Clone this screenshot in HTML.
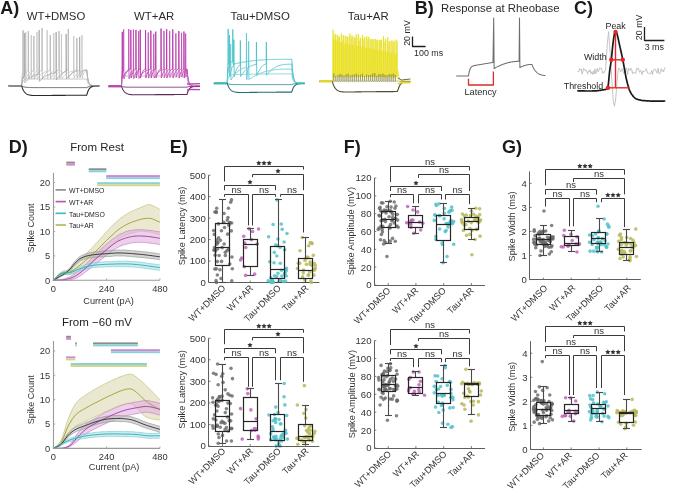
<!DOCTYPE html>
<html><head><meta charset="utf-8"><style>
html,body{margin:0;padding:0;background:#fff;overflow:hidden;}
svg{display:block;will-change:transform;}
text{font-family:"Liberation Sans", sans-serif;}
</style></head><body>
<svg width="685" height="489" viewBox="0 0 685 489">
<rect x="0" y="0" width="685" height="489" fill="#fff"/>
<line x1="208.50" y1="175.20" x2="208.50" y2="282.50" stroke="#5e5e5e" stroke-width="1"/>
<line x1="208.50" y1="282.50" x2="319.40" y2="282.50" stroke="#5e5e5e" stroke-width="1"/>
<line x1="208.60" y1="282.50" x2="210.60" y2="282.50" stroke="#5e5e5e" stroke-width="0.8"/>
<text x="205.80" y="285.90" font-size="9.6" text-anchor="end" font-weight="normal" fill="#333333">0</text>
<line x1="208.60" y1="261.04" x2="210.60" y2="261.04" stroke="#5e5e5e" stroke-width="0.8"/>
<text x="205.80" y="264.44" font-size="9.6" text-anchor="end" font-weight="normal" fill="#333333">100</text>
<line x1="208.60" y1="239.58" x2="210.60" y2="239.58" stroke="#5e5e5e" stroke-width="0.8"/>
<text x="205.80" y="242.98" font-size="9.6" text-anchor="end" font-weight="normal" fill="#333333">200</text>
<line x1="208.60" y1="218.12" x2="210.60" y2="218.12" stroke="#5e5e5e" stroke-width="0.8"/>
<text x="205.80" y="221.52" font-size="9.6" text-anchor="end" font-weight="normal" fill="#333333">300</text>
<line x1="208.60" y1="196.66" x2="210.60" y2="196.66" stroke="#5e5e5e" stroke-width="0.8"/>
<text x="205.80" y="200.06" font-size="9.6" text-anchor="end" font-weight="normal" fill="#333333">400</text>
<line x1="208.60" y1="175.20" x2="210.60" y2="175.20" stroke="#5e5e5e" stroke-width="0.8"/>
<text x="205.80" y="178.60" font-size="9.6" text-anchor="end" font-weight="normal" fill="#333333">500</text>
<line x1="222.50" y1="282.50" x2="222.50" y2="280.50" stroke="#5e5e5e" stroke-width="0.8"/>
<line x1="250.20" y1="282.50" x2="250.20" y2="280.50" stroke="#5e5e5e" stroke-width="0.8"/>
<line x1="278.00" y1="282.50" x2="278.00" y2="280.50" stroke="#5e5e5e" stroke-width="0.8"/>
<line x1="305.70" y1="282.50" x2="305.70" y2="280.50" stroke="#5e5e5e" stroke-width="0.8"/>
<text x="184.90" y="225.90" font-size="9.2" text-anchor="middle" font-weight="normal" fill="#333333" transform="rotate(-90 184.90 225.90)">Spike Latency (ms)</text>
<circle cx="231.78" cy="280.86" r="1.8" fill="#666666" fill-opacity="0.8"/>
<circle cx="227.66" cy="234.15" r="1.8" fill="#666666" fill-opacity="0.8"/>
<circle cx="214.86" cy="211.94" r="1.8" fill="#666666" fill-opacity="0.8"/>
<circle cx="217.43" cy="261.62" r="1.8" fill="#666666" fill-opacity="0.8"/>
<circle cx="214.52" cy="249.51" r="1.8" fill="#666666" fill-opacity="0.8"/>
<circle cx="213.70" cy="230.54" r="1.8" fill="#666666" fill-opacity="0.8"/>
<circle cx="228.44" cy="208.22" r="1.8" fill="#666666" fill-opacity="0.8"/>
<circle cx="216.05" cy="280.64" r="1.8" fill="#666666" fill-opacity="0.8"/>
<circle cx="223.69" cy="222.34" r="1.8" fill="#666666" fill-opacity="0.8"/>
<circle cx="221.45" cy="230.68" r="1.8" fill="#666666" fill-opacity="0.8"/>
<circle cx="216.31" cy="212.39" r="1.8" fill="#666666" fill-opacity="0.8"/>
<circle cx="227.14" cy="250.49" r="1.8" fill="#666666" fill-opacity="0.8"/>
<circle cx="215.12" cy="255.16" r="1.8" fill="#666666" fill-opacity="0.8"/>
<circle cx="225.37" cy="255.55" r="1.8" fill="#666666" fill-opacity="0.8"/>
<circle cx="214.83" cy="268.98" r="1.8" fill="#666666" fill-opacity="0.8"/>
<circle cx="220.92" cy="278.54" r="1.8" fill="#666666" fill-opacity="0.8"/>
<circle cx="216.76" cy="244.30" r="1.8" fill="#666666" fill-opacity="0.8"/>
<circle cx="217.90" cy="242.51" r="1.8" fill="#666666" fill-opacity="0.8"/>
<circle cx="231.92" cy="257.07" r="1.8" fill="#666666" fill-opacity="0.8"/>
<circle cx="228.57" cy="249.42" r="1.8" fill="#666666" fill-opacity="0.8"/>
<circle cx="218.58" cy="237.91" r="1.8" fill="#666666" fill-opacity="0.8"/>
<circle cx="230.20" cy="222.82" r="1.8" fill="#666666" fill-opacity="0.8"/>
<circle cx="216.71" cy="208.27" r="1.8" fill="#666666" fill-opacity="0.8"/>
<circle cx="220.39" cy="240.19" r="1.8" fill="#666666" fill-opacity="0.8"/>
<circle cx="229.59" cy="222.49" r="1.8" fill="#666666" fill-opacity="0.8"/>
<circle cx="225.34" cy="252.37" r="1.8" fill="#666666" fill-opacity="0.8"/>
<circle cx="214.51" cy="247.66" r="1.8" fill="#666666" fill-opacity="0.8"/>
<circle cx="232.29" cy="268.81" r="1.8" fill="#666666" fill-opacity="0.8"/>
<circle cx="216.76" cy="240.04" r="1.8" fill="#666666" fill-opacity="0.8"/>
<circle cx="217.67" cy="249.05" r="1.8" fill="#666666" fill-opacity="0.8"/>
<circle cx="227.95" cy="217.43" r="1.8" fill="#666666" fill-opacity="0.8"/>
<circle cx="219.08" cy="255.53" r="1.8" fill="#666666" fill-opacity="0.8"/>
<circle cx="218.43" cy="223.90" r="1.8" fill="#666666" fill-opacity="0.8"/>
<circle cx="213.97" cy="250.24" r="1.8" fill="#666666" fill-opacity="0.8"/>
<circle cx="214.30" cy="234.42" r="1.8" fill="#666666" fill-opacity="0.8"/>
<circle cx="224.15" cy="244.02" r="1.8" fill="#666666" fill-opacity="0.8"/>
<circle cx="217.36" cy="274.96" r="1.8" fill="#666666" fill-opacity="0.8"/>
<circle cx="224.53" cy="227.45" r="1.8" fill="#666666" fill-opacity="0.8"/>
<circle cx="219.93" cy="269.71" r="1.8" fill="#666666" fill-opacity="0.8"/>
<circle cx="221.56" cy="261.41" r="1.8" fill="#666666" fill-opacity="0.8"/>
<circle cx="231.68" cy="223.05" r="1.8" fill="#666666" fill-opacity="0.8"/>
<circle cx="222.17" cy="247.65" r="1.8" fill="#666666" fill-opacity="0.8"/>
<circle cx="223.99" cy="213.47" r="1.8" fill="#666666" fill-opacity="0.8"/>
<circle cx="229.83" cy="264.03" r="1.8" fill="#666666" fill-opacity="0.8"/>
<circle cx="216.16" cy="211.80" r="1.8" fill="#666666" fill-opacity="0.8"/>
<circle cx="215.58" cy="251.09" r="1.8" fill="#666666" fill-opacity="0.8"/>
<circle cx="230.67" cy="202.28" r="1.8" fill="#666666" fill-opacity="0.8"/>
<circle cx="228.86" cy="225.28" r="1.8" fill="#666666" fill-opacity="0.8"/>
<circle cx="217.49" cy="242.65" r="1.8" fill="#666666" fill-opacity="0.8"/>
<circle cx="216.30" cy="268.85" r="1.8" fill="#666666" fill-opacity="0.8"/>
<circle cx="227.29" cy="220.11" r="1.8" fill="#666666" fill-opacity="0.8"/>
<circle cx="231.31" cy="230.89" r="1.8" fill="#666666" fill-opacity="0.8"/>
<circle cx="216.43" cy="282.50" r="1.8" fill="#666666" fill-opacity="0.8"/>
<circle cx="231.50" cy="199.88" r="1.8" fill="#666666" fill-opacity="0.8"/>
<line x1="222.50" y1="199.50" x2="222.50" y2="223.49" stroke="#4a4a4a" stroke-width="1.1"/>
<line x1="222.50" y1="265.98" x2="222.50" y2="282.50" stroke="#4a4a4a" stroke-width="1.1"/>
<line x1="219.00" y1="199.50" x2="226.00" y2="199.50" stroke="#4a4a4a" stroke-width="1.1"/>
<line x1="219.00" y1="282.50" x2="226.00" y2="282.50" stroke="#4a4a4a" stroke-width="1.1"/>
<rect x="215.50" y="223.50" width="14" height="42" fill="none" stroke="#262626" stroke-width="1.2"/>
<line x1="215.50" y1="247.50" x2="229.50" y2="247.50" stroke="#262626" stroke-width="1.2"/>
<text x="226.00" y="288.70" font-size="9.2" text-anchor="end" font-weight="normal" fill="#333333" transform="rotate(-45 226.00 288.70)">WT+DMSO</text>
<circle cx="243.71" cy="236.31" r="1.8" fill="#c065b8" fill-opacity="0.85"/>
<circle cx="254.61" cy="274.16" r="1.8" fill="#c065b8" fill-opacity="0.85"/>
<circle cx="241.58" cy="258.08" r="1.8" fill="#c065b8" fill-opacity="0.85"/>
<circle cx="244.77" cy="243.04" r="1.8" fill="#c065b8" fill-opacity="0.85"/>
<circle cx="251.39" cy="239.64" r="1.8" fill="#c065b8" fill-opacity="0.85"/>
<circle cx="257.25" cy="243.97" r="1.8" fill="#c065b8" fill-opacity="0.85"/>
<circle cx="252.49" cy="231.56" r="1.8" fill="#c065b8" fill-opacity="0.85"/>
<circle cx="245.80" cy="247.55" r="1.8" fill="#c065b8" fill-opacity="0.85"/>
<circle cx="258.55" cy="228.94" r="1.8" fill="#c065b8" fill-opacity="0.85"/>
<circle cx="244.28" cy="266.76" r="1.8" fill="#c065b8" fill-opacity="0.85"/>
<circle cx="240.53" cy="260.06" r="1.8" fill="#c065b8" fill-opacity="0.85"/>
<circle cx="245.58" cy="275.42" r="1.8" fill="#c065b8" fill-opacity="0.85"/>
<circle cx="249.11" cy="228.85" r="1.8" fill="#c065b8" fill-opacity="0.85"/>
<line x1="250.50" y1="228.50" x2="250.50" y2="239.15" stroke="#4a4a4a" stroke-width="1.1"/>
<line x1="250.50" y1="266.40" x2="250.50" y2="275.50" stroke="#4a4a4a" stroke-width="1.1"/>
<line x1="247.00" y1="228.50" x2="254.00" y2="228.50" stroke="#4a4a4a" stroke-width="1.1"/>
<line x1="247.00" y1="275.50" x2="254.00" y2="275.50" stroke="#4a4a4a" stroke-width="1.1"/>
<rect x="243.50" y="239.50" width="14" height="27" fill="none" stroke="#262626" stroke-width="1.2"/>
<line x1="243.50" y1="244.50" x2="257.50" y2="244.50" stroke="#262626" stroke-width="1.2"/>
<text x="253.70" y="288.70" font-size="9.2" text-anchor="end" font-weight="normal" fill="#333333" transform="rotate(-45 253.70 288.70)">WT+AR</text>
<circle cx="284.77" cy="249.74" r="1.8" fill="#52c2ca" fill-opacity="0.85"/>
<circle cx="269.68" cy="261.68" r="1.8" fill="#52c2ca" fill-opacity="0.85"/>
<circle cx="283.00" cy="281.46" r="1.8" fill="#52c2ca" fill-opacity="0.85"/>
<circle cx="268.60" cy="236.73" r="1.8" fill="#52c2ca" fill-opacity="0.85"/>
<circle cx="280.03" cy="247.54" r="1.8" fill="#52c2ca" fill-opacity="0.85"/>
<circle cx="277.62" cy="245.63" r="1.8" fill="#52c2ca" fill-opacity="0.85"/>
<circle cx="272.60" cy="280.94" r="1.8" fill="#52c2ca" fill-opacity="0.85"/>
<circle cx="281.97" cy="275.97" r="1.8" fill="#52c2ca" fill-opacity="0.85"/>
<circle cx="277.95" cy="273.35" r="1.8" fill="#52c2ca" fill-opacity="0.85"/>
<circle cx="280.29" cy="263.25" r="1.8" fill="#52c2ca" fill-opacity="0.85"/>
<circle cx="286.41" cy="268.20" r="1.8" fill="#52c2ca" fill-opacity="0.85"/>
<circle cx="273.12" cy="224.47" r="1.8" fill="#52c2ca" fill-opacity="0.85"/>
<circle cx="268.23" cy="280.73" r="1.8" fill="#52c2ca" fill-opacity="0.85"/>
<circle cx="274.02" cy="262.69" r="1.8" fill="#52c2ca" fill-opacity="0.85"/>
<circle cx="281.56" cy="270.27" r="1.8" fill="#52c2ca" fill-opacity="0.85"/>
<circle cx="272.05" cy="279.68" r="1.8" fill="#52c2ca" fill-opacity="0.85"/>
<circle cx="271.39" cy="281.21" r="1.8" fill="#52c2ca" fill-opacity="0.85"/>
<circle cx="286.11" cy="271.06" r="1.8" fill="#52c2ca" fill-opacity="0.85"/>
<circle cx="281.20" cy="281.26" r="1.8" fill="#52c2ca" fill-opacity="0.85"/>
<circle cx="276.84" cy="256.02" r="1.8" fill="#52c2ca" fill-opacity="0.85"/>
<circle cx="285.83" cy="269.65" r="1.8" fill="#52c2ca" fill-opacity="0.85"/>
<circle cx="274.54" cy="275.87" r="1.8" fill="#52c2ca" fill-opacity="0.85"/>
<circle cx="281.32" cy="224.11" r="1.8" fill="#52c2ca" fill-opacity="0.85"/>
<circle cx="271.97" cy="282.45" r="1.8" fill="#52c2ca" fill-opacity="0.85"/>
<circle cx="276.62" cy="276.44" r="1.8" fill="#52c2ca" fill-opacity="0.85"/>
<circle cx="284.12" cy="242.06" r="1.8" fill="#52c2ca" fill-opacity="0.85"/>
<circle cx="286.28" cy="275.96" r="1.8" fill="#52c2ca" fill-opacity="0.85"/>
<circle cx="285.61" cy="281.02" r="1.8" fill="#52c2ca" fill-opacity="0.85"/>
<circle cx="275.69" cy="244.99" r="1.8" fill="#52c2ca" fill-opacity="0.85"/>
<circle cx="279.66" cy="279.69" r="1.8" fill="#52c2ca" fill-opacity="0.85"/>
<circle cx="274.33" cy="252.34" r="1.8" fill="#52c2ca" fill-opacity="0.85"/>
<circle cx="270.72" cy="277.90" r="1.8" fill="#52c2ca" fill-opacity="0.85"/>
<circle cx="277.93" cy="238.99" r="1.8" fill="#52c2ca" fill-opacity="0.85"/>
<circle cx="284.74" cy="273.86" r="1.8" fill="#52c2ca" fill-opacity="0.85"/>
<circle cx="284.97" cy="273.08" r="1.8" fill="#52c2ca" fill-opacity="0.85"/>
<circle cx="282.22" cy="229.21" r="1.8" fill="#52c2ca" fill-opacity="0.85"/>
<circle cx="287.00" cy="233.48" r="1.8" fill="#52c2ca" fill-opacity="0.85"/>
<circle cx="273.54" cy="282.21" r="1.8" fill="#52c2ca" fill-opacity="0.85"/>
<circle cx="271.38" cy="282.50" r="1.8" fill="#52c2ca" fill-opacity="0.85"/>
<circle cx="277.01" cy="199.88" r="1.8" fill="#52c2ca" fill-opacity="0.85"/>
<line x1="278.50" y1="199.50" x2="278.50" y2="246.45" stroke="#4a4a4a" stroke-width="1.1"/>
<line x1="278.50" y1="278.64" x2="278.50" y2="282.50" stroke="#4a4a4a" stroke-width="1.1"/>
<line x1="275.00" y1="199.50" x2="282.00" y2="199.50" stroke="#4a4a4a" stroke-width="1.1"/>
<line x1="275.00" y1="282.50" x2="282.00" y2="282.50" stroke="#4a4a4a" stroke-width="1.1"/>
<rect x="270.50" y="246.50" width="14" height="32" fill="none" stroke="#262626" stroke-width="1.2"/>
<line x1="270.50" y1="269.50" x2="284.50" y2="269.50" stroke="#262626" stroke-width="1.2"/>
<text x="281.50" y="288.70" font-size="9.2" text-anchor="end" font-weight="normal" fill="#333333" transform="rotate(-45 281.50 288.70)">Tau+DMSO</text>
<circle cx="302.61" cy="276.88" r="1.8" fill="#b9b95a" fill-opacity="0.85"/>
<circle cx="309.65" cy="271.98" r="1.8" fill="#b9b95a" fill-opacity="0.85"/>
<circle cx="306.11" cy="258.04" r="1.8" fill="#b9b95a" fill-opacity="0.85"/>
<circle cx="307.99" cy="257.38" r="1.8" fill="#b9b95a" fill-opacity="0.85"/>
<circle cx="310.82" cy="280.94" r="1.8" fill="#b9b95a" fill-opacity="0.85"/>
<circle cx="303.57" cy="270.08" r="1.8" fill="#b9b95a" fill-opacity="0.85"/>
<circle cx="311.54" cy="242.89" r="1.8" fill="#b9b95a" fill-opacity="0.85"/>
<circle cx="313.82" cy="275.13" r="1.8" fill="#b9b95a" fill-opacity="0.85"/>
<circle cx="297.44" cy="268.56" r="1.8" fill="#b9b95a" fill-opacity="0.85"/>
<circle cx="314.35" cy="263.33" r="1.8" fill="#b9b95a" fill-opacity="0.85"/>
<circle cx="310.15" cy="242.68" r="1.8" fill="#b9b95a" fill-opacity="0.85"/>
<circle cx="298.30" cy="263.22" r="1.8" fill="#b9b95a" fill-opacity="0.85"/>
<circle cx="304.77" cy="279.85" r="1.8" fill="#b9b95a" fill-opacity="0.85"/>
<circle cx="308.21" cy="275.04" r="1.8" fill="#b9b95a" fill-opacity="0.85"/>
<circle cx="313.90" cy="269.76" r="1.8" fill="#b9b95a" fill-opacity="0.85"/>
<circle cx="303.24" cy="272.93" r="1.8" fill="#b9b95a" fill-opacity="0.85"/>
<circle cx="307.08" cy="257.33" r="1.8" fill="#b9b95a" fill-opacity="0.85"/>
<circle cx="313.29" cy="255.36" r="1.8" fill="#b9b95a" fill-opacity="0.85"/>
<circle cx="311.64" cy="265.32" r="1.8" fill="#b9b95a" fill-opacity="0.85"/>
<circle cx="314.59" cy="269.89" r="1.8" fill="#b9b95a" fill-opacity="0.85"/>
<circle cx="304.97" cy="260.55" r="1.8" fill="#b9b95a" fill-opacity="0.85"/>
<circle cx="308.73" cy="245.81" r="1.8" fill="#b9b95a" fill-opacity="0.85"/>
<circle cx="299.80" cy="263.14" r="1.8" fill="#b9b95a" fill-opacity="0.85"/>
<circle cx="310.14" cy="262.10" r="1.8" fill="#b9b95a" fill-opacity="0.85"/>
<circle cx="312.07" cy="243.60" r="1.8" fill="#b9b95a" fill-opacity="0.85"/>
<circle cx="308.53" cy="275.31" r="1.8" fill="#b9b95a" fill-opacity="0.85"/>
<circle cx="310.05" cy="264.13" r="1.8" fill="#b9b95a" fill-opacity="0.85"/>
<circle cx="299.97" cy="250.78" r="1.8" fill="#b9b95a" fill-opacity="0.85"/>
<circle cx="313.70" cy="269.52" r="1.8" fill="#b9b95a" fill-opacity="0.85"/>
<circle cx="315.31" cy="268.25" r="1.8" fill="#b9b95a" fill-opacity="0.85"/>
<circle cx="315.25" cy="265.62" r="1.8" fill="#b9b95a" fill-opacity="0.85"/>
<circle cx="306.44" cy="264.35" r="1.8" fill="#b9b95a" fill-opacity="0.85"/>
<circle cx="311.52" cy="282.50" r="1.8" fill="#b9b95a" fill-opacity="0.85"/>
<circle cx="302.11" cy="237.43" r="1.8" fill="#b9b95a" fill-opacity="0.85"/>
<line x1="305.50" y1="237.50" x2="305.50" y2="258.25" stroke="#4a4a4a" stroke-width="1.1"/>
<line x1="305.50" y1="278.64" x2="305.50" y2="282.50" stroke="#4a4a4a" stroke-width="1.1"/>
<line x1="302.00" y1="237.50" x2="309.00" y2="237.50" stroke="#4a4a4a" stroke-width="1.1"/>
<line x1="302.00" y1="282.50" x2="309.00" y2="282.50" stroke="#4a4a4a" stroke-width="1.1"/>
<rect x="298.50" y="258.50" width="14" height="20" fill="none" stroke="#262626" stroke-width="1.2"/>
<line x1="298.50" y1="270.50" x2="312.50" y2="270.50" stroke="#262626" stroke-width="1.2"/>
<text x="309.20" y="288.70" font-size="9.2" text-anchor="end" font-weight="normal" fill="#333333" transform="rotate(-45 309.20 288.70)">Tau+AR</text>
<polyline points="224.50,181.50 224.50,166.50 303.50,166.50 303.50,169.60" stroke="#3a3a3a" stroke-width="1" fill="none" stroke-linejoin="round" stroke-linecap="butt"/>
<polygon points="258.80,160.45 259.61,162.09 261.42,162.35 260.11,163.62 260.42,165.42 258.80,164.57 257.18,165.42 257.49,163.62 256.18,162.35 257.99,162.09" fill="#333" stroke="none"/>
<polygon points="264.00,160.45 264.81,162.09 266.62,162.35 265.31,163.62 265.62,165.42 264.00,164.57 262.38,165.42 262.69,163.62 261.38,162.35 263.19,162.09" fill="#333" stroke="none"/>
<polygon points="269.20,160.45 270.01,162.09 271.82,162.35 270.51,163.62 270.82,165.42 269.20,164.57 267.58,165.42 267.89,163.62 266.58,162.35 268.39,162.09" fill="#333" stroke="none"/>
<polyline points="252.50,177.20 252.50,174.50 303.50,174.50 303.50,190.20" stroke="#3a3a3a" stroke-width="1" fill="none" stroke-linejoin="round" stroke-linecap="butt"/>
<polygon points="278.00,168.45 278.81,170.09 280.62,170.35 279.31,171.62 279.62,173.42 278.00,172.57 276.38,173.42 276.69,171.62 275.38,170.35 277.19,170.09" fill="#333" stroke="none"/>
<polyline points="224.50,190.20 224.50,185.50 275.50,185.50 275.50,190.20" stroke="#3a3a3a" stroke-width="1" fill="none" stroke-linejoin="round" stroke-linecap="butt"/>
<polygon points="250.00,179.45 250.81,181.09 252.62,181.35 251.31,182.62 251.62,184.42 250.00,183.57 248.38,184.42 248.69,182.62 247.38,181.35 249.19,181.09" fill="#333" stroke="none"/>
<polyline points="224.50,196.80 224.50,194.50 248.50,194.50 248.50,225.40" stroke="#3a3a3a" stroke-width="1" fill="none" stroke-linejoin="round" stroke-linecap="butt"/>
<text x="236.50" y="193.20" font-size="9.5" text-anchor="middle" font-weight="normal" fill="#333333">ns</text>
<polyline points="252.50,225.40 252.50,194.50 275.50,194.50 275.50,196.80" stroke="#3a3a3a" stroke-width="1" fill="none" stroke-linejoin="round" stroke-linecap="butt"/>
<text x="264.00" y="193.20" font-size="9.5" text-anchor="middle" font-weight="normal" fill="#333333">ns</text>
<polyline points="280.50,196.80 280.50,194.50 303.50,194.50 303.50,232.50" stroke="#3a3a3a" stroke-width="1" fill="none" stroke-linejoin="round" stroke-linecap="butt"/>
<text x="292.00" y="193.20" font-size="9.5" text-anchor="middle" font-weight="normal" fill="#333333">ns</text>
<line x1="208.50" y1="338.20" x2="208.50" y2="446.50" stroke="#5e5e5e" stroke-width="1"/>
<line x1="208.50" y1="446.50" x2="319.40" y2="446.50" stroke="#5e5e5e" stroke-width="1"/>
<line x1="208.60" y1="446.00" x2="210.60" y2="446.00" stroke="#5e5e5e" stroke-width="0.8"/>
<text x="205.80" y="449.40" font-size="9.6" text-anchor="end" font-weight="normal" fill="#333333">0</text>
<line x1="208.60" y1="424.44" x2="210.60" y2="424.44" stroke="#5e5e5e" stroke-width="0.8"/>
<text x="205.80" y="427.84" font-size="9.6" text-anchor="end" font-weight="normal" fill="#333333">100</text>
<line x1="208.60" y1="402.88" x2="210.60" y2="402.88" stroke="#5e5e5e" stroke-width="0.8"/>
<text x="205.80" y="406.28" font-size="9.6" text-anchor="end" font-weight="normal" fill="#333333">200</text>
<line x1="208.60" y1="381.32" x2="210.60" y2="381.32" stroke="#5e5e5e" stroke-width="0.8"/>
<text x="205.80" y="384.72" font-size="9.6" text-anchor="end" font-weight="normal" fill="#333333">300</text>
<line x1="208.60" y1="359.76" x2="210.60" y2="359.76" stroke="#5e5e5e" stroke-width="0.8"/>
<text x="205.80" y="363.16" font-size="9.6" text-anchor="end" font-weight="normal" fill="#333333">400</text>
<line x1="208.60" y1="338.20" x2="210.60" y2="338.20" stroke="#5e5e5e" stroke-width="0.8"/>
<text x="205.80" y="341.60" font-size="9.6" text-anchor="end" font-weight="normal" fill="#333333">500</text>
<line x1="222.50" y1="446.00" x2="222.50" y2="444.00" stroke="#5e5e5e" stroke-width="0.8"/>
<line x1="250.20" y1="446.00" x2="250.20" y2="444.00" stroke="#5e5e5e" stroke-width="0.8"/>
<line x1="278.00" y1="446.00" x2="278.00" y2="444.00" stroke="#5e5e5e" stroke-width="0.8"/>
<line x1="305.70" y1="446.00" x2="305.70" y2="444.00" stroke="#5e5e5e" stroke-width="0.8"/>
<text x="184.90" y="389.40" font-size="9.2" text-anchor="middle" font-weight="normal" fill="#333333" transform="rotate(-90 184.90 389.40)">Spike Latency (ms)</text>
<circle cx="216.94" cy="411.02" r="1.8" fill="#666666" fill-opacity="0.8"/>
<circle cx="221.04" cy="422.69" r="1.8" fill="#666666" fill-opacity="0.8"/>
<circle cx="220.26" cy="427.21" r="1.8" fill="#666666" fill-opacity="0.8"/>
<circle cx="227.94" cy="393.88" r="1.8" fill="#666666" fill-opacity="0.8"/>
<circle cx="214.55" cy="414.92" r="1.8" fill="#666666" fill-opacity="0.8"/>
<circle cx="223.50" cy="422.61" r="1.8" fill="#666666" fill-opacity="0.8"/>
<circle cx="216.06" cy="374.37" r="1.8" fill="#666666" fill-opacity="0.8"/>
<circle cx="226.42" cy="427.54" r="1.8" fill="#666666" fill-opacity="0.8"/>
<circle cx="213.24" cy="428.24" r="1.8" fill="#666666" fill-opacity="0.8"/>
<circle cx="218.03" cy="401.09" r="1.8" fill="#666666" fill-opacity="0.8"/>
<circle cx="219.38" cy="396.56" r="1.8" fill="#666666" fill-opacity="0.8"/>
<circle cx="225.24" cy="389.87" r="1.8" fill="#666666" fill-opacity="0.8"/>
<circle cx="213.54" cy="373.21" r="1.8" fill="#666666" fill-opacity="0.8"/>
<circle cx="221.69" cy="376.22" r="1.8" fill="#666666" fill-opacity="0.8"/>
<circle cx="216.68" cy="400.87" r="1.8" fill="#666666" fill-opacity="0.8"/>
<circle cx="218.14" cy="384.71" r="1.8" fill="#666666" fill-opacity="0.8"/>
<circle cx="222.03" cy="400.38" r="1.8" fill="#666666" fill-opacity="0.8"/>
<circle cx="231.67" cy="428.32" r="1.8" fill="#666666" fill-opacity="0.8"/>
<circle cx="222.12" cy="396.15" r="1.8" fill="#666666" fill-opacity="0.8"/>
<circle cx="231.62" cy="413.98" r="1.8" fill="#666666" fill-opacity="0.8"/>
<circle cx="215.85" cy="420.09" r="1.8" fill="#666666" fill-opacity="0.8"/>
<circle cx="230.98" cy="368.35" r="1.8" fill="#666666" fill-opacity="0.8"/>
<circle cx="219.78" cy="397.14" r="1.8" fill="#666666" fill-opacity="0.8"/>
<circle cx="216.28" cy="426.23" r="1.8" fill="#666666" fill-opacity="0.8"/>
<circle cx="227.47" cy="417.01" r="1.8" fill="#666666" fill-opacity="0.8"/>
<circle cx="230.74" cy="420.84" r="1.8" fill="#666666" fill-opacity="0.8"/>
<circle cx="212.63" cy="397.84" r="1.8" fill="#666666" fill-opacity="0.8"/>
<circle cx="217.87" cy="400.55" r="1.8" fill="#666666" fill-opacity="0.8"/>
<circle cx="227.91" cy="403.10" r="1.8" fill="#666666" fill-opacity="0.8"/>
<circle cx="219.34" cy="401.29" r="1.8" fill="#666666" fill-opacity="0.8"/>
<circle cx="217.33" cy="426.13" r="1.8" fill="#666666" fill-opacity="0.8"/>
<circle cx="212.67" cy="425.71" r="1.8" fill="#666666" fill-opacity="0.8"/>
<circle cx="213.30" cy="418.85" r="1.8" fill="#666666" fill-opacity="0.8"/>
<circle cx="224.88" cy="423.33" r="1.8" fill="#666666" fill-opacity="0.8"/>
<circle cx="232.18" cy="396.06" r="1.8" fill="#666666" fill-opacity="0.8"/>
<circle cx="232.47" cy="378.67" r="1.8" fill="#666666" fill-opacity="0.8"/>
<circle cx="222.57" cy="435.38" r="1.8" fill="#666666" fill-opacity="0.8"/>
<circle cx="212.98" cy="402.23" r="1.8" fill="#666666" fill-opacity="0.8"/>
<circle cx="218.95" cy="437.45" r="1.8" fill="#666666" fill-opacity="0.8"/>
<circle cx="228.25" cy="430.92" r="1.8" fill="#666666" fill-opacity="0.8"/>
<circle cx="229.14" cy="420.63" r="1.8" fill="#666666" fill-opacity="0.8"/>
<circle cx="225.29" cy="412.61" r="1.8" fill="#666666" fill-opacity="0.8"/>
<circle cx="217.09" cy="425.15" r="1.8" fill="#666666" fill-opacity="0.8"/>
<circle cx="223.04" cy="382.38" r="1.8" fill="#666666" fill-opacity="0.8"/>
<circle cx="222.05" cy="421.37" r="1.8" fill="#666666" fill-opacity="0.8"/>
<circle cx="225.04" cy="429.64" r="1.8" fill="#666666" fill-opacity="0.8"/>
<circle cx="217.75" cy="399.05" r="1.8" fill="#666666" fill-opacity="0.8"/>
<circle cx="231.43" cy="428.78" r="1.8" fill="#666666" fill-opacity="0.8"/>
<circle cx="230.39" cy="403.56" r="1.8" fill="#666666" fill-opacity="0.8"/>
<circle cx="215.74" cy="405.25" r="1.8" fill="#666666" fill-opacity="0.8"/>
<circle cx="218.33" cy="433.97" r="1.8" fill="#666666" fill-opacity="0.8"/>
<circle cx="229.96" cy="395.31" r="1.8" fill="#666666" fill-opacity="0.8"/>
<circle cx="218.07" cy="406.32" r="1.8" fill="#666666" fill-opacity="0.8"/>
<circle cx="231.38" cy="440.97" r="1.8" fill="#666666" fill-opacity="0.8"/>
<circle cx="222.80" cy="373.71" r="1.8" fill="#666666" fill-opacity="0.8"/>
<circle cx="226.42" cy="408.82" r="1.8" fill="#666666" fill-opacity="0.8"/>
<circle cx="226.59" cy="440.99" r="1.8" fill="#666666" fill-opacity="0.8"/>
<circle cx="216.78" cy="404.46" r="1.8" fill="#666666" fill-opacity="0.8"/>
<circle cx="218.20" cy="443.20" r="1.8" fill="#666666" fill-opacity="0.8"/>
<circle cx="217.60" cy="364.07" r="1.8" fill="#666666" fill-opacity="0.8"/>
<line x1="222.50" y1="364.50" x2="222.50" y2="400.72" stroke="#4a4a4a" stroke-width="1.1"/>
<line x1="222.50" y1="431.55" x2="222.50" y2="443.50" stroke="#4a4a4a" stroke-width="1.1"/>
<line x1="219.00" y1="364.50" x2="226.00" y2="364.50" stroke="#4a4a4a" stroke-width="1.1"/>
<line x1="219.00" y1="443.50" x2="226.00" y2="443.50" stroke="#4a4a4a" stroke-width="1.1"/>
<rect x="215.50" y="400.50" width="14" height="31" fill="none" stroke="#262626" stroke-width="1.2"/>
<line x1="215.50" y1="416.50" x2="229.50" y2="416.50" stroke="#262626" stroke-width="1.2"/>
<text x="226.00" y="451.70" font-size="9.2" text-anchor="end" font-weight="normal" fill="#333333" transform="rotate(-45 226.00 451.70)">WT+DMSO</text>
<circle cx="254.92" cy="430.22" r="1.8" fill="#c065b8" fill-opacity="0.85"/>
<circle cx="251.47" cy="430.59" r="1.8" fill="#c065b8" fill-opacity="0.85"/>
<circle cx="240.54" cy="408.66" r="1.8" fill="#c065b8" fill-opacity="0.85"/>
<circle cx="254.40" cy="428.62" r="1.8" fill="#c065b8" fill-opacity="0.85"/>
<circle cx="258.28" cy="438.95" r="1.8" fill="#c065b8" fill-opacity="0.85"/>
<circle cx="256.15" cy="418.81" r="1.8" fill="#c065b8" fill-opacity="0.85"/>
<circle cx="258.15" cy="436.14" r="1.8" fill="#c065b8" fill-opacity="0.85"/>
<circle cx="258.41" cy="437.53" r="1.8" fill="#c065b8" fill-opacity="0.85"/>
<circle cx="250.90" cy="409.89" r="1.8" fill="#c065b8" fill-opacity="0.85"/>
<circle cx="255.98" cy="429.14" r="1.8" fill="#c065b8" fill-opacity="0.85"/>
<circle cx="247.79" cy="393.60" r="1.8" fill="#c065b8" fill-opacity="0.85"/>
<circle cx="242.17" cy="439.10" r="1.8" fill="#c065b8" fill-opacity="0.85"/>
<circle cx="247.26" cy="388.87" r="1.8" fill="#c065b8" fill-opacity="0.85"/>
<line x1="250.50" y1="388.50" x2="250.50" y2="397.49" stroke="#4a4a4a" stroke-width="1.1"/>
<line x1="250.50" y1="430.91" x2="250.50" y2="439.50" stroke="#4a4a4a" stroke-width="1.1"/>
<line x1="247.00" y1="388.50" x2="254.00" y2="388.50" stroke="#4a4a4a" stroke-width="1.1"/>
<line x1="247.00" y1="439.50" x2="254.00" y2="439.50" stroke="#4a4a4a" stroke-width="1.1"/>
<rect x="243.50" y="397.50" width="14" height="33" fill="none" stroke="#262626" stroke-width="1.2"/>
<line x1="243.50" y1="421.50" x2="257.50" y2="421.50" stroke="#262626" stroke-width="1.2"/>
<text x="253.70" y="451.70" font-size="9.2" text-anchor="end" font-weight="normal" fill="#333333" transform="rotate(-45 253.70 451.70)">WT+AR</text>
<circle cx="278.76" cy="442.91" r="1.8" fill="#52c2ca" fill-opacity="0.85"/>
<circle cx="283.23" cy="437.52" r="1.8" fill="#52c2ca" fill-opacity="0.85"/>
<circle cx="275.91" cy="436.31" r="1.8" fill="#52c2ca" fill-opacity="0.85"/>
<circle cx="281.47" cy="436.14" r="1.8" fill="#52c2ca" fill-opacity="0.85"/>
<circle cx="281.27" cy="435.80" r="1.8" fill="#52c2ca" fill-opacity="0.85"/>
<circle cx="287.45" cy="439.12" r="1.8" fill="#52c2ca" fill-opacity="0.85"/>
<circle cx="279.08" cy="419.55" r="1.8" fill="#52c2ca" fill-opacity="0.85"/>
<circle cx="281.62" cy="440.99" r="1.8" fill="#52c2ca" fill-opacity="0.85"/>
<circle cx="275.00" cy="418.90" r="1.8" fill="#52c2ca" fill-opacity="0.85"/>
<circle cx="282.65" cy="434.35" r="1.8" fill="#52c2ca" fill-opacity="0.85"/>
<circle cx="274.45" cy="438.05" r="1.8" fill="#52c2ca" fill-opacity="0.85"/>
<circle cx="278.00" cy="412.66" r="1.8" fill="#52c2ca" fill-opacity="0.85"/>
<circle cx="275.22" cy="419.47" r="1.8" fill="#52c2ca" fill-opacity="0.85"/>
<circle cx="274.14" cy="438.77" r="1.8" fill="#52c2ca" fill-opacity="0.85"/>
<circle cx="270.72" cy="433.64" r="1.8" fill="#52c2ca" fill-opacity="0.85"/>
<circle cx="272.51" cy="426.79" r="1.8" fill="#52c2ca" fill-opacity="0.85"/>
<circle cx="278.89" cy="445.37" r="1.8" fill="#52c2ca" fill-opacity="0.85"/>
<circle cx="273.04" cy="429.41" r="1.8" fill="#52c2ca" fill-opacity="0.85"/>
<circle cx="268.92" cy="415.05" r="1.8" fill="#52c2ca" fill-opacity="0.85"/>
<circle cx="284.07" cy="396.83" r="1.8" fill="#52c2ca" fill-opacity="0.85"/>
<circle cx="273.71" cy="436.68" r="1.8" fill="#52c2ca" fill-opacity="0.85"/>
<circle cx="286.72" cy="415.49" r="1.8" fill="#52c2ca" fill-opacity="0.85"/>
<circle cx="279.98" cy="445.91" r="1.8" fill="#52c2ca" fill-opacity="0.85"/>
<circle cx="275.78" cy="407.09" r="1.8" fill="#52c2ca" fill-opacity="0.85"/>
<circle cx="285.46" cy="430.37" r="1.8" fill="#52c2ca" fill-opacity="0.85"/>
<circle cx="285.94" cy="433.15" r="1.8" fill="#52c2ca" fill-opacity="0.85"/>
<circle cx="274.42" cy="414.48" r="1.8" fill="#52c2ca" fill-opacity="0.85"/>
<circle cx="270.52" cy="439.78" r="1.8" fill="#52c2ca" fill-opacity="0.85"/>
<circle cx="280.82" cy="424.03" r="1.8" fill="#52c2ca" fill-opacity="0.85"/>
<circle cx="284.85" cy="404.89" r="1.8" fill="#52c2ca" fill-opacity="0.85"/>
<circle cx="280.17" cy="438.92" r="1.8" fill="#52c2ca" fill-opacity="0.85"/>
<circle cx="283.69" cy="433.99" r="1.8" fill="#52c2ca" fill-opacity="0.85"/>
<circle cx="276.25" cy="438.77" r="1.8" fill="#52c2ca" fill-opacity="0.85"/>
<circle cx="280.36" cy="423.75" r="1.8" fill="#52c2ca" fill-opacity="0.85"/>
<circle cx="273.26" cy="420.73" r="1.8" fill="#52c2ca" fill-opacity="0.85"/>
<circle cx="276.14" cy="439.65" r="1.8" fill="#52c2ca" fill-opacity="0.85"/>
<circle cx="275.59" cy="418.78" r="1.8" fill="#52c2ca" fill-opacity="0.85"/>
<circle cx="275.69" cy="422.42" r="1.8" fill="#52c2ca" fill-opacity="0.85"/>
<circle cx="275.99" cy="446.00" r="1.8" fill="#52c2ca" fill-opacity="0.85"/>
<circle cx="284.14" cy="383.48" r="1.8" fill="#52c2ca" fill-opacity="0.85"/>
<line x1="278.50" y1="383.50" x2="278.50" y2="414.09" stroke="#4a4a4a" stroke-width="1.1"/>
<line x1="278.50" y1="440.18" x2="278.50" y2="446.50" stroke="#4a4a4a" stroke-width="1.1"/>
<line x1="275.00" y1="383.50" x2="282.00" y2="383.50" stroke="#4a4a4a" stroke-width="1.1"/>
<line x1="275.00" y1="446.50" x2="282.00" y2="446.50" stroke="#4a4a4a" stroke-width="1.1"/>
<rect x="270.50" y="414.50" width="14" height="26" fill="none" stroke="#262626" stroke-width="1.2"/>
<line x1="270.50" y1="431.50" x2="284.50" y2="431.50" stroke="#262626" stroke-width="1.2"/>
<text x="281.50" y="451.70" font-size="9.2" text-anchor="end" font-weight="normal" fill="#333333" transform="rotate(-45 281.50 451.70)">Tau+DMSO</text>
<circle cx="309.40" cy="440.30" r="1.8" fill="#b9b95a" fill-opacity="0.85"/>
<circle cx="306.42" cy="430.54" r="1.8" fill="#b9b95a" fill-opacity="0.85"/>
<circle cx="304.67" cy="425.86" r="1.8" fill="#b9b95a" fill-opacity="0.85"/>
<circle cx="306.25" cy="436.80" r="1.8" fill="#b9b95a" fill-opacity="0.85"/>
<circle cx="308.73" cy="438.39" r="1.8" fill="#b9b95a" fill-opacity="0.85"/>
<circle cx="311.71" cy="436.60" r="1.8" fill="#b9b95a" fill-opacity="0.85"/>
<circle cx="305.81" cy="418.01" r="1.8" fill="#b9b95a" fill-opacity="0.85"/>
<circle cx="308.41" cy="429.13" r="1.8" fill="#b9b95a" fill-opacity="0.85"/>
<circle cx="305.05" cy="441.74" r="1.8" fill="#b9b95a" fill-opacity="0.85"/>
<circle cx="308.38" cy="436.82" r="1.8" fill="#b9b95a" fill-opacity="0.85"/>
<circle cx="303.47" cy="441.74" r="1.8" fill="#b9b95a" fill-opacity="0.85"/>
<circle cx="304.00" cy="413.38" r="1.8" fill="#b9b95a" fill-opacity="0.85"/>
<circle cx="306.03" cy="409.54" r="1.8" fill="#b9b95a" fill-opacity="0.85"/>
<circle cx="310.00" cy="430.26" r="1.8" fill="#b9b95a" fill-opacity="0.85"/>
<circle cx="301.27" cy="440.12" r="1.8" fill="#b9b95a" fill-opacity="0.85"/>
<circle cx="314.20" cy="433.44" r="1.8" fill="#b9b95a" fill-opacity="0.85"/>
<circle cx="305.53" cy="437.28" r="1.8" fill="#b9b95a" fill-opacity="0.85"/>
<circle cx="312.81" cy="436.67" r="1.8" fill="#b9b95a" fill-opacity="0.85"/>
<circle cx="309.51" cy="433.65" r="1.8" fill="#b9b95a" fill-opacity="0.85"/>
<circle cx="314.83" cy="431.30" r="1.8" fill="#b9b95a" fill-opacity="0.85"/>
<circle cx="309.35" cy="427.06" r="1.8" fill="#b9b95a" fill-opacity="0.85"/>
<circle cx="304.24" cy="437.44" r="1.8" fill="#b9b95a" fill-opacity="0.85"/>
<circle cx="303.82" cy="441.54" r="1.8" fill="#b9b95a" fill-opacity="0.85"/>
<circle cx="307.85" cy="432.17" r="1.8" fill="#b9b95a" fill-opacity="0.85"/>
<circle cx="310.78" cy="425.86" r="1.8" fill="#b9b95a" fill-opacity="0.85"/>
<circle cx="312.48" cy="441.13" r="1.8" fill="#b9b95a" fill-opacity="0.85"/>
<circle cx="298.29" cy="438.63" r="1.8" fill="#b9b95a" fill-opacity="0.85"/>
<circle cx="296.95" cy="438.15" r="1.8" fill="#b9b95a" fill-opacity="0.85"/>
<circle cx="297.86" cy="444.28" r="1.8" fill="#b9b95a" fill-opacity="0.85"/>
<circle cx="297.38" cy="405.04" r="1.8" fill="#b9b95a" fill-opacity="0.85"/>
<circle cx="304.37" cy="385.63" r="1.8" fill="#b9b95a" fill-opacity="0.85"/>
<line x1="305.50" y1="405.50" x2="305.50" y2="424.44" stroke="#4a4a4a" stroke-width="1.1"/>
<line x1="305.50" y1="440.61" x2="305.50" y2="444.50" stroke="#4a4a4a" stroke-width="1.1"/>
<line x1="302.00" y1="405.50" x2="309.00" y2="405.50" stroke="#4a4a4a" stroke-width="1.1"/>
<line x1="302.00" y1="444.50" x2="309.00" y2="444.50" stroke="#4a4a4a" stroke-width="1.1"/>
<rect x="298.50" y="424.50" width="14" height="16" fill="none" stroke="#262626" stroke-width="1.2"/>
<line x1="298.50" y1="436.50" x2="312.50" y2="436.50" stroke="#262626" stroke-width="1.2"/>
<text x="309.20" y="451.70" font-size="9.2" text-anchor="end" font-weight="normal" fill="#333333" transform="rotate(-45 309.20 451.70)">Tau+AR</text>
<polyline points="224.50,344.20 224.50,329.50 303.50,329.50 303.50,332.70" stroke="#3a3a3a" stroke-width="1" fill="none" stroke-linejoin="round" stroke-linecap="butt"/>
<polygon points="258.80,323.45 259.61,325.09 261.42,325.35 260.11,326.62 260.42,328.42 258.80,327.57 257.18,328.42 257.49,326.62 256.18,325.35 257.99,325.09" fill="#333" stroke="none"/>
<polygon points="264.00,323.45 264.81,325.09 266.62,325.35 265.31,326.62 265.62,328.42 264.00,327.57 262.38,328.42 262.69,326.62 261.38,325.35 263.19,325.09" fill="#333" stroke="none"/>
<polygon points="269.20,323.45 270.01,325.09 271.82,325.35 270.51,326.62 270.82,328.42 269.20,327.57 267.58,328.42 267.89,326.62 266.58,325.35 268.39,325.09" fill="#333" stroke="none"/>
<polyline points="252.50,340.40 252.50,337.50 303.50,337.50 303.50,353.20" stroke="#3a3a3a" stroke-width="1" fill="none" stroke-linejoin="round" stroke-linecap="butt"/>
<polygon points="278.00,331.45 278.81,333.09 280.62,333.35 279.31,334.62 279.62,336.42 278.00,335.57 276.38,336.42 276.69,334.62 275.38,333.35 277.19,333.09" fill="#333" stroke="none"/>
<polyline points="224.50,353.20 224.50,348.50 275.50,348.50 275.50,353.20" stroke="#3a3a3a" stroke-width="1" fill="none" stroke-linejoin="round" stroke-linecap="butt"/>
<polygon points="250.00,342.45 250.81,344.09 252.62,344.35 251.31,345.62 251.62,347.42 250.00,346.57 248.38,347.42 248.69,345.62 247.38,344.35 249.19,344.09" fill="#333" stroke="none"/>
<polyline points="224.50,360.20 224.50,357.50 248.50,357.50 248.50,386.70" stroke="#3a3a3a" stroke-width="1" fill="none" stroke-linejoin="round" stroke-linecap="butt"/>
<text x="236.50" y="356.20" font-size="9.5" text-anchor="middle" font-weight="normal" fill="#333333">ns</text>
<polyline points="252.50,386.70 252.50,357.50 275.50,357.50 275.50,380.20" stroke="#3a3a3a" stroke-width="1" fill="none" stroke-linejoin="round" stroke-linecap="butt"/>
<text x="264.00" y="356.20" font-size="9.5" text-anchor="middle" font-weight="normal" fill="#333333">ns</text>
<polyline points="280.50,380.20 280.50,357.50 303.50,357.50 303.50,381.80" stroke="#3a3a3a" stroke-width="1" fill="none" stroke-linejoin="round" stroke-linecap="butt"/>
<text x="292.00" y="356.20" font-size="9.5" text-anchor="middle" font-weight="normal" fill="#333333">ns</text>
<line x1="374.50" y1="178.00" x2="374.50" y2="285.50" stroke="#5e5e5e" stroke-width="1"/>
<line x1="374.50" y1="285.50" x2="485.10" y2="285.50" stroke="#5e5e5e" stroke-width="1"/>
<line x1="374.30" y1="285.00" x2="376.30" y2="285.00" stroke="#5e5e5e" stroke-width="0.8"/>
<text x="371.50" y="288.40" font-size="9.6" text-anchor="end" font-weight="normal" fill="#333333">0</text>
<line x1="374.30" y1="267.17" x2="376.30" y2="267.17" stroke="#5e5e5e" stroke-width="0.8"/>
<text x="371.50" y="270.57" font-size="9.6" text-anchor="end" font-weight="normal" fill="#333333">20</text>
<line x1="374.30" y1="249.33" x2="376.30" y2="249.33" stroke="#5e5e5e" stroke-width="0.8"/>
<text x="371.50" y="252.73" font-size="9.6" text-anchor="end" font-weight="normal" fill="#333333">40</text>
<line x1="374.30" y1="231.50" x2="376.30" y2="231.50" stroke="#5e5e5e" stroke-width="0.8"/>
<text x="371.50" y="234.90" font-size="9.6" text-anchor="end" font-weight="normal" fill="#333333">60</text>
<line x1="374.30" y1="213.66" x2="376.30" y2="213.66" stroke="#5e5e5e" stroke-width="0.8"/>
<text x="371.50" y="217.06" font-size="9.6" text-anchor="end" font-weight="normal" fill="#333333">80</text>
<line x1="374.30" y1="195.83" x2="376.30" y2="195.83" stroke="#5e5e5e" stroke-width="0.8"/>
<text x="371.50" y="199.23" font-size="9.6" text-anchor="end" font-weight="normal" fill="#333333">100</text>
<line x1="374.30" y1="178.00" x2="376.30" y2="178.00" stroke="#5e5e5e" stroke-width="0.8"/>
<text x="371.50" y="181.40" font-size="9.6" text-anchor="end" font-weight="normal" fill="#333333">120</text>
<line x1="388.20" y1="285.00" x2="388.20" y2="283.00" stroke="#5e5e5e" stroke-width="0.8"/>
<line x1="415.90" y1="285.00" x2="415.90" y2="283.00" stroke="#5e5e5e" stroke-width="0.8"/>
<line x1="443.70" y1="285.00" x2="443.70" y2="283.00" stroke="#5e5e5e" stroke-width="0.8"/>
<line x1="471.40" y1="285.00" x2="471.40" y2="283.00" stroke="#5e5e5e" stroke-width="0.8"/>
<text x="354.50" y="231.20" font-size="9.2" text-anchor="middle" font-weight="normal" fill="#333333" transform="rotate(-90 354.50 231.20)">Spike Amplitude (mV)</text>
<circle cx="382.91" cy="220.15" r="1.8" fill="#666666" fill-opacity="0.8"/>
<circle cx="382.91" cy="202.95" r="1.8" fill="#666666" fill-opacity="0.8"/>
<circle cx="382.09" cy="229.37" r="1.8" fill="#666666" fill-opacity="0.8"/>
<circle cx="385.53" cy="242.58" r="1.8" fill="#666666" fill-opacity="0.8"/>
<circle cx="379.67" cy="216.00" r="1.8" fill="#666666" fill-opacity="0.8"/>
<circle cx="391.22" cy="211.97" r="1.8" fill="#666666" fill-opacity="0.8"/>
<circle cx="397.27" cy="214.46" r="1.8" fill="#666666" fill-opacity="0.8"/>
<circle cx="385.99" cy="212.98" r="1.8" fill="#666666" fill-opacity="0.8"/>
<circle cx="392.58" cy="219.71" r="1.8" fill="#666666" fill-opacity="0.8"/>
<circle cx="396.86" cy="225.97" r="1.8" fill="#666666" fill-opacity="0.8"/>
<circle cx="379.06" cy="228.02" r="1.8" fill="#666666" fill-opacity="0.8"/>
<circle cx="381.03" cy="220.81" r="1.8" fill="#666666" fill-opacity="0.8"/>
<circle cx="394.32" cy="222.91" r="1.8" fill="#666666" fill-opacity="0.8"/>
<circle cx="394.96" cy="208.20" r="1.8" fill="#666666" fill-opacity="0.8"/>
<circle cx="390.98" cy="211.43" r="1.8" fill="#666666" fill-opacity="0.8"/>
<circle cx="381.40" cy="234.45" r="1.8" fill="#666666" fill-opacity="0.8"/>
<circle cx="386.47" cy="210.55" r="1.8" fill="#666666" fill-opacity="0.8"/>
<circle cx="395.56" cy="218.24" r="1.8" fill="#666666" fill-opacity="0.8"/>
<circle cx="395.92" cy="206.06" r="1.8" fill="#666666" fill-opacity="0.8"/>
<circle cx="394.26" cy="201.94" r="1.8" fill="#666666" fill-opacity="0.8"/>
<circle cx="382.26" cy="211.99" r="1.8" fill="#666666" fill-opacity="0.8"/>
<circle cx="395.27" cy="241.31" r="1.8" fill="#666666" fill-opacity="0.8"/>
<circle cx="385.70" cy="210.94" r="1.8" fill="#666666" fill-opacity="0.8"/>
<circle cx="392.53" cy="238.41" r="1.8" fill="#666666" fill-opacity="0.8"/>
<circle cx="380.94" cy="226.37" r="1.8" fill="#666666" fill-opacity="0.8"/>
<circle cx="397.63" cy="220.10" r="1.8" fill="#666666" fill-opacity="0.8"/>
<circle cx="390.27" cy="241.13" r="1.8" fill="#666666" fill-opacity="0.8"/>
<circle cx="392.65" cy="217.54" r="1.8" fill="#666666" fill-opacity="0.8"/>
<circle cx="382.43" cy="231.91" r="1.8" fill="#666666" fill-opacity="0.8"/>
<circle cx="390.54" cy="224.51" r="1.8" fill="#666666" fill-opacity="0.8"/>
<circle cx="389.82" cy="228.24" r="1.8" fill="#666666" fill-opacity="0.8"/>
<circle cx="390.02" cy="210.56" r="1.8" fill="#666666" fill-opacity="0.8"/>
<circle cx="385.39" cy="221.59" r="1.8" fill="#666666" fill-opacity="0.8"/>
<circle cx="392.75" cy="214.14" r="1.8" fill="#666666" fill-opacity="0.8"/>
<circle cx="385.03" cy="210.99" r="1.8" fill="#666666" fill-opacity="0.8"/>
<circle cx="384.11" cy="240.46" r="1.8" fill="#666666" fill-opacity="0.8"/>
<circle cx="381.49" cy="202.86" r="1.8" fill="#666666" fill-opacity="0.8"/>
<circle cx="391.88" cy="220.84" r="1.8" fill="#666666" fill-opacity="0.8"/>
<circle cx="380.45" cy="239.73" r="1.8" fill="#666666" fill-opacity="0.8"/>
<circle cx="382.71" cy="226.36" r="1.8" fill="#666666" fill-opacity="0.8"/>
<circle cx="379.58" cy="208.48" r="1.8" fill="#666666" fill-opacity="0.8"/>
<circle cx="391.07" cy="207.09" r="1.8" fill="#666666" fill-opacity="0.8"/>
<circle cx="389.32" cy="226.75" r="1.8" fill="#666666" fill-opacity="0.8"/>
<circle cx="389.07" cy="216.72" r="1.8" fill="#666666" fill-opacity="0.8"/>
<circle cx="378.98" cy="215.24" r="1.8" fill="#666666" fill-opacity="0.8"/>
<circle cx="386.99" cy="206.71" r="1.8" fill="#666666" fill-opacity="0.8"/>
<circle cx="385.06" cy="219.32" r="1.8" fill="#666666" fill-opacity="0.8"/>
<circle cx="380.05" cy="207.28" r="1.8" fill="#666666" fill-opacity="0.8"/>
<circle cx="378.26" cy="229.48" r="1.8" fill="#666666" fill-opacity="0.8"/>
<circle cx="398.16" cy="227.19" r="1.8" fill="#666666" fill-opacity="0.8"/>
<circle cx="380.63" cy="210.64" r="1.8" fill="#666666" fill-opacity="0.8"/>
<circle cx="384.23" cy="210.01" r="1.8" fill="#666666" fill-opacity="0.8"/>
<circle cx="383.58" cy="243.98" r="1.8" fill="#666666" fill-opacity="0.8"/>
<circle cx="390.15" cy="201.18" r="1.8" fill="#666666" fill-opacity="0.8"/>
<circle cx="386.93" cy="256.47" r="1.8" fill="#666666" fill-opacity="0.8"/>
<line x1="388.50" y1="201.50" x2="388.50" y2="211.88" stroke="#4a4a4a" stroke-width="1.1"/>
<line x1="388.50" y1="227.93" x2="388.50" y2="243.50" stroke="#4a4a4a" stroke-width="1.1"/>
<line x1="385.00" y1="201.50" x2="392.00" y2="201.50" stroke="#4a4a4a" stroke-width="1.1"/>
<line x1="385.00" y1="243.50" x2="392.00" y2="243.50" stroke="#4a4a4a" stroke-width="1.1"/>
<rect x="381.50" y="211.50" width="14" height="16" fill="none" stroke="#262626" stroke-width="1.2"/>
<line x1="381.50" y1="219.50" x2="395.50" y2="219.50" stroke="#262626" stroke-width="1.2"/>
<text x="391.20" y="291.20" font-size="9.2" text-anchor="end" font-weight="normal" fill="#333333" transform="rotate(-45 391.20 291.20)">WT+DMSO</text>
<circle cx="420.67" cy="230.03" r="1.8" fill="#c065b8" fill-opacity="0.85"/>
<circle cx="411.07" cy="220.68" r="1.8" fill="#c065b8" fill-opacity="0.85"/>
<circle cx="419.58" cy="222.01" r="1.8" fill="#c065b8" fill-opacity="0.85"/>
<circle cx="422.88" cy="223.31" r="1.8" fill="#c065b8" fill-opacity="0.85"/>
<circle cx="411.07" cy="227.30" r="1.8" fill="#c065b8" fill-opacity="0.85"/>
<circle cx="417.66" cy="211.90" r="1.8" fill="#c065b8" fill-opacity="0.85"/>
<circle cx="413.01" cy="210.05" r="1.8" fill="#c065b8" fill-opacity="0.85"/>
<circle cx="410.79" cy="224.39" r="1.8" fill="#c065b8" fill-opacity="0.85"/>
<circle cx="411.65" cy="220.04" r="1.8" fill="#c065b8" fill-opacity="0.85"/>
<circle cx="409.98" cy="223.16" r="1.8" fill="#c065b8" fill-opacity="0.85"/>
<circle cx="412.92" cy="220.01" r="1.8" fill="#c065b8" fill-opacity="0.85"/>
<circle cx="406.66" cy="222.73" r="1.8" fill="#c065b8" fill-opacity="0.85"/>
<circle cx="413.85" cy="233.28" r="1.8" fill="#c065b8" fill-opacity="0.85"/>
<circle cx="407.64" cy="206.53" r="1.8" fill="#c065b8" fill-opacity="0.85"/>
<line x1="415.50" y1="206.50" x2="415.50" y2="215.45" stroke="#4a4a4a" stroke-width="1.1"/>
<line x1="415.50" y1="227.93" x2="415.50" y2="233.50" stroke="#4a4a4a" stroke-width="1.1"/>
<line x1="412.00" y1="206.50" x2="419.00" y2="206.50" stroke="#4a4a4a" stroke-width="1.1"/>
<line x1="412.00" y1="233.50" x2="419.00" y2="233.50" stroke="#4a4a4a" stroke-width="1.1"/>
<rect x="408.50" y="215.50" width="14" height="12" fill="none" stroke="#262626" stroke-width="1.2"/>
<line x1="408.50" y1="222.50" x2="422.50" y2="222.50" stroke="#262626" stroke-width="1.2"/>
<text x="418.90" y="291.20" font-size="9.2" text-anchor="end" font-weight="normal" fill="#333333" transform="rotate(-45 418.90 291.20)">WT+AR</text>
<circle cx="448.07" cy="223.45" r="1.8" fill="#52c2ca" fill-opacity="0.85"/>
<circle cx="447.03" cy="256.55" r="1.8" fill="#52c2ca" fill-opacity="0.85"/>
<circle cx="452.41" cy="223.78" r="1.8" fill="#52c2ca" fill-opacity="0.85"/>
<circle cx="444.10" cy="218.83" r="1.8" fill="#52c2ca" fill-opacity="0.85"/>
<circle cx="452.11" cy="210.27" r="1.8" fill="#52c2ca" fill-opacity="0.85"/>
<circle cx="442.51" cy="244.54" r="1.8" fill="#52c2ca" fill-opacity="0.85"/>
<circle cx="445.17" cy="231.58" r="1.8" fill="#52c2ca" fill-opacity="0.85"/>
<circle cx="446.11" cy="230.61" r="1.8" fill="#52c2ca" fill-opacity="0.85"/>
<circle cx="450.49" cy="210.66" r="1.8" fill="#52c2ca" fill-opacity="0.85"/>
<circle cx="451.65" cy="207.15" r="1.8" fill="#52c2ca" fill-opacity="0.85"/>
<circle cx="436.01" cy="204.34" r="1.8" fill="#52c2ca" fill-opacity="0.85"/>
<circle cx="436.44" cy="205.57" r="1.8" fill="#52c2ca" fill-opacity="0.85"/>
<circle cx="444.38" cy="208.43" r="1.8" fill="#52c2ca" fill-opacity="0.85"/>
<circle cx="449.95" cy="222.14" r="1.8" fill="#52c2ca" fill-opacity="0.85"/>
<circle cx="444.37" cy="213.34" r="1.8" fill="#52c2ca" fill-opacity="0.85"/>
<circle cx="439.69" cy="229.10" r="1.8" fill="#52c2ca" fill-opacity="0.85"/>
<circle cx="452.94" cy="222.14" r="1.8" fill="#52c2ca" fill-opacity="0.85"/>
<circle cx="439.66" cy="215.69" r="1.8" fill="#52c2ca" fill-opacity="0.85"/>
<circle cx="435.44" cy="215.33" r="1.8" fill="#52c2ca" fill-opacity="0.85"/>
<circle cx="434.74" cy="214.70" r="1.8" fill="#52c2ca" fill-opacity="0.85"/>
<circle cx="434.31" cy="220.42" r="1.8" fill="#52c2ca" fill-opacity="0.85"/>
<circle cx="448.24" cy="224.82" r="1.8" fill="#52c2ca" fill-opacity="0.85"/>
<circle cx="435.84" cy="236.60" r="1.8" fill="#52c2ca" fill-opacity="0.85"/>
<circle cx="448.02" cy="227.10" r="1.8" fill="#52c2ca" fill-opacity="0.85"/>
<circle cx="451.03" cy="220.50" r="1.8" fill="#52c2ca" fill-opacity="0.85"/>
<circle cx="453.69" cy="244.20" r="1.8" fill="#52c2ca" fill-opacity="0.85"/>
<circle cx="449.88" cy="211.37" r="1.8" fill="#52c2ca" fill-opacity="0.85"/>
<circle cx="442.19" cy="243.00" r="1.8" fill="#52c2ca" fill-opacity="0.85"/>
<circle cx="446.14" cy="223.44" r="1.8" fill="#52c2ca" fill-opacity="0.85"/>
<circle cx="450.36" cy="223.43" r="1.8" fill="#52c2ca" fill-opacity="0.85"/>
<circle cx="448.02" cy="224.05" r="1.8" fill="#52c2ca" fill-opacity="0.85"/>
<circle cx="439.51" cy="215.47" r="1.8" fill="#52c2ca" fill-opacity="0.85"/>
<circle cx="448.94" cy="212.16" r="1.8" fill="#52c2ca" fill-opacity="0.85"/>
<circle cx="435.89" cy="239.52" r="1.8" fill="#52c2ca" fill-opacity="0.85"/>
<circle cx="439.87" cy="215.58" r="1.8" fill="#52c2ca" fill-opacity="0.85"/>
<circle cx="453.62" cy="221.43" r="1.8" fill="#52c2ca" fill-opacity="0.85"/>
<circle cx="443.12" cy="262.71" r="1.8" fill="#52c2ca" fill-opacity="0.85"/>
<circle cx="439.06" cy="203.86" r="1.8" fill="#52c2ca" fill-opacity="0.85"/>
<line x1="443.50" y1="203.50" x2="443.50" y2="215.45" stroke="#4a4a4a" stroke-width="1.1"/>
<line x1="443.50" y1="240.41" x2="443.50" y2="262.50" stroke="#4a4a4a" stroke-width="1.1"/>
<line x1="440.00" y1="203.50" x2="447.00" y2="203.50" stroke="#4a4a4a" stroke-width="1.1"/>
<line x1="440.00" y1="262.50" x2="447.00" y2="262.50" stroke="#4a4a4a" stroke-width="1.1"/>
<rect x="436.50" y="215.50" width="14" height="25" fill="none" stroke="#262626" stroke-width="1.2"/>
<line x1="436.50" y1="224.50" x2="450.50" y2="224.50" stroke="#262626" stroke-width="1.2"/>
<text x="446.70" y="291.20" font-size="9.2" text-anchor="end" font-weight="normal" fill="#333333" transform="rotate(-45 446.70 291.20)">Tau+DMSO</text>
<circle cx="476.31" cy="229.51" r="1.8" fill="#b9b95a" fill-opacity="0.85"/>
<circle cx="474.38" cy="220.12" r="1.8" fill="#b9b95a" fill-opacity="0.85"/>
<circle cx="469.97" cy="234.40" r="1.8" fill="#b9b95a" fill-opacity="0.85"/>
<circle cx="480.59" cy="220.08" r="1.8" fill="#b9b95a" fill-opacity="0.85"/>
<circle cx="461.84" cy="221.65" r="1.8" fill="#b9b95a" fill-opacity="0.85"/>
<circle cx="478.65" cy="222.30" r="1.8" fill="#b9b95a" fill-opacity="0.85"/>
<circle cx="464.27" cy="215.76" r="1.8" fill="#b9b95a" fill-opacity="0.85"/>
<circle cx="478.19" cy="217.09" r="1.8" fill="#b9b95a" fill-opacity="0.85"/>
<circle cx="464.47" cy="225.14" r="1.8" fill="#b9b95a" fill-opacity="0.85"/>
<circle cx="462.47" cy="214.06" r="1.8" fill="#b9b95a" fill-opacity="0.85"/>
<circle cx="471.41" cy="211.17" r="1.8" fill="#b9b95a" fill-opacity="0.85"/>
<circle cx="479.92" cy="221.12" r="1.8" fill="#b9b95a" fill-opacity="0.85"/>
<circle cx="466.55" cy="235.35" r="1.8" fill="#b9b95a" fill-opacity="0.85"/>
<circle cx="471.13" cy="222.64" r="1.8" fill="#b9b95a" fill-opacity="0.85"/>
<circle cx="473.56" cy="214.35" r="1.8" fill="#b9b95a" fill-opacity="0.85"/>
<circle cx="466.27" cy="214.99" r="1.8" fill="#b9b95a" fill-opacity="0.85"/>
<circle cx="472.01" cy="230.22" r="1.8" fill="#b9b95a" fill-opacity="0.85"/>
<circle cx="461.59" cy="219.47" r="1.8" fill="#b9b95a" fill-opacity="0.85"/>
<circle cx="470.39" cy="215.66" r="1.8" fill="#b9b95a" fill-opacity="0.85"/>
<circle cx="476.60" cy="229.35" r="1.8" fill="#b9b95a" fill-opacity="0.85"/>
<circle cx="468.20" cy="221.05" r="1.8" fill="#b9b95a" fill-opacity="0.85"/>
<circle cx="465.81" cy="224.51" r="1.8" fill="#b9b95a" fill-opacity="0.85"/>
<circle cx="462.42" cy="223.08" r="1.8" fill="#b9b95a" fill-opacity="0.85"/>
<circle cx="475.41" cy="219.89" r="1.8" fill="#b9b95a" fill-opacity="0.85"/>
<circle cx="469.94" cy="228.43" r="1.8" fill="#b9b95a" fill-opacity="0.85"/>
<circle cx="479.68" cy="214.65" r="1.8" fill="#b9b95a" fill-opacity="0.85"/>
<circle cx="476.21" cy="216.38" r="1.8" fill="#b9b95a" fill-opacity="0.85"/>
<circle cx="463.41" cy="230.41" r="1.8" fill="#b9b95a" fill-opacity="0.85"/>
<circle cx="479.68" cy="208.81" r="1.8" fill="#b9b95a" fill-opacity="0.85"/>
<circle cx="480.04" cy="236.14" r="1.8" fill="#b9b95a" fill-opacity="0.85"/>
<circle cx="477.74" cy="221.53" r="1.8" fill="#b9b95a" fill-opacity="0.85"/>
<circle cx="478.03" cy="219.36" r="1.8" fill="#b9b95a" fill-opacity="0.85"/>
<circle cx="475.03" cy="239.52" r="1.8" fill="#b9b95a" fill-opacity="0.85"/>
<circle cx="475.82" cy="208.31" r="1.8" fill="#b9b95a" fill-opacity="0.85"/>
<circle cx="471.90" cy="254.68" r="1.8" fill="#b9b95a" fill-opacity="0.85"/>
<line x1="471.50" y1="208.50" x2="471.50" y2="217.23" stroke="#4a4a4a" stroke-width="1.1"/>
<line x1="471.50" y1="229.71" x2="471.50" y2="239.50" stroke="#4a4a4a" stroke-width="1.1"/>
<line x1="468.00" y1="208.50" x2="475.00" y2="208.50" stroke="#4a4a4a" stroke-width="1.1"/>
<line x1="468.00" y1="239.50" x2="475.00" y2="239.50" stroke="#4a4a4a" stroke-width="1.1"/>
<rect x="464.50" y="217.50" width="14" height="12" fill="none" stroke="#262626" stroke-width="1.2"/>
<line x1="464.50" y1="221.50" x2="478.50" y2="221.50" stroke="#262626" stroke-width="1.2"/>
<text x="474.40" y="291.20" font-size="9.2" text-anchor="end" font-weight="normal" fill="#333333" transform="rotate(-45 474.40 291.20)">Tau+AR</text>
<polyline points="390.50,182.00 390.50,166.50 469.50,166.50 469.50,170.50" stroke="#3a3a3a" stroke-width="1" fill="none" stroke-linejoin="round" stroke-linecap="butt"/>
<text x="430.00" y="165.20" font-size="9.5" text-anchor="middle" font-weight="normal" fill="#333333">ns</text>
<polyline points="418.50,177.90 418.50,174.50 469.50,174.50 469.50,191.00" stroke="#3a3a3a" stroke-width="1" fill="none" stroke-linejoin="round" stroke-linecap="butt"/>
<text x="444.00" y="173.20" font-size="9.5" text-anchor="middle" font-weight="normal" fill="#333333">ns</text>
<polyline points="390.50,191.00 390.50,186.50 441.50,186.50 441.50,191.00" stroke="#3a3a3a" stroke-width="1" fill="none" stroke-linejoin="round" stroke-linecap="butt"/>
<polygon points="416.00,180.45 416.81,182.09 418.62,182.35 417.31,183.62 417.62,185.42 416.00,184.57 414.38,185.42 414.69,183.62 413.38,182.35 415.19,182.09" fill="#333" stroke="none"/>
<polyline points="390.50,197.20 390.50,194.50 413.50,194.50 413.50,203.30" stroke="#3a3a3a" stroke-width="1" fill="none" stroke-linejoin="round" stroke-linecap="butt"/>
<text x="402.00" y="193.20" font-size="9.5" text-anchor="middle" font-weight="normal" fill="#333333">ns</text>
<polyline points="418.50,203.30 418.50,194.50 441.50,194.50 441.50,199.50" stroke="#3a3a3a" stroke-width="1" fill="none" stroke-linejoin="round" stroke-linecap="butt"/>
<text x="430.00" y="193.20" font-size="9.5" text-anchor="middle" font-weight="normal" fill="#333333">ns</text>
<polyline points="445.50,199.50 445.50,194.50 469.50,194.50 469.50,204.10" stroke="#3a3a3a" stroke-width="1" fill="none" stroke-linejoin="round" stroke-linecap="butt"/>
<text x="457.50" y="193.20" font-size="9.5" text-anchor="middle" font-weight="normal" fill="#333333">ns</text>
<line x1="374.50" y1="340.60" x2="374.50" y2="448.50" stroke="#5e5e5e" stroke-width="1"/>
<line x1="374.50" y1="448.50" x2="485.10" y2="448.50" stroke="#5e5e5e" stroke-width="1"/>
<line x1="374.30" y1="448.00" x2="376.30" y2="448.00" stroke="#5e5e5e" stroke-width="0.8"/>
<text x="371.50" y="451.40" font-size="9.6" text-anchor="end" font-weight="normal" fill="#333333">0</text>
<line x1="374.30" y1="430.10" x2="376.30" y2="430.10" stroke="#5e5e5e" stroke-width="0.8"/>
<text x="371.50" y="433.50" font-size="9.6" text-anchor="end" font-weight="normal" fill="#333333">20</text>
<line x1="374.30" y1="412.20" x2="376.30" y2="412.20" stroke="#5e5e5e" stroke-width="0.8"/>
<text x="371.50" y="415.60" font-size="9.6" text-anchor="end" font-weight="normal" fill="#333333">40</text>
<line x1="374.30" y1="394.30" x2="376.30" y2="394.30" stroke="#5e5e5e" stroke-width="0.8"/>
<text x="371.50" y="397.70" font-size="9.6" text-anchor="end" font-weight="normal" fill="#333333">60</text>
<line x1="374.30" y1="376.40" x2="376.30" y2="376.40" stroke="#5e5e5e" stroke-width="0.8"/>
<text x="371.50" y="379.80" font-size="9.6" text-anchor="end" font-weight="normal" fill="#333333">80</text>
<line x1="374.30" y1="358.50" x2="376.30" y2="358.50" stroke="#5e5e5e" stroke-width="0.8"/>
<text x="371.50" y="361.90" font-size="9.6" text-anchor="end" font-weight="normal" fill="#333333">100</text>
<line x1="374.30" y1="340.60" x2="376.30" y2="340.60" stroke="#5e5e5e" stroke-width="0.8"/>
<text x="371.50" y="344.00" font-size="9.6" text-anchor="end" font-weight="normal" fill="#333333">120</text>
<line x1="388.20" y1="448.00" x2="388.20" y2="446.00" stroke="#5e5e5e" stroke-width="0.8"/>
<line x1="415.90" y1="448.00" x2="415.90" y2="446.00" stroke="#5e5e5e" stroke-width="0.8"/>
<line x1="443.70" y1="448.00" x2="443.70" y2="446.00" stroke="#5e5e5e" stroke-width="0.8"/>
<line x1="471.40" y1="448.00" x2="471.40" y2="446.00" stroke="#5e5e5e" stroke-width="0.8"/>
<text x="354.50" y="394.00" font-size="9.2" text-anchor="middle" font-weight="normal" fill="#333333" transform="rotate(-90 354.50 394.00)">Spike Amplitude (mV)</text>
<circle cx="387.90" cy="368.26" r="1.8" fill="#666666" fill-opacity="0.8"/>
<circle cx="386.94" cy="371.59" r="1.8" fill="#666666" fill-opacity="0.8"/>
<circle cx="390.11" cy="399.02" r="1.8" fill="#666666" fill-opacity="0.8"/>
<circle cx="380.10" cy="405.05" r="1.8" fill="#666666" fill-opacity="0.8"/>
<circle cx="387.69" cy="385.54" r="1.8" fill="#666666" fill-opacity="0.8"/>
<circle cx="382.93" cy="374.34" r="1.8" fill="#666666" fill-opacity="0.8"/>
<circle cx="395.51" cy="386.01" r="1.8" fill="#666666" fill-opacity="0.8"/>
<circle cx="396.98" cy="399.95" r="1.8" fill="#666666" fill-opacity="0.8"/>
<circle cx="379.53" cy="389.73" r="1.8" fill="#666666" fill-opacity="0.8"/>
<circle cx="381.07" cy="365.40" r="1.8" fill="#666666" fill-opacity="0.8"/>
<circle cx="392.27" cy="399.13" r="1.8" fill="#666666" fill-opacity="0.8"/>
<circle cx="389.63" cy="370.54" r="1.8" fill="#666666" fill-opacity="0.8"/>
<circle cx="378.58" cy="377.51" r="1.8" fill="#666666" fill-opacity="0.8"/>
<circle cx="392.30" cy="378.06" r="1.8" fill="#666666" fill-opacity="0.8"/>
<circle cx="397.08" cy="374.27" r="1.8" fill="#666666" fill-opacity="0.8"/>
<circle cx="386.66" cy="390.26" r="1.8" fill="#666666" fill-opacity="0.8"/>
<circle cx="385.15" cy="385.71" r="1.8" fill="#666666" fill-opacity="0.8"/>
<circle cx="389.59" cy="388.55" r="1.8" fill="#666666" fill-opacity="0.8"/>
<circle cx="396.98" cy="388.91" r="1.8" fill="#666666" fill-opacity="0.8"/>
<circle cx="383.47" cy="399.34" r="1.8" fill="#666666" fill-opacity="0.8"/>
<circle cx="384.25" cy="389.43" r="1.8" fill="#666666" fill-opacity="0.8"/>
<circle cx="381.97" cy="374.63" r="1.8" fill="#666666" fill-opacity="0.8"/>
<circle cx="390.77" cy="367.86" r="1.8" fill="#666666" fill-opacity="0.8"/>
<circle cx="387.59" cy="375.84" r="1.8" fill="#666666" fill-opacity="0.8"/>
<circle cx="383.32" cy="376.05" r="1.8" fill="#666666" fill-opacity="0.8"/>
<circle cx="385.96" cy="376.67" r="1.8" fill="#666666" fill-opacity="0.8"/>
<circle cx="378.90" cy="379.97" r="1.8" fill="#666666" fill-opacity="0.8"/>
<circle cx="384.45" cy="371.08" r="1.8" fill="#666666" fill-opacity="0.8"/>
<circle cx="397.86" cy="385.94" r="1.8" fill="#666666" fill-opacity="0.8"/>
<circle cx="389.92" cy="370.21" r="1.8" fill="#666666" fill-opacity="0.8"/>
<circle cx="383.85" cy="385.14" r="1.8" fill="#666666" fill-opacity="0.8"/>
<circle cx="396.92" cy="401.28" r="1.8" fill="#666666" fill-opacity="0.8"/>
<circle cx="385.37" cy="397.94" r="1.8" fill="#666666" fill-opacity="0.8"/>
<circle cx="383.23" cy="386.45" r="1.8" fill="#666666" fill-opacity="0.8"/>
<circle cx="378.90" cy="389.22" r="1.8" fill="#666666" fill-opacity="0.8"/>
<circle cx="381.12" cy="397.21" r="1.8" fill="#666666" fill-opacity="0.8"/>
<circle cx="382.18" cy="392.45" r="1.8" fill="#666666" fill-opacity="0.8"/>
<circle cx="382.80" cy="381.97" r="1.8" fill="#666666" fill-opacity="0.8"/>
<circle cx="395.66" cy="379.08" r="1.8" fill="#666666" fill-opacity="0.8"/>
<circle cx="383.49" cy="373.19" r="1.8" fill="#666666" fill-opacity="0.8"/>
<circle cx="383.17" cy="393.49" r="1.8" fill="#666666" fill-opacity="0.8"/>
<circle cx="390.28" cy="379.42" r="1.8" fill="#666666" fill-opacity="0.8"/>
<circle cx="396.54" cy="370.78" r="1.8" fill="#666666" fill-opacity="0.8"/>
<circle cx="384.03" cy="379.74" r="1.8" fill="#666666" fill-opacity="0.8"/>
<circle cx="393.43" cy="389.39" r="1.8" fill="#666666" fill-opacity="0.8"/>
<circle cx="385.57" cy="384.47" r="1.8" fill="#666666" fill-opacity="0.8"/>
<circle cx="389.42" cy="382.07" r="1.8" fill="#666666" fill-opacity="0.8"/>
<circle cx="390.12" cy="388.64" r="1.8" fill="#666666" fill-opacity="0.8"/>
<circle cx="397.05" cy="384.94" r="1.8" fill="#666666" fill-opacity="0.8"/>
<circle cx="393.35" cy="381.35" r="1.8" fill="#666666" fill-opacity="0.8"/>
<circle cx="388.36" cy="384.77" r="1.8" fill="#666666" fill-opacity="0.8"/>
<circle cx="395.03" cy="389.67" r="1.8" fill="#666666" fill-opacity="0.8"/>
<circle cx="385.53" cy="389.09" r="1.8" fill="#666666" fill-opacity="0.8"/>
<circle cx="385.88" cy="385.21" r="1.8" fill="#666666" fill-opacity="0.8"/>
<circle cx="397.40" cy="400.49" r="1.8" fill="#666666" fill-opacity="0.8"/>
<circle cx="389.12" cy="381.98" r="1.8" fill="#666666" fill-opacity="0.8"/>
<circle cx="393.67" cy="395.88" r="1.8" fill="#666666" fill-opacity="0.8"/>
<circle cx="384.49" cy="387.00" r="1.8" fill="#666666" fill-opacity="0.8"/>
<circle cx="396.51" cy="415.78" r="1.8" fill="#666666" fill-opacity="0.8"/>
<circle cx="390.45" cy="363.87" r="1.8" fill="#666666" fill-opacity="0.8"/>
<circle cx="387.44" cy="420.25" r="1.8" fill="#666666" fill-opacity="0.8"/>
<line x1="388.50" y1="363.50" x2="388.50" y2="375.50" stroke="#4a4a4a" stroke-width="1.1"/>
<line x1="388.50" y1="391.62" x2="388.50" y2="415.50" stroke="#4a4a4a" stroke-width="1.1"/>
<line x1="385.00" y1="363.50" x2="392.00" y2="363.50" stroke="#4a4a4a" stroke-width="1.1"/>
<line x1="385.00" y1="415.50" x2="392.00" y2="415.50" stroke="#4a4a4a" stroke-width="1.1"/>
<rect x="381.50" y="375.50" width="14" height="16" fill="none" stroke="#262626" stroke-width="1.2"/>
<line x1="381.50" y1="384.50" x2="395.50" y2="384.50" stroke="#262626" stroke-width="1.2"/>
<text x="391.90" y="454.70" font-size="9.2" text-anchor="end" font-weight="normal" fill="#333333" transform="rotate(-45 391.90 454.70)">WT+DMSO</text>
<circle cx="413.27" cy="372.11" r="1.8" fill="#c065b8" fill-opacity="0.85"/>
<circle cx="414.40" cy="391.38" r="1.8" fill="#c065b8" fill-opacity="0.85"/>
<circle cx="408.48" cy="391.01" r="1.8" fill="#c065b8" fill-opacity="0.85"/>
<circle cx="410.35" cy="377.49" r="1.8" fill="#c065b8" fill-opacity="0.85"/>
<circle cx="408.83" cy="379.35" r="1.8" fill="#c065b8" fill-opacity="0.85"/>
<circle cx="420.41" cy="381.23" r="1.8" fill="#c065b8" fill-opacity="0.85"/>
<circle cx="408.83" cy="388.96" r="1.8" fill="#c065b8" fill-opacity="0.85"/>
<circle cx="419.26" cy="391.92" r="1.8" fill="#c065b8" fill-opacity="0.85"/>
<circle cx="410.34" cy="387.69" r="1.8" fill="#c065b8" fill-opacity="0.85"/>
<circle cx="418.84" cy="389.66" r="1.8" fill="#c065b8" fill-opacity="0.85"/>
<circle cx="419.03" cy="384.68" r="1.8" fill="#c065b8" fill-opacity="0.85"/>
<circle cx="412.97" cy="394.13" r="1.8" fill="#c065b8" fill-opacity="0.85"/>
<circle cx="424.56" cy="395.19" r="1.8" fill="#c065b8" fill-opacity="0.85"/>
<circle cx="419.04" cy="371.93" r="1.8" fill="#c065b8" fill-opacity="0.85"/>
<line x1="415.50" y1="371.50" x2="415.50" y2="377.30" stroke="#4a4a4a" stroke-width="1.1"/>
<line x1="415.50" y1="393.40" x2="415.50" y2="395.50" stroke="#4a4a4a" stroke-width="1.1"/>
<line x1="412.00" y1="371.50" x2="419.00" y2="371.50" stroke="#4a4a4a" stroke-width="1.1"/>
<line x1="412.00" y1="395.50" x2="419.00" y2="395.50" stroke="#4a4a4a" stroke-width="1.1"/>
<rect x="408.50" y="377.50" width="14" height="16" fill="none" stroke="#262626" stroke-width="1.2"/>
<line x1="408.50" y1="387.50" x2="422.50" y2="387.50" stroke="#262626" stroke-width="1.2"/>
<text x="419.60" y="454.70" font-size="9.2" text-anchor="end" font-weight="normal" fill="#333333" transform="rotate(-45 419.60 454.70)">WT+AR</text>
<circle cx="450.81" cy="397.61" r="1.8" fill="#52c2ca" fill-opacity="0.85"/>
<circle cx="441.66" cy="394.99" r="1.8" fill="#52c2ca" fill-opacity="0.85"/>
<circle cx="442.61" cy="402.97" r="1.8" fill="#52c2ca" fill-opacity="0.85"/>
<circle cx="440.61" cy="386.46" r="1.8" fill="#52c2ca" fill-opacity="0.85"/>
<circle cx="452.42" cy="426.79" r="1.8" fill="#52c2ca" fill-opacity="0.85"/>
<circle cx="434.29" cy="386.42" r="1.8" fill="#52c2ca" fill-opacity="0.85"/>
<circle cx="436.44" cy="389.67" r="1.8" fill="#52c2ca" fill-opacity="0.85"/>
<circle cx="452.83" cy="397.34" r="1.8" fill="#52c2ca" fill-opacity="0.85"/>
<circle cx="449.83" cy="407.89" r="1.8" fill="#52c2ca" fill-opacity="0.85"/>
<circle cx="447.82" cy="424.25" r="1.8" fill="#52c2ca" fill-opacity="0.85"/>
<circle cx="453.06" cy="399.76" r="1.8" fill="#52c2ca" fill-opacity="0.85"/>
<circle cx="444.17" cy="395.14" r="1.8" fill="#52c2ca" fill-opacity="0.85"/>
<circle cx="450.41" cy="382.16" r="1.8" fill="#52c2ca" fill-opacity="0.85"/>
<circle cx="442.56" cy="404.84" r="1.8" fill="#52c2ca" fill-opacity="0.85"/>
<circle cx="451.71" cy="397.03" r="1.8" fill="#52c2ca" fill-opacity="0.85"/>
<circle cx="435.09" cy="375.87" r="1.8" fill="#52c2ca" fill-opacity="0.85"/>
<circle cx="442.47" cy="423.14" r="1.8" fill="#52c2ca" fill-opacity="0.85"/>
<circle cx="445.24" cy="367.64" r="1.8" fill="#52c2ca" fill-opacity="0.85"/>
<circle cx="449.59" cy="381.65" r="1.8" fill="#52c2ca" fill-opacity="0.85"/>
<circle cx="442.15" cy="396.08" r="1.8" fill="#52c2ca" fill-opacity="0.85"/>
<circle cx="447.31" cy="385.33" r="1.8" fill="#52c2ca" fill-opacity="0.85"/>
<circle cx="453.06" cy="407.53" r="1.8" fill="#52c2ca" fill-opacity="0.85"/>
<circle cx="442.08" cy="378.78" r="1.8" fill="#52c2ca" fill-opacity="0.85"/>
<circle cx="437.69" cy="376.00" r="1.8" fill="#52c2ca" fill-opacity="0.85"/>
<circle cx="434.31" cy="392.87" r="1.8" fill="#52c2ca" fill-opacity="0.85"/>
<circle cx="450.94" cy="389.42" r="1.8" fill="#52c2ca" fill-opacity="0.85"/>
<circle cx="443.22" cy="410.09" r="1.8" fill="#52c2ca" fill-opacity="0.85"/>
<circle cx="441.46" cy="405.46" r="1.8" fill="#52c2ca" fill-opacity="0.85"/>
<circle cx="444.09" cy="395.56" r="1.8" fill="#52c2ca" fill-opacity="0.85"/>
<circle cx="436.11" cy="381.56" r="1.8" fill="#52c2ca" fill-opacity="0.85"/>
<circle cx="438.14" cy="395.37" r="1.8" fill="#52c2ca" fill-opacity="0.85"/>
<circle cx="438.42" cy="402.23" r="1.8" fill="#52c2ca" fill-opacity="0.85"/>
<circle cx="438.80" cy="412.51" r="1.8" fill="#52c2ca" fill-opacity="0.85"/>
<circle cx="450.89" cy="393.21" r="1.8" fill="#52c2ca" fill-opacity="0.85"/>
<circle cx="438.63" cy="389.05" r="1.8" fill="#52c2ca" fill-opacity="0.85"/>
<circle cx="435.51" cy="407.08" r="1.8" fill="#52c2ca" fill-opacity="0.85"/>
<circle cx="451.03" cy="427.42" r="1.8" fill="#52c2ca" fill-opacity="0.85"/>
<circle cx="444.87" cy="365.66" r="1.8" fill="#52c2ca" fill-opacity="0.85"/>
<line x1="443.50" y1="365.50" x2="443.50" y2="382.66" stroke="#4a4a4a" stroke-width="1.1"/>
<line x1="443.50" y1="403.25" x2="443.50" y2="427.50" stroke="#4a4a4a" stroke-width="1.1"/>
<line x1="440.00" y1="365.50" x2="447.00" y2="365.50" stroke="#4a4a4a" stroke-width="1.1"/>
<line x1="440.00" y1="427.50" x2="447.00" y2="427.50" stroke="#4a4a4a" stroke-width="1.1"/>
<rect x="436.50" y="382.50" width="14" height="21" fill="none" stroke="#262626" stroke-width="1.2"/>
<line x1="436.50" y1="393.50" x2="450.50" y2="393.50" stroke="#262626" stroke-width="1.2"/>
<text x="447.40" y="454.70" font-size="9.2" text-anchor="end" font-weight="normal" fill="#333333" transform="rotate(-45 447.40 454.70)">Tau+DMSO</text>
<circle cx="474.10" cy="382.49" r="1.8" fill="#b9b95a" fill-opacity="0.85"/>
<circle cx="468.78" cy="384.11" r="1.8" fill="#b9b95a" fill-opacity="0.85"/>
<circle cx="480.58" cy="394.96" r="1.8" fill="#b9b95a" fill-opacity="0.85"/>
<circle cx="464.89" cy="409.25" r="1.8" fill="#b9b95a" fill-opacity="0.85"/>
<circle cx="477.35" cy="384.24" r="1.8" fill="#b9b95a" fill-opacity="0.85"/>
<circle cx="461.87" cy="403.75" r="1.8" fill="#b9b95a" fill-opacity="0.85"/>
<circle cx="471.54" cy="384.11" r="1.8" fill="#b9b95a" fill-opacity="0.85"/>
<circle cx="462.73" cy="382.29" r="1.8" fill="#b9b95a" fill-opacity="0.85"/>
<circle cx="464.04" cy="404.95" r="1.8" fill="#b9b95a" fill-opacity="0.85"/>
<circle cx="473.17" cy="404.97" r="1.8" fill="#b9b95a" fill-opacity="0.85"/>
<circle cx="479.49" cy="383.94" r="1.8" fill="#b9b95a" fill-opacity="0.85"/>
<circle cx="467.59" cy="383.28" r="1.8" fill="#b9b95a" fill-opacity="0.85"/>
<circle cx="469.46" cy="391.08" r="1.8" fill="#b9b95a" fill-opacity="0.85"/>
<circle cx="470.92" cy="401.53" r="1.8" fill="#b9b95a" fill-opacity="0.85"/>
<circle cx="473.50" cy="401.28" r="1.8" fill="#b9b95a" fill-opacity="0.85"/>
<circle cx="468.41" cy="397.08" r="1.8" fill="#b9b95a" fill-opacity="0.85"/>
<circle cx="468.43" cy="384.42" r="1.8" fill="#b9b95a" fill-opacity="0.85"/>
<circle cx="478.47" cy="401.65" r="1.8" fill="#b9b95a" fill-opacity="0.85"/>
<circle cx="472.51" cy="384.42" r="1.8" fill="#b9b95a" fill-opacity="0.85"/>
<circle cx="468.45" cy="388.75" r="1.8" fill="#b9b95a" fill-opacity="0.85"/>
<circle cx="477.76" cy="383.69" r="1.8" fill="#b9b95a" fill-opacity="0.85"/>
<circle cx="481.38" cy="390.95" r="1.8" fill="#b9b95a" fill-opacity="0.85"/>
<circle cx="470.04" cy="391.97" r="1.8" fill="#b9b95a" fill-opacity="0.85"/>
<circle cx="461.70" cy="383.79" r="1.8" fill="#b9b95a" fill-opacity="0.85"/>
<circle cx="467.51" cy="396.12" r="1.8" fill="#b9b95a" fill-opacity="0.85"/>
<circle cx="479.36" cy="383.10" r="1.8" fill="#b9b95a" fill-opacity="0.85"/>
<circle cx="464.84" cy="397.47" r="1.8" fill="#b9b95a" fill-opacity="0.85"/>
<circle cx="465.37" cy="383.54" r="1.8" fill="#b9b95a" fill-opacity="0.85"/>
<circle cx="477.25" cy="383.13" r="1.8" fill="#b9b95a" fill-opacity="0.85"/>
<circle cx="463.69" cy="393.28" r="1.8" fill="#b9b95a" fill-opacity="0.85"/>
<circle cx="478.39" cy="414.88" r="1.8" fill="#b9b95a" fill-opacity="0.85"/>
<circle cx="465.93" cy="369.24" r="1.8" fill="#b9b95a" fill-opacity="0.85"/>
<circle cx="471.06" cy="421.15" r="1.8" fill="#b9b95a" fill-opacity="0.85"/>
<line x1="471.50" y1="369.50" x2="471.50" y2="383.56" stroke="#4a4a4a" stroke-width="1.1"/>
<line x1="471.50" y1="396.99" x2="471.50" y2="414.50" stroke="#4a4a4a" stroke-width="1.1"/>
<line x1="468.00" y1="369.50" x2="475.00" y2="369.50" stroke="#4a4a4a" stroke-width="1.1"/>
<line x1="468.00" y1="414.50" x2="475.00" y2="414.50" stroke="#4a4a4a" stroke-width="1.1"/>
<rect x="464.50" y="383.50" width="14" height="13" fill="none" stroke="#262626" stroke-width="1.2"/>
<line x1="464.50" y1="384.50" x2="478.50" y2="384.50" stroke="#262626" stroke-width="1.2"/>
<text x="475.10" y="454.70" font-size="9.2" text-anchor="end" font-weight="normal" fill="#333333" transform="rotate(-45 475.10 454.70)">Tau+AR</text>
<polyline points="390.50,345.00 390.50,329.50 469.50,329.50 469.50,333.50" stroke="#3a3a3a" stroke-width="1" fill="none" stroke-linejoin="round" stroke-linecap="butt"/>
<text x="430.00" y="328.20" font-size="9.5" text-anchor="middle" font-weight="normal" fill="#333333">ns</text>
<polyline points="418.50,340.90 418.50,338.50 469.50,338.50 469.50,354.30" stroke="#3a3a3a" stroke-width="1" fill="none" stroke-linejoin="round" stroke-linecap="butt"/>
<text x="444.00" y="337.20" font-size="9.5" text-anchor="middle" font-weight="normal" fill="#333333">ns</text>
<polyline points="390.50,354.30 390.50,349.50 441.50,349.50 441.50,354.30" stroke="#3a3a3a" stroke-width="1" fill="none" stroke-linejoin="round" stroke-linecap="butt"/>
<polygon points="416.00,343.45 416.81,345.09 418.62,345.35 417.31,346.62 417.62,348.42 416.00,347.57 414.38,348.42 414.69,346.62 413.38,345.35 415.19,345.09" fill="#333" stroke="none"/>
<polyline points="390.50,360.90 390.50,358.50 413.50,358.50 413.50,367.10" stroke="#3a3a3a" stroke-width="1" fill="none" stroke-linejoin="round" stroke-linecap="butt"/>
<text x="402.00" y="357.20" font-size="9.5" text-anchor="middle" font-weight="normal" fill="#333333">ns</text>
<polyline points="418.50,367.10 418.50,358.50 441.50,358.50 441.50,362.20" stroke="#3a3a3a" stroke-width="1" fill="none" stroke-linejoin="round" stroke-linecap="butt"/>
<text x="430.00" y="357.20" font-size="9.5" text-anchor="middle" font-weight="normal" fill="#333333">ns</text>
<polyline points="445.50,362.20 445.50,358.50 469.50,358.50 469.50,366.30" stroke="#3a3a3a" stroke-width="1" fill="none" stroke-linejoin="round" stroke-linecap="butt"/>
<text x="457.50" y="357.20" font-size="9.5" text-anchor="middle" font-weight="normal" fill="#333333">ns</text>
<line x1="529.50" y1="171.38" x2="529.50" y2="279.50" stroke="#5e5e5e" stroke-width="1"/>
<line x1="529.50" y1="279.50" x2="640.80" y2="279.50" stroke="#5e5e5e" stroke-width="1"/>
<line x1="529.60" y1="279.60" x2="531.60" y2="279.60" stroke="#5e5e5e" stroke-width="0.8"/>
<text x="526.80" y="283.00" font-size="9.6" text-anchor="end" font-weight="normal" fill="#333333">0</text>
<line x1="529.60" y1="255.55" x2="531.60" y2="255.55" stroke="#5e5e5e" stroke-width="0.8"/>
<text x="526.80" y="258.95" font-size="9.6" text-anchor="end" font-weight="normal" fill="#333333">1</text>
<line x1="529.60" y1="231.50" x2="531.60" y2="231.50" stroke="#5e5e5e" stroke-width="0.8"/>
<text x="526.80" y="234.90" font-size="9.6" text-anchor="end" font-weight="normal" fill="#333333">2</text>
<line x1="529.60" y1="207.45" x2="531.60" y2="207.45" stroke="#5e5e5e" stroke-width="0.8"/>
<text x="526.80" y="210.85" font-size="9.6" text-anchor="end" font-weight="normal" fill="#333333">3</text>
<line x1="529.60" y1="183.40" x2="531.60" y2="183.40" stroke="#5e5e5e" stroke-width="0.8"/>
<text x="526.80" y="186.80" font-size="9.6" text-anchor="end" font-weight="normal" fill="#333333">4</text>
<line x1="543.40" y1="279.60" x2="543.40" y2="277.60" stroke="#5e5e5e" stroke-width="0.8"/>
<line x1="571.20" y1="279.60" x2="571.20" y2="277.60" stroke="#5e5e5e" stroke-width="0.8"/>
<line x1="599.00" y1="279.60" x2="599.00" y2="277.60" stroke="#5e5e5e" stroke-width="0.8"/>
<line x1="626.80" y1="279.60" x2="626.80" y2="277.60" stroke="#5e5e5e" stroke-width="0.8"/>
<text x="514.90" y="226.40" font-size="9.2" text-anchor="middle" font-weight="normal" fill="#333333" transform="rotate(-90 514.90 226.40)">Spike Width (ms)</text>
<circle cx="551.50" cy="238.74" r="1.8" fill="#666666" fill-opacity="0.8"/>
<circle cx="540.12" cy="240.17" r="1.8" fill="#666666" fill-opacity="0.8"/>
<circle cx="542.23" cy="240.30" r="1.8" fill="#666666" fill-opacity="0.8"/>
<circle cx="534.88" cy="244.30" r="1.8" fill="#666666" fill-opacity="0.8"/>
<circle cx="551.55" cy="238.47" r="1.8" fill="#666666" fill-opacity="0.8"/>
<circle cx="549.32" cy="240.04" r="1.8" fill="#666666" fill-opacity="0.8"/>
<circle cx="542.89" cy="231.29" r="1.8" fill="#666666" fill-opacity="0.8"/>
<circle cx="535.71" cy="247.70" r="1.8" fill="#666666" fill-opacity="0.8"/>
<circle cx="543.25" cy="239.46" r="1.8" fill="#666666" fill-opacity="0.8"/>
<circle cx="540.92" cy="232.80" r="1.8" fill="#666666" fill-opacity="0.8"/>
<circle cx="550.20" cy="241.50" r="1.8" fill="#666666" fill-opacity="0.8"/>
<circle cx="551.96" cy="245.79" r="1.8" fill="#666666" fill-opacity="0.8"/>
<circle cx="548.22" cy="240.37" r="1.8" fill="#666666" fill-opacity="0.8"/>
<circle cx="539.14" cy="234.28" r="1.8" fill="#666666" fill-opacity="0.8"/>
<circle cx="534.23" cy="229.89" r="1.8" fill="#666666" fill-opacity="0.8"/>
<circle cx="551.28" cy="251.81" r="1.8" fill="#666666" fill-opacity="0.8"/>
<circle cx="552.29" cy="238.27" r="1.8" fill="#666666" fill-opacity="0.8"/>
<circle cx="536.57" cy="245.01" r="1.8" fill="#666666" fill-opacity="0.8"/>
<circle cx="543.40" cy="231.55" r="1.8" fill="#666666" fill-opacity="0.8"/>
<circle cx="543.02" cy="244.00" r="1.8" fill="#666666" fill-opacity="0.8"/>
<circle cx="552.93" cy="238.91" r="1.8" fill="#666666" fill-opacity="0.8"/>
<circle cx="534.26" cy="231.32" r="1.8" fill="#666666" fill-opacity="0.8"/>
<circle cx="534.63" cy="242.58" r="1.8" fill="#666666" fill-opacity="0.8"/>
<circle cx="550.27" cy="238.38" r="1.8" fill="#666666" fill-opacity="0.8"/>
<circle cx="544.79" cy="246.42" r="1.8" fill="#666666" fill-opacity="0.8"/>
<circle cx="542.65" cy="242.72" r="1.8" fill="#666666" fill-opacity="0.8"/>
<circle cx="548.95" cy="247.24" r="1.8" fill="#666666" fill-opacity="0.8"/>
<circle cx="545.27" cy="244.58" r="1.8" fill="#666666" fill-opacity="0.8"/>
<circle cx="547.25" cy="245.97" r="1.8" fill="#666666" fill-opacity="0.8"/>
<circle cx="538.51" cy="238.76" r="1.8" fill="#666666" fill-opacity="0.8"/>
<circle cx="535.10" cy="235.63" r="1.8" fill="#666666" fill-opacity="0.8"/>
<circle cx="533.58" cy="239.41" r="1.8" fill="#666666" fill-opacity="0.8"/>
<circle cx="540.06" cy="231.22" r="1.8" fill="#666666" fill-opacity="0.8"/>
<circle cx="546.37" cy="244.28" r="1.8" fill="#666666" fill-opacity="0.8"/>
<circle cx="541.00" cy="251.03" r="1.8" fill="#666666" fill-opacity="0.8"/>
<circle cx="540.35" cy="241.91" r="1.8" fill="#666666" fill-opacity="0.8"/>
<circle cx="545.77" cy="230.98" r="1.8" fill="#666666" fill-opacity="0.8"/>
<circle cx="547.50" cy="237.19" r="1.8" fill="#666666" fill-opacity="0.8"/>
<circle cx="545.31" cy="242.16" r="1.8" fill="#666666" fill-opacity="0.8"/>
<circle cx="539.63" cy="238.09" r="1.8" fill="#666666" fill-opacity="0.8"/>
<circle cx="549.83" cy="238.29" r="1.8" fill="#666666" fill-opacity="0.8"/>
<circle cx="549.41" cy="254.00" r="1.8" fill="#666666" fill-opacity="0.8"/>
<circle cx="551.27" cy="236.97" r="1.8" fill="#666666" fill-opacity="0.8"/>
<circle cx="551.25" cy="247.06" r="1.8" fill="#666666" fill-opacity="0.8"/>
<circle cx="533.70" cy="242.49" r="1.8" fill="#666666" fill-opacity="0.8"/>
<circle cx="546.78" cy="244.63" r="1.8" fill="#666666" fill-opacity="0.8"/>
<circle cx="540.36" cy="239.98" r="1.8" fill="#666666" fill-opacity="0.8"/>
<circle cx="541.17" cy="232.97" r="1.8" fill="#666666" fill-opacity="0.8"/>
<circle cx="543.76" cy="242.16" r="1.8" fill="#666666" fill-opacity="0.8"/>
<circle cx="536.28" cy="239.29" r="1.8" fill="#666666" fill-opacity="0.8"/>
<circle cx="538.39" cy="233.17" r="1.8" fill="#666666" fill-opacity="0.8"/>
<circle cx="553.13" cy="236.80" r="1.8" fill="#666666" fill-opacity="0.8"/>
<circle cx="540.02" cy="255.55" r="1.8" fill="#666666" fill-opacity="0.8"/>
<circle cx="551.66" cy="225.49" r="1.8" fill="#666666" fill-opacity="0.8"/>
<circle cx="543.95" cy="211.06" r="1.8" fill="#666666" fill-opacity="0.8"/>
<line x1="543.50" y1="225.50" x2="543.50" y2="234.63" stroke="#4a4a4a" stroke-width="1.1"/>
<line x1="543.50" y1="244.97" x2="543.50" y2="255.50" stroke="#4a4a4a" stroke-width="1.1"/>
<line x1="540.00" y1="225.50" x2="547.00" y2="225.50" stroke="#4a4a4a" stroke-width="1.1"/>
<line x1="540.00" y1="255.50" x2="547.00" y2="255.50" stroke="#4a4a4a" stroke-width="1.1"/>
<rect x="536.50" y="234.50" width="14" height="10" fill="none" stroke="#262626" stroke-width="1.2"/>
<line x1="536.50" y1="239.50" x2="550.50" y2="239.50" stroke="#262626" stroke-width="1.2"/>
<text x="548.10" y="288.60" font-size="9.2" text-anchor="end" font-weight="normal" fill="#333333" transform="rotate(-45 548.10 288.60)">WT+DMSO</text>
<circle cx="567.90" cy="245.75" r="1.8" fill="#c065b8" fill-opacity="0.85"/>
<circle cx="579.08" cy="244.52" r="1.8" fill="#c065b8" fill-opacity="0.85"/>
<circle cx="563.78" cy="235.49" r="1.8" fill="#c065b8" fill-opacity="0.85"/>
<circle cx="563.16" cy="247.04" r="1.8" fill="#c065b8" fill-opacity="0.85"/>
<circle cx="568.07" cy="246.24" r="1.8" fill="#c065b8" fill-opacity="0.85"/>
<circle cx="575.95" cy="244.06" r="1.8" fill="#c065b8" fill-opacity="0.85"/>
<circle cx="572.16" cy="240.58" r="1.8" fill="#c065b8" fill-opacity="0.85"/>
<circle cx="570.88" cy="234.21" r="1.8" fill="#c065b8" fill-opacity="0.85"/>
<circle cx="579.33" cy="243.71" r="1.8" fill="#c065b8" fill-opacity="0.85"/>
<circle cx="569.08" cy="244.88" r="1.8" fill="#c065b8" fill-opacity="0.85"/>
<circle cx="576.96" cy="236.86" r="1.8" fill="#c065b8" fill-opacity="0.85"/>
<circle cx="561.29" cy="246.74" r="1.8" fill="#c065b8" fill-opacity="0.85"/>
<circle cx="576.86" cy="251.94" r="1.8" fill="#c065b8" fill-opacity="0.85"/>
<circle cx="564.31" cy="230.30" r="1.8" fill="#c065b8" fill-opacity="0.85"/>
<line x1="571.50" y1="230.50" x2="571.50" y2="236.79" stroke="#4a4a4a" stroke-width="1.1"/>
<line x1="571.50" y1="245.45" x2="571.50" y2="251.50" stroke="#4a4a4a" stroke-width="1.1"/>
<line x1="568.00" y1="230.50" x2="575.00" y2="230.50" stroke="#4a4a4a" stroke-width="1.1"/>
<line x1="568.00" y1="251.50" x2="575.00" y2="251.50" stroke="#4a4a4a" stroke-width="1.1"/>
<rect x="564.50" y="236.50" width="14" height="9" fill="none" stroke="#262626" stroke-width="1.2"/>
<line x1="564.50" y1="243.50" x2="578.50" y2="243.50" stroke="#262626" stroke-width="1.2"/>
<text x="575.90" y="288.60" font-size="9.2" text-anchor="end" font-weight="normal" fill="#333333" transform="rotate(-45 575.90 288.60)">WT+AR</text>
<circle cx="606.69" cy="247.09" r="1.8" fill="#52c2ca" fill-opacity="0.85"/>
<circle cx="593.59" cy="251.15" r="1.8" fill="#52c2ca" fill-opacity="0.85"/>
<circle cx="592.14" cy="244.48" r="1.8" fill="#52c2ca" fill-opacity="0.85"/>
<circle cx="606.31" cy="247.28" r="1.8" fill="#52c2ca" fill-opacity="0.85"/>
<circle cx="590.11" cy="251.17" r="1.8" fill="#52c2ca" fill-opacity="0.85"/>
<circle cx="597.36" cy="242.76" r="1.8" fill="#52c2ca" fill-opacity="0.85"/>
<circle cx="597.40" cy="242.60" r="1.8" fill="#52c2ca" fill-opacity="0.85"/>
<circle cx="606.54" cy="234.13" r="1.8" fill="#52c2ca" fill-opacity="0.85"/>
<circle cx="596.45" cy="247.63" r="1.8" fill="#52c2ca" fill-opacity="0.85"/>
<circle cx="600.39" cy="242.06" r="1.8" fill="#52c2ca" fill-opacity="0.85"/>
<circle cx="599.03" cy="230.87" r="1.8" fill="#52c2ca" fill-opacity="0.85"/>
<circle cx="598.58" cy="231.69" r="1.8" fill="#52c2ca" fill-opacity="0.85"/>
<circle cx="598.47" cy="243.20" r="1.8" fill="#52c2ca" fill-opacity="0.85"/>
<circle cx="598.37" cy="237.68" r="1.8" fill="#52c2ca" fill-opacity="0.85"/>
<circle cx="600.93" cy="242.31" r="1.8" fill="#52c2ca" fill-opacity="0.85"/>
<circle cx="597.65" cy="251.86" r="1.8" fill="#52c2ca" fill-opacity="0.85"/>
<circle cx="597.46" cy="247.04" r="1.8" fill="#52c2ca" fill-opacity="0.85"/>
<circle cx="607.50" cy="224.16" r="1.8" fill="#52c2ca" fill-opacity="0.85"/>
<circle cx="608.53" cy="226.14" r="1.8" fill="#52c2ca" fill-opacity="0.85"/>
<circle cx="593.94" cy="239.64" r="1.8" fill="#52c2ca" fill-opacity="0.85"/>
<circle cx="607.95" cy="243.95" r="1.8" fill="#52c2ca" fill-opacity="0.85"/>
<circle cx="589.48" cy="234.98" r="1.8" fill="#52c2ca" fill-opacity="0.85"/>
<circle cx="595.65" cy="234.03" r="1.8" fill="#52c2ca" fill-opacity="0.85"/>
<circle cx="606.98" cy="233.73" r="1.8" fill="#52c2ca" fill-opacity="0.85"/>
<circle cx="592.38" cy="235.69" r="1.8" fill="#52c2ca" fill-opacity="0.85"/>
<circle cx="602.38" cy="238.74" r="1.8" fill="#52c2ca" fill-opacity="0.85"/>
<circle cx="608.88" cy="227.27" r="1.8" fill="#52c2ca" fill-opacity="0.85"/>
<circle cx="601.24" cy="244.81" r="1.8" fill="#52c2ca" fill-opacity="0.85"/>
<circle cx="598.19" cy="237.89" r="1.8" fill="#52c2ca" fill-opacity="0.85"/>
<circle cx="589.61" cy="242.22" r="1.8" fill="#52c2ca" fill-opacity="0.85"/>
<circle cx="598.02" cy="241.95" r="1.8" fill="#52c2ca" fill-opacity="0.85"/>
<circle cx="598.28" cy="242.94" r="1.8" fill="#52c2ca" fill-opacity="0.85"/>
<circle cx="604.78" cy="244.90" r="1.8" fill="#52c2ca" fill-opacity="0.85"/>
<circle cx="596.81" cy="251.23" r="1.8" fill="#52c2ca" fill-opacity="0.85"/>
<circle cx="605.11" cy="240.45" r="1.8" fill="#52c2ca" fill-opacity="0.85"/>
<circle cx="597.10" cy="248.28" r="1.8" fill="#52c2ca" fill-opacity="0.85"/>
<circle cx="601.71" cy="251.94" r="1.8" fill="#52c2ca" fill-opacity="0.85"/>
<circle cx="604.17" cy="218.99" r="1.8" fill="#52c2ca" fill-opacity="0.85"/>
<circle cx="598.00" cy="206.25" r="1.8" fill="#52c2ca" fill-opacity="0.85"/>
<line x1="599.50" y1="218.50" x2="599.50" y2="232.94" stroke="#4a4a4a" stroke-width="1.1"/>
<line x1="599.50" y1="244.01" x2="599.50" y2="251.50" stroke="#4a4a4a" stroke-width="1.1"/>
<line x1="596.00" y1="218.50" x2="603.00" y2="218.50" stroke="#4a4a4a" stroke-width="1.1"/>
<line x1="596.00" y1="251.50" x2="603.00" y2="251.50" stroke="#4a4a4a" stroke-width="1.1"/>
<rect x="591.50" y="232.50" width="14" height="11" fill="none" stroke="#262626" stroke-width="1.2"/>
<line x1="591.50" y1="238.50" x2="605.50" y2="238.50" stroke="#262626" stroke-width="1.2"/>
<text x="603.70" y="288.60" font-size="9.2" text-anchor="end" font-weight="normal" fill="#333333" transform="rotate(-45 603.70 288.60)">Tau+DMSO</text>
<circle cx="633.08" cy="240.27" r="1.8" fill="#b9b95a" fill-opacity="0.85"/>
<circle cx="630.82" cy="250.97" r="1.8" fill="#b9b95a" fill-opacity="0.85"/>
<circle cx="626.19" cy="245.04" r="1.8" fill="#b9b95a" fill-opacity="0.85"/>
<circle cx="629.35" cy="259.85" r="1.8" fill="#b9b95a" fill-opacity="0.85"/>
<circle cx="624.85" cy="253.35" r="1.8" fill="#b9b95a" fill-opacity="0.85"/>
<circle cx="633.00" cy="246.29" r="1.8" fill="#b9b95a" fill-opacity="0.85"/>
<circle cx="634.18" cy="242.72" r="1.8" fill="#b9b95a" fill-opacity="0.85"/>
<circle cx="632.27" cy="246.84" r="1.8" fill="#b9b95a" fill-opacity="0.85"/>
<circle cx="623.23" cy="256.93" r="1.8" fill="#b9b95a" fill-opacity="0.85"/>
<circle cx="624.42" cy="251.54" r="1.8" fill="#b9b95a" fill-opacity="0.85"/>
<circle cx="636.40" cy="256.57" r="1.8" fill="#b9b95a" fill-opacity="0.85"/>
<circle cx="624.36" cy="242.54" r="1.8" fill="#b9b95a" fill-opacity="0.85"/>
<circle cx="630.09" cy="256.84" r="1.8" fill="#b9b95a" fill-opacity="0.85"/>
<circle cx="618.73" cy="241.26" r="1.8" fill="#b9b95a" fill-opacity="0.85"/>
<circle cx="619.43" cy="235.20" r="1.8" fill="#b9b95a" fill-opacity="0.85"/>
<circle cx="621.31" cy="244.58" r="1.8" fill="#b9b95a" fill-opacity="0.85"/>
<circle cx="630.26" cy="250.73" r="1.8" fill="#b9b95a" fill-opacity="0.85"/>
<circle cx="621.36" cy="239.60" r="1.8" fill="#b9b95a" fill-opacity="0.85"/>
<circle cx="629.94" cy="258.89" r="1.8" fill="#b9b95a" fill-opacity="0.85"/>
<circle cx="618.26" cy="249.24" r="1.8" fill="#b9b95a" fill-opacity="0.85"/>
<circle cx="630.63" cy="238.57" r="1.8" fill="#b9b95a" fill-opacity="0.85"/>
<circle cx="630.84" cy="243.94" r="1.8" fill="#b9b95a" fill-opacity="0.85"/>
<circle cx="621.93" cy="250.46" r="1.8" fill="#b9b95a" fill-opacity="0.85"/>
<circle cx="621.58" cy="251.91" r="1.8" fill="#b9b95a" fill-opacity="0.85"/>
<circle cx="621.82" cy="254.52" r="1.8" fill="#b9b95a" fill-opacity="0.85"/>
<circle cx="626.68" cy="237.55" r="1.8" fill="#b9b95a" fill-opacity="0.85"/>
<circle cx="620.50" cy="233.97" r="1.8" fill="#b9b95a" fill-opacity="0.85"/>
<circle cx="621.49" cy="237.48" r="1.8" fill="#b9b95a" fill-opacity="0.85"/>
<circle cx="632.89" cy="247.87" r="1.8" fill="#b9b95a" fill-opacity="0.85"/>
<circle cx="635.53" cy="245.59" r="1.8" fill="#b9b95a" fill-opacity="0.85"/>
<circle cx="620.02" cy="258.42" r="1.8" fill="#b9b95a" fill-opacity="0.85"/>
<circle cx="627.19" cy="243.30" r="1.8" fill="#b9b95a" fill-opacity="0.85"/>
<circle cx="629.98" cy="260.84" r="1.8" fill="#b9b95a" fill-opacity="0.85"/>
<circle cx="635.79" cy="229.10" r="1.8" fill="#b9b95a" fill-opacity="0.85"/>
<line x1="626.50" y1="229.50" x2="626.50" y2="242.80" stroke="#4a4a4a" stroke-width="1.1"/>
<line x1="626.50" y1="255.07" x2="626.50" y2="260.50" stroke="#4a4a4a" stroke-width="1.1"/>
<line x1="623.00" y1="229.50" x2="630.00" y2="229.50" stroke="#4a4a4a" stroke-width="1.1"/>
<line x1="623.00" y1="260.50" x2="630.00" y2="260.50" stroke="#4a4a4a" stroke-width="1.1"/>
<rect x="619.50" y="242.50" width="14" height="12" fill="none" stroke="#262626" stroke-width="1.2"/>
<line x1="619.50" y1="247.50" x2="633.50" y2="247.50" stroke="#262626" stroke-width="1.2"/>
<text x="631.50" y="288.60" font-size="9.2" text-anchor="end" font-weight="normal" fill="#333333" transform="rotate(-45 631.50 288.60)">Tau+AR</text>
<polyline points="545.50,185.40 545.50,169.50 624.50,169.50 624.50,174.70" stroke="#3a3a3a" stroke-width="1" fill="none" stroke-linejoin="round" stroke-linecap="butt"/>
<polygon points="579.80,163.45 580.61,165.09 582.42,165.35 581.11,166.62 581.42,168.42 579.80,167.57 578.18,168.42 578.49,166.62 577.18,165.35 578.99,165.09" fill="#333" stroke="none"/>
<polygon points="585.00,163.45 585.81,165.09 587.62,165.35 586.31,166.62 586.62,168.42 585.00,167.57 583.38,168.42 583.69,166.62 582.38,165.35 584.19,165.09" fill="#333" stroke="none"/>
<polygon points="590.20,163.45 591.01,165.09 592.82,165.35 591.51,166.62 591.82,168.42 590.20,167.57 588.58,168.42 588.89,166.62 587.58,165.35 589.39,165.09" fill="#333" stroke="none"/>
<polyline points="573.50,182.10 573.50,178.50 624.50,178.50 624.50,194.40" stroke="#3a3a3a" stroke-width="1" fill="none" stroke-linejoin="round" stroke-linecap="butt"/>
<text x="599.00" y="177.20" font-size="9.5" text-anchor="middle" font-weight="normal" fill="#333333">ns</text>
<polyline points="545.50,194.60 545.50,189.50 596.50,189.50 596.50,194.60" stroke="#3a3a3a" stroke-width="1" fill="none" stroke-linejoin="round" stroke-linecap="butt"/>
<text x="571.00" y="188.20" font-size="9.5" text-anchor="middle" font-weight="normal" fill="#333333">ns</text>
<polyline points="545.50,206.60 545.50,198.50 569.50,198.50 569.50,226.30" stroke="#3a3a3a" stroke-width="1" fill="none" stroke-linejoin="round" stroke-linecap="butt"/>
<text x="557.50" y="197.20" font-size="9.5" text-anchor="middle" font-weight="normal" fill="#333333">ns</text>
<polyline points="573.50,226.30 573.50,198.50 596.50,198.50 596.50,202.20" stroke="#3a3a3a" stroke-width="1" fill="none" stroke-linejoin="round" stroke-linecap="butt"/>
<text x="585.00" y="197.20" font-size="9.5" text-anchor="middle" font-weight="normal" fill="#333333">ns</text>
<polyline points="601.50,202.20 601.50,198.50 624.50,198.50 624.50,227.10" stroke="#3a3a3a" stroke-width="1" fill="none" stroke-linejoin="round" stroke-linecap="butt"/>
<polygon points="607.80,192.45 608.61,194.09 610.42,194.35 609.11,195.62 609.42,197.42 607.80,196.57 606.18,197.42 606.49,195.62 605.18,194.35 606.99,194.09" fill="#333" stroke="none"/>
<polygon points="613.00,192.45 613.81,194.09 615.62,194.35 614.31,195.62 614.62,197.42 613.00,196.57 611.38,197.42 611.69,195.62 610.38,194.35 612.19,194.09" fill="#333" stroke="none"/>
<polygon points="618.20,192.45 619.01,194.09 620.82,194.35 619.51,195.62 619.82,197.42 618.20,196.57 616.58,197.42 616.89,195.62 615.58,194.35 617.39,194.09" fill="#333" stroke="none"/>
<line x1="530.50" y1="341.17" x2="530.50" y2="449.50" stroke="#5e5e5e" stroke-width="1"/>
<line x1="530.50" y1="449.50" x2="641.60" y2="449.50" stroke="#5e5e5e" stroke-width="1"/>
<line x1="530.40" y1="449.40" x2="532.40" y2="449.40" stroke="#5e5e5e" stroke-width="0.8"/>
<text x="527.60" y="452.80" font-size="9.6" text-anchor="end" font-weight="normal" fill="#333333">0</text>
<line x1="530.40" y1="425.35" x2="532.40" y2="425.35" stroke="#5e5e5e" stroke-width="0.8"/>
<text x="527.60" y="428.75" font-size="9.6" text-anchor="end" font-weight="normal" fill="#333333">1</text>
<line x1="530.40" y1="401.30" x2="532.40" y2="401.30" stroke="#5e5e5e" stroke-width="0.8"/>
<text x="527.60" y="404.70" font-size="9.6" text-anchor="end" font-weight="normal" fill="#333333">2</text>
<line x1="530.40" y1="377.25" x2="532.40" y2="377.25" stroke="#5e5e5e" stroke-width="0.8"/>
<text x="527.60" y="380.65" font-size="9.6" text-anchor="end" font-weight="normal" fill="#333333">3</text>
<line x1="530.40" y1="353.20" x2="532.40" y2="353.20" stroke="#5e5e5e" stroke-width="0.8"/>
<text x="527.60" y="356.60" font-size="9.6" text-anchor="end" font-weight="normal" fill="#333333">4</text>
<line x1="543.40" y1="449.40" x2="543.40" y2="447.40" stroke="#5e5e5e" stroke-width="0.8"/>
<line x1="571.20" y1="449.40" x2="571.20" y2="447.40" stroke="#5e5e5e" stroke-width="0.8"/>
<line x1="599.00" y1="449.40" x2="599.00" y2="447.40" stroke="#5e5e5e" stroke-width="0.8"/>
<line x1="626.80" y1="449.40" x2="626.80" y2="447.40" stroke="#5e5e5e" stroke-width="0.8"/>
<text x="515.30" y="396.80" font-size="9.2" text-anchor="middle" font-weight="normal" fill="#333333" transform="rotate(-90 515.30 396.80)">Spike Width (ms)</text>
<circle cx="546.59" cy="415.77" r="1.8" fill="#666666" fill-opacity="0.8"/>
<circle cx="541.40" cy="400.67" r="1.8" fill="#666666" fill-opacity="0.8"/>
<circle cx="539.79" cy="417.46" r="1.8" fill="#666666" fill-opacity="0.8"/>
<circle cx="543.62" cy="404.11" r="1.8" fill="#666666" fill-opacity="0.8"/>
<circle cx="552.46" cy="419.84" r="1.8" fill="#666666" fill-opacity="0.8"/>
<circle cx="549.06" cy="401.56" r="1.8" fill="#666666" fill-opacity="0.8"/>
<circle cx="546.51" cy="410.37" r="1.8" fill="#666666" fill-opacity="0.8"/>
<circle cx="549.74" cy="395.05" r="1.8" fill="#666666" fill-opacity="0.8"/>
<circle cx="537.96" cy="400.96" r="1.8" fill="#666666" fill-opacity="0.8"/>
<circle cx="535.42" cy="409.16" r="1.8" fill="#666666" fill-opacity="0.8"/>
<circle cx="535.26" cy="412.03" r="1.8" fill="#666666" fill-opacity="0.8"/>
<circle cx="535.83" cy="404.79" r="1.8" fill="#666666" fill-opacity="0.8"/>
<circle cx="533.58" cy="410.01" r="1.8" fill="#666666" fill-opacity="0.8"/>
<circle cx="545.91" cy="416.78" r="1.8" fill="#666666" fill-opacity="0.8"/>
<circle cx="551.78" cy="403.40" r="1.8" fill="#666666" fill-opacity="0.8"/>
<circle cx="535.67" cy="410.10" r="1.8" fill="#666666" fill-opacity="0.8"/>
<circle cx="547.14" cy="387.82" r="1.8" fill="#666666" fill-opacity="0.8"/>
<circle cx="552.21" cy="404.28" r="1.8" fill="#666666" fill-opacity="0.8"/>
<circle cx="548.71" cy="421.11" r="1.8" fill="#666666" fill-opacity="0.8"/>
<circle cx="536.46" cy="398.45" r="1.8" fill="#666666" fill-opacity="0.8"/>
<circle cx="546.17" cy="407.76" r="1.8" fill="#666666" fill-opacity="0.8"/>
<circle cx="538.51" cy="414.53" r="1.8" fill="#666666" fill-opacity="0.8"/>
<circle cx="536.96" cy="414.63" r="1.8" fill="#666666" fill-opacity="0.8"/>
<circle cx="533.62" cy="408.29" r="1.8" fill="#666666" fill-opacity="0.8"/>
<circle cx="543.91" cy="400.92" r="1.8" fill="#666666" fill-opacity="0.8"/>
<circle cx="551.78" cy="410.46" r="1.8" fill="#666666" fill-opacity="0.8"/>
<circle cx="535.48" cy="391.52" r="1.8" fill="#666666" fill-opacity="0.8"/>
<circle cx="536.34" cy="414.68" r="1.8" fill="#666666" fill-opacity="0.8"/>
<circle cx="541.17" cy="400.85" r="1.8" fill="#666666" fill-opacity="0.8"/>
<circle cx="534.17" cy="422.16" r="1.8" fill="#666666" fill-opacity="0.8"/>
<circle cx="542.69" cy="410.37" r="1.8" fill="#666666" fill-opacity="0.8"/>
<circle cx="548.01" cy="406.73" r="1.8" fill="#666666" fill-opacity="0.8"/>
<circle cx="542.62" cy="390.42" r="1.8" fill="#666666" fill-opacity="0.8"/>
<circle cx="534.18" cy="412.25" r="1.8" fill="#666666" fill-opacity="0.8"/>
<circle cx="534.01" cy="406.56" r="1.8" fill="#666666" fill-opacity="0.8"/>
<circle cx="537.36" cy="419.39" r="1.8" fill="#666666" fill-opacity="0.8"/>
<circle cx="546.74" cy="409.15" r="1.8" fill="#666666" fill-opacity="0.8"/>
<circle cx="551.90" cy="403.75" r="1.8" fill="#666666" fill-opacity="0.8"/>
<circle cx="543.46" cy="412.77" r="1.8" fill="#666666" fill-opacity="0.8"/>
<circle cx="535.47" cy="398.88" r="1.8" fill="#666666" fill-opacity="0.8"/>
<circle cx="537.72" cy="395.02" r="1.8" fill="#666666" fill-opacity="0.8"/>
<circle cx="541.72" cy="403.28" r="1.8" fill="#666666" fill-opacity="0.8"/>
<circle cx="535.56" cy="409.90" r="1.8" fill="#666666" fill-opacity="0.8"/>
<circle cx="535.72" cy="411.04" r="1.8" fill="#666666" fill-opacity="0.8"/>
<circle cx="542.08" cy="403.11" r="1.8" fill="#666666" fill-opacity="0.8"/>
<circle cx="550.21" cy="417.70" r="1.8" fill="#666666" fill-opacity="0.8"/>
<circle cx="538.15" cy="399.47" r="1.8" fill="#666666" fill-opacity="0.8"/>
<circle cx="551.06" cy="414.27" r="1.8" fill="#666666" fill-opacity="0.8"/>
<circle cx="550.92" cy="406.49" r="1.8" fill="#666666" fill-opacity="0.8"/>
<circle cx="542.06" cy="418.38" r="1.8" fill="#666666" fill-opacity="0.8"/>
<circle cx="537.90" cy="417.04" r="1.8" fill="#666666" fill-opacity="0.8"/>
<circle cx="537.09" cy="416.01" r="1.8" fill="#666666" fill-opacity="0.8"/>
<circle cx="546.75" cy="404.01" r="1.8" fill="#666666" fill-opacity="0.8"/>
<circle cx="549.91" cy="408.90" r="1.8" fill="#666666" fill-opacity="0.8"/>
<circle cx="550.61" cy="408.54" r="1.8" fill="#666666" fill-opacity="0.8"/>
<circle cx="537.57" cy="399.22" r="1.8" fill="#666666" fill-opacity="0.8"/>
<circle cx="541.93" cy="416.68" r="1.8" fill="#666666" fill-opacity="0.8"/>
<circle cx="533.84" cy="400.29" r="1.8" fill="#666666" fill-opacity="0.8"/>
<circle cx="539.49" cy="423.67" r="1.8" fill="#666666" fill-opacity="0.8"/>
<circle cx="539.30" cy="386.87" r="1.8" fill="#666666" fill-opacity="0.8"/>
<circle cx="542.27" cy="361.62" r="1.8" fill="#666666" fill-opacity="0.8"/>
<line x1="543.50" y1="386.50" x2="543.50" y2="402.74" stroke="#4a4a4a" stroke-width="1.1"/>
<line x1="543.50" y1="415.25" x2="543.50" y2="423.50" stroke="#4a4a4a" stroke-width="1.1"/>
<line x1="540.00" y1="386.50" x2="547.00" y2="386.50" stroke="#4a4a4a" stroke-width="1.1"/>
<line x1="540.00" y1="423.50" x2="547.00" y2="423.50" stroke="#4a4a4a" stroke-width="1.1"/>
<rect x="536.50" y="402.50" width="14" height="13" fill="none" stroke="#262626" stroke-width="1.2"/>
<line x1="536.50" y1="409.50" x2="550.50" y2="409.50" stroke="#262626" stroke-width="1.2"/>
<text x="544.70" y="456.10" font-size="9.2" text-anchor="end" font-weight="normal" fill="#333333" transform="rotate(-45 544.70 456.10)">WT+DMSO</text>
<circle cx="570.45" cy="397.97" r="1.8" fill="#c065b8" fill-opacity="0.85"/>
<circle cx="577.33" cy="412.57" r="1.8" fill="#c065b8" fill-opacity="0.85"/>
<circle cx="575.76" cy="400.97" r="1.8" fill="#c065b8" fill-opacity="0.85"/>
<circle cx="562.25" cy="416.35" r="1.8" fill="#c065b8" fill-opacity="0.85"/>
<circle cx="567.90" cy="411.74" r="1.8" fill="#c065b8" fill-opacity="0.85"/>
<circle cx="564.63" cy="415.79" r="1.8" fill="#c065b8" fill-opacity="0.85"/>
<circle cx="575.42" cy="413.81" r="1.8" fill="#c065b8" fill-opacity="0.85"/>
<circle cx="569.25" cy="412.61" r="1.8" fill="#c065b8" fill-opacity="0.85"/>
<circle cx="569.02" cy="410.23" r="1.8" fill="#c065b8" fill-opacity="0.85"/>
<circle cx="565.66" cy="415.79" r="1.8" fill="#c065b8" fill-opacity="0.85"/>
<circle cx="570.28" cy="416.32" r="1.8" fill="#c065b8" fill-opacity="0.85"/>
<circle cx="575.57" cy="411.19" r="1.8" fill="#c065b8" fill-opacity="0.85"/>
<circle cx="573.82" cy="421.02" r="1.8" fill="#c065b8" fill-opacity="0.85"/>
<circle cx="565.63" cy="397.69" r="1.8" fill="#c065b8" fill-opacity="0.85"/>
<line x1="571.50" y1="397.50" x2="571.50" y2="404.67" stroke="#4a4a4a" stroke-width="1.1"/>
<line x1="571.50" y1="414.05" x2="571.50" y2="421.50" stroke="#4a4a4a" stroke-width="1.1"/>
<line x1="568.00" y1="397.50" x2="575.00" y2="397.50" stroke="#4a4a4a" stroke-width="1.1"/>
<line x1="568.00" y1="421.50" x2="575.00" y2="421.50" stroke="#4a4a4a" stroke-width="1.1"/>
<rect x="564.50" y="404.50" width="14" height="9" fill="none" stroke="#262626" stroke-width="1.2"/>
<line x1="564.50" y1="410.50" x2="578.50" y2="410.50" stroke="#262626" stroke-width="1.2"/>
<text x="572.50" y="456.10" font-size="9.2" text-anchor="end" font-weight="normal" fill="#333333" transform="rotate(-45 572.50 456.10)">WT+AR</text>
<circle cx="591.35" cy="414.62" r="1.8" fill="#52c2ca" fill-opacity="0.85"/>
<circle cx="607.96" cy="416.40" r="1.8" fill="#52c2ca" fill-opacity="0.85"/>
<circle cx="593.60" cy="403.02" r="1.8" fill="#52c2ca" fill-opacity="0.85"/>
<circle cx="593.07" cy="395.49" r="1.8" fill="#52c2ca" fill-opacity="0.85"/>
<circle cx="597.73" cy="403.78" r="1.8" fill="#52c2ca" fill-opacity="0.85"/>
<circle cx="592.64" cy="399.61" r="1.8" fill="#52c2ca" fill-opacity="0.85"/>
<circle cx="590.80" cy="407.22" r="1.8" fill="#52c2ca" fill-opacity="0.85"/>
<circle cx="590.58" cy="398.85" r="1.8" fill="#52c2ca" fill-opacity="0.85"/>
<circle cx="589.65" cy="395.67" r="1.8" fill="#52c2ca" fill-opacity="0.85"/>
<circle cx="592.01" cy="410.33" r="1.8" fill="#52c2ca" fill-opacity="0.85"/>
<circle cx="602.59" cy="413.24" r="1.8" fill="#52c2ca" fill-opacity="0.85"/>
<circle cx="604.60" cy="408.83" r="1.8" fill="#52c2ca" fill-opacity="0.85"/>
<circle cx="604.45" cy="402.75" r="1.8" fill="#52c2ca" fill-opacity="0.85"/>
<circle cx="597.35" cy="416.87" r="1.8" fill="#52c2ca" fill-opacity="0.85"/>
<circle cx="604.06" cy="416.09" r="1.8" fill="#52c2ca" fill-opacity="0.85"/>
<circle cx="591.30" cy="417.50" r="1.8" fill="#52c2ca" fill-opacity="0.85"/>
<circle cx="606.30" cy="401.86" r="1.8" fill="#52c2ca" fill-opacity="0.85"/>
<circle cx="597.20" cy="412.85" r="1.8" fill="#52c2ca" fill-opacity="0.85"/>
<circle cx="591.46" cy="418.08" r="1.8" fill="#52c2ca" fill-opacity="0.85"/>
<circle cx="596.66" cy="416.97" r="1.8" fill="#52c2ca" fill-opacity="0.85"/>
<circle cx="592.87" cy="413.52" r="1.8" fill="#52c2ca" fill-opacity="0.85"/>
<circle cx="603.86" cy="408.85" r="1.8" fill="#52c2ca" fill-opacity="0.85"/>
<circle cx="596.48" cy="414.30" r="1.8" fill="#52c2ca" fill-opacity="0.85"/>
<circle cx="589.34" cy="411.72" r="1.8" fill="#52c2ca" fill-opacity="0.85"/>
<circle cx="592.85" cy="411.16" r="1.8" fill="#52c2ca" fill-opacity="0.85"/>
<circle cx="590.60" cy="420.07" r="1.8" fill="#52c2ca" fill-opacity="0.85"/>
<circle cx="608.03" cy="405.95" r="1.8" fill="#52c2ca" fill-opacity="0.85"/>
<circle cx="597.22" cy="410.41" r="1.8" fill="#52c2ca" fill-opacity="0.85"/>
<circle cx="604.67" cy="393.80" r="1.8" fill="#52c2ca" fill-opacity="0.85"/>
<circle cx="600.87" cy="406.42" r="1.8" fill="#52c2ca" fill-opacity="0.85"/>
<circle cx="597.25" cy="411.54" r="1.8" fill="#52c2ca" fill-opacity="0.85"/>
<circle cx="603.64" cy="402.31" r="1.8" fill="#52c2ca" fill-opacity="0.85"/>
<circle cx="600.06" cy="406.21" r="1.8" fill="#52c2ca" fill-opacity="0.85"/>
<circle cx="589.87" cy="405.10" r="1.8" fill="#52c2ca" fill-opacity="0.85"/>
<circle cx="608.88" cy="417.64" r="1.8" fill="#52c2ca" fill-opacity="0.85"/>
<circle cx="595.98" cy="416.35" r="1.8" fill="#52c2ca" fill-opacity="0.85"/>
<circle cx="602.03" cy="421.74" r="1.8" fill="#52c2ca" fill-opacity="0.85"/>
<circle cx="597.34" cy="392.16" r="1.8" fill="#52c2ca" fill-opacity="0.85"/>
<line x1="599.50" y1="392.50" x2="599.50" y2="404.19" stroke="#4a4a4a" stroke-width="1.1"/>
<line x1="599.50" y1="413.32" x2="599.50" y2="421.50" stroke="#4a4a4a" stroke-width="1.1"/>
<line x1="596.00" y1="392.50" x2="603.00" y2="392.50" stroke="#4a4a4a" stroke-width="1.1"/>
<line x1="596.00" y1="421.50" x2="603.00" y2="421.50" stroke="#4a4a4a" stroke-width="1.1"/>
<rect x="591.50" y="404.50" width="14" height="9" fill="none" stroke="#262626" stroke-width="1.2"/>
<line x1="591.50" y1="408.50" x2="605.50" y2="408.50" stroke="#262626" stroke-width="1.2"/>
<text x="600.30" y="456.10" font-size="9.2" text-anchor="end" font-weight="normal" fill="#333333" transform="rotate(-45 600.30 456.10)">Tau+DMSO</text>
<circle cx="622.75" cy="412.49" r="1.8" fill="#b9b95a" fill-opacity="0.85"/>
<circle cx="622.86" cy="415.25" r="1.8" fill="#b9b95a" fill-opacity="0.85"/>
<circle cx="635.95" cy="412.93" r="1.8" fill="#b9b95a" fill-opacity="0.85"/>
<circle cx="625.68" cy="413.18" r="1.8" fill="#b9b95a" fill-opacity="0.85"/>
<circle cx="631.30" cy="411.70" r="1.8" fill="#b9b95a" fill-opacity="0.85"/>
<circle cx="618.29" cy="412.25" r="1.8" fill="#b9b95a" fill-opacity="0.85"/>
<circle cx="633.08" cy="411.01" r="1.8" fill="#b9b95a" fill-opacity="0.85"/>
<circle cx="634.67" cy="410.42" r="1.8" fill="#b9b95a" fill-opacity="0.85"/>
<circle cx="622.01" cy="411.86" r="1.8" fill="#b9b95a" fill-opacity="0.85"/>
<circle cx="622.94" cy="410.75" r="1.8" fill="#b9b95a" fill-opacity="0.85"/>
<circle cx="629.80" cy="412.69" r="1.8" fill="#b9b95a" fill-opacity="0.85"/>
<circle cx="635.86" cy="411.55" r="1.8" fill="#b9b95a" fill-opacity="0.85"/>
<circle cx="632.52" cy="411.88" r="1.8" fill="#b9b95a" fill-opacity="0.85"/>
<circle cx="617.24" cy="410.43" r="1.8" fill="#b9b95a" fill-opacity="0.85"/>
<circle cx="619.10" cy="412.35" r="1.8" fill="#b9b95a" fill-opacity="0.85"/>
<circle cx="634.57" cy="415.28" r="1.8" fill="#b9b95a" fill-opacity="0.85"/>
<circle cx="624.84" cy="412.11" r="1.8" fill="#b9b95a" fill-opacity="0.85"/>
<circle cx="635.86" cy="415.60" r="1.8" fill="#b9b95a" fill-opacity="0.85"/>
<circle cx="625.79" cy="426.90" r="1.8" fill="#b9b95a" fill-opacity="0.85"/>
<circle cx="633.50" cy="425.18" r="1.8" fill="#b9b95a" fill-opacity="0.85"/>
<circle cx="621.17" cy="415.80" r="1.8" fill="#b9b95a" fill-opacity="0.85"/>
<circle cx="636.09" cy="412.56" r="1.8" fill="#b9b95a" fill-opacity="0.85"/>
<circle cx="626.29" cy="423.31" r="1.8" fill="#b9b95a" fill-opacity="0.85"/>
<circle cx="616.88" cy="412.82" r="1.8" fill="#b9b95a" fill-opacity="0.85"/>
<circle cx="620.76" cy="424.03" r="1.8" fill="#b9b95a" fill-opacity="0.85"/>
<circle cx="618.45" cy="422.18" r="1.8" fill="#b9b95a" fill-opacity="0.85"/>
<circle cx="625.18" cy="411.43" r="1.8" fill="#b9b95a" fill-opacity="0.85"/>
<circle cx="635.95" cy="412.25" r="1.8" fill="#b9b95a" fill-opacity="0.85"/>
<circle cx="636.22" cy="411.57" r="1.8" fill="#b9b95a" fill-opacity="0.85"/>
<circle cx="635.36" cy="421.98" r="1.8" fill="#b9b95a" fill-opacity="0.85"/>
<circle cx="624.98" cy="428.72" r="1.8" fill="#b9b95a" fill-opacity="0.85"/>
<circle cx="632.19" cy="399.38" r="1.8" fill="#b9b95a" fill-opacity="0.85"/>
<line x1="626.50" y1="399.50" x2="626.50" y2="412.36" stroke="#4a4a4a" stroke-width="1.1"/>
<line x1="626.50" y1="422.46" x2="626.50" y2="428.50" stroke="#4a4a4a" stroke-width="1.1"/>
<line x1="623.00" y1="399.50" x2="630.00" y2="399.50" stroke="#4a4a4a" stroke-width="1.1"/>
<line x1="623.00" y1="428.50" x2="630.00" y2="428.50" stroke="#4a4a4a" stroke-width="1.1"/>
<rect x="619.50" y="412.50" width="14" height="10" fill="none" stroke="#262626" stroke-width="1.2"/>
<line x1="619.50" y1="413.50" x2="633.50" y2="413.50" stroke="#262626" stroke-width="1.2"/>
<text x="628.10" y="456.10" font-size="9.2" text-anchor="end" font-weight="normal" fill="#333333" transform="rotate(-45 628.10 456.10)">Tau+AR</text>
<polyline points="545.50,342.20 545.50,326.50 624.50,326.50 624.50,331.50" stroke="#3a3a3a" stroke-width="1" fill="none" stroke-linejoin="round" stroke-linecap="butt"/>
<polygon points="579.80,320.45 580.61,322.09 582.42,322.35 581.11,323.62 581.42,325.42 579.80,324.57 578.18,325.42 578.49,323.62 577.18,322.35 578.99,322.09" fill="#333" stroke="none"/>
<polygon points="585.00,320.45 585.81,322.09 587.62,322.35 586.31,323.62 586.62,325.42 585.00,324.57 583.38,325.42 583.69,323.62 582.38,322.35 584.19,322.09" fill="#333" stroke="none"/>
<polygon points="590.20,320.45 591.01,322.09 592.82,322.35 591.51,323.62 591.82,325.42 590.20,324.57 588.58,325.42 588.89,323.62 587.58,322.35 589.39,322.09" fill="#333" stroke="none"/>
<polyline points="573.50,338.10 573.50,335.50 624.50,335.50 624.50,351.20" stroke="#3a3a3a" stroke-width="1" fill="none" stroke-linejoin="round" stroke-linecap="butt"/>
<text x="599.00" y="334.20" font-size="9.5" text-anchor="middle" font-weight="normal" fill="#333333">ns</text>
<polyline points="545.50,351.20 545.50,346.50 596.50,346.50 596.50,351.20" stroke="#3a3a3a" stroke-width="1" fill="none" stroke-linejoin="round" stroke-linecap="butt"/>
<text x="571.00" y="345.20" font-size="9.5" text-anchor="middle" font-weight="normal" fill="#333333">ns</text>
<polyline points="545.50,358.20 545.50,355.50 569.50,355.50 569.50,395.00" stroke="#3a3a3a" stroke-width="1" fill="none" stroke-linejoin="round" stroke-linecap="butt"/>
<text x="557.50" y="354.20" font-size="9.5" text-anchor="middle" font-weight="normal" fill="#333333">ns</text>
<polyline points="573.50,395.00 573.50,355.50 596.50,355.50 596.50,388.00" stroke="#3a3a3a" stroke-width="1" fill="none" stroke-linejoin="round" stroke-linecap="butt"/>
<text x="585.00" y="354.20" font-size="9.5" text-anchor="middle" font-weight="normal" fill="#333333">ns</text>
<polyline points="601.50,388.00 601.50,355.50 624.50,355.50 624.50,395.00" stroke="#3a3a3a" stroke-width="1" fill="none" stroke-linejoin="round" stroke-linecap="butt"/>
<polygon points="607.80,349.45 608.61,351.09 610.42,351.35 609.11,352.62 609.42,354.42 607.80,353.57 606.18,354.42 606.49,352.62 605.18,351.35 606.99,351.09" fill="#333" stroke="none"/>
<polygon points="613.00,349.45 613.81,351.09 615.62,351.35 614.31,352.62 614.62,354.42 613.00,353.57 611.38,354.42 611.69,352.62 610.38,351.35 612.19,351.09" fill="#333" stroke="none"/>
<polygon points="618.20,349.45 619.01,351.09 620.82,351.35 619.51,352.62 619.82,354.42 618.20,353.57 616.58,354.42 616.89,352.62 615.58,351.35 617.39,351.09" fill="#333" stroke="none"/>
<text x="0.30" y="13.90" font-size="18" text-anchor="start" font-weight="bold" fill="#1a1a1a">A)</text>
<text x="414.80" y="13.70" font-size="18" text-anchor="start" font-weight="bold" fill="#1a1a1a">B)</text>
<text x="574.00" y="14.20" font-size="18" text-anchor="start" font-weight="bold" fill="#1a1a1a">C)</text>
<text x="8.80" y="152.90" font-size="18" text-anchor="start" font-weight="bold" fill="#1a1a1a">D)</text>
<text x="169.80" y="152.90" font-size="18" text-anchor="start" font-weight="bold" fill="#1a1a1a">E)</text>
<text x="343.80" y="152.90" font-size="18" text-anchor="start" font-weight="bold" fill="#1a1a1a">F)</text>
<text x="502.00" y="152.90" font-size="18" text-anchor="start" font-weight="bold" fill="#1a1a1a">G)</text>
<polygon points="53.30,280.30 55.08,278.27 56.85,276.21 58.63,274.28 60.41,272.71 62.18,271.44 63.96,270.91 65.74,270.78 67.51,270.59 69.29,270.20 71.07,269.25 72.84,267.73 74.62,266.01 76.40,264.35 78.17,262.24 79.95,260.54 81.73,258.74 83.50,256.95 85.28,254.80 87.06,252.98 88.83,251.05 90.61,249.24 92.39,247.52 94.16,245.53 95.94,243.55 97.72,241.72 99.49,239.53 101.27,237.76 103.05,235.81 104.82,233.56 106.60,231.77 108.38,229.69 110.15,227.98 111.93,226.13 113.71,224.40 115.48,222.63 117.26,221.08 119.04,219.60 120.81,217.96 122.59,216.85 124.37,215.48 126.14,214.54 127.92,213.28 129.70,212.34 131.47,211.49 133.25,210.65 135.03,209.90 136.80,209.07 138.58,208.49 140.36,207.65 142.13,206.75 143.91,206.11 145.69,205.17 147.46,204.66 149.24,204.61 151.02,204.88 152.79,205.52 154.57,206.47 156.35,207.35 158.12,208.59 159.90,209.61 159.90,234.78 158.12,234.24 156.35,233.84 154.57,233.30 152.79,232.56 151.02,232.20 149.24,231.82 147.46,231.86 145.69,231.55 143.91,231.24 142.13,231.03 140.36,231.11 138.58,231.52 136.80,231.94 135.03,232.30 133.25,232.66 131.47,233.18 129.70,233.76 127.92,234.46 126.14,234.96 124.37,235.88 122.59,236.69 120.81,237.67 119.04,238.98 117.26,240.20 115.48,241.37 113.71,243.04 111.93,244.54 110.15,246.07 108.38,247.50 106.60,249.09 104.82,250.60 103.05,252.27 101.27,254.08 99.49,255.46 97.72,257.00 95.94,258.56 94.16,260.03 92.39,261.54 90.61,262.80 88.83,264.11 87.06,265.59 85.28,266.79 83.50,267.87 81.73,268.88 79.95,269.98 78.17,270.82 76.40,271.96 74.62,272.91 72.84,273.69 71.07,274.20 69.29,274.64 67.51,274.68 65.74,274.68 63.96,274.45 62.18,274.67 60.41,275.29 58.63,276.33 56.85,277.48 55.08,278.94 53.30,280.30" fill="#d9d6ab" stroke="none" fill-opacity="0.55"/>
<polyline points="53.30,280.30 55.08,278.27 56.85,276.21 58.63,274.28 60.41,272.71 62.18,271.44 63.96,270.91 65.74,270.78 67.51,270.59 69.29,270.20 71.07,269.25 72.84,267.73 74.62,266.01 76.40,264.35 78.17,262.24 79.95,260.54 81.73,258.74 83.50,256.95 85.28,254.80 87.06,252.98 88.83,251.05 90.61,249.24 92.39,247.52 94.16,245.53 95.94,243.55 97.72,241.72 99.49,239.53 101.27,237.76 103.05,235.81 104.82,233.56 106.60,231.77 108.38,229.69 110.15,227.98 111.93,226.13 113.71,224.40 115.48,222.63 117.26,221.08 119.04,219.60 120.81,217.96 122.59,216.85 124.37,215.48 126.14,214.54 127.92,213.28 129.70,212.34 131.47,211.49 133.25,210.65 135.03,209.90 136.80,209.07 138.58,208.49 140.36,207.65 142.13,206.75 143.91,206.11 145.69,205.17 147.46,204.66 149.24,204.61 151.02,204.88 152.79,205.52 154.57,206.47 156.35,207.35 158.12,208.59 159.90,209.61" stroke="#c3c177" stroke-width="0.7" fill="none" stroke-linejoin="round"/>
<polyline points="53.30,280.30 55.08,278.94 56.85,277.48 58.63,276.33 60.41,275.29 62.18,274.67 63.96,274.45 65.74,274.68 67.51,274.68 69.29,274.64 71.07,274.20 72.84,273.69 74.62,272.91 76.40,271.96 78.17,270.82 79.95,269.98 81.73,268.88 83.50,267.87 85.28,266.79 87.06,265.59 88.83,264.11 90.61,262.80 92.39,261.54 94.16,260.03 95.94,258.56 97.72,257.00 99.49,255.46 101.27,254.08 103.05,252.27 104.82,250.60 106.60,249.09 108.38,247.50 110.15,246.07 111.93,244.54 113.71,243.04 115.48,241.37 117.26,240.20 119.04,238.98 120.81,237.67 122.59,236.69 124.37,235.88 126.14,234.96 127.92,234.46 129.70,233.76 131.47,233.18 133.25,232.66 135.03,232.30 136.80,231.94 138.58,231.52 140.36,231.11 142.13,231.03 143.91,231.24 145.69,231.55 147.46,231.86 149.24,231.82 151.02,232.20 152.79,232.56 154.57,233.30 156.35,233.84 158.12,234.24 159.90,234.78" stroke="#c3c177" stroke-width="0.7" fill="none" stroke-linejoin="round"/>
<polygon points="53.30,280.19 55.08,280.05 56.85,279.94 58.63,279.73 60.41,279.47 62.18,279.37 63.96,278.94 65.74,278.52 67.51,277.73 69.29,277.19 71.07,276.11 72.84,275.04 74.62,274.20 76.40,272.80 78.17,271.37 79.95,269.75 81.73,268.17 83.50,266.55 85.28,264.78 87.06,262.88 88.83,261.08 90.61,259.45 92.39,257.61 94.16,255.79 95.94,254.06 97.72,252.25 99.49,250.66 101.27,248.80 103.05,247.23 104.82,245.79 106.60,244.10 108.38,242.64 110.15,241.10 111.93,239.73 113.71,238.34 115.48,236.99 117.26,235.71 119.04,234.57 120.81,233.75 122.59,233.14 124.37,232.25 126.14,231.59 127.92,231.08 129.70,230.60 131.47,230.44 133.25,229.99 135.03,229.88 136.80,229.55 138.58,229.67 140.36,229.53 142.13,229.74 143.91,229.71 145.69,229.95 147.46,230.18 149.24,230.28 151.02,230.55 152.79,230.66 154.57,231.13 156.35,231.37 158.12,231.65 159.90,231.81 159.90,244.78 158.12,244.23 156.35,243.95 154.57,243.69 152.79,243.47 151.02,243.27 149.24,242.88 147.46,242.89 145.69,242.62 143.91,242.50 142.13,242.34 140.36,242.33 138.58,242.28 136.80,242.35 135.03,242.41 133.25,242.58 131.47,242.90 129.70,243.31 127.92,243.71 126.14,244.29 124.37,244.57 122.59,245.26 120.81,245.96 119.04,246.73 117.26,247.70 115.48,248.72 113.71,249.84 111.93,251.09 110.15,252.44 108.38,253.92 106.60,255.24 104.82,256.75 103.05,258.11 101.27,259.49 99.49,260.91 97.72,262.29 95.94,263.71 94.16,265.07 92.39,266.71 90.61,268.01 88.83,269.50 87.06,270.80 85.28,272.08 83.50,273.57 81.73,274.82 79.95,276.01 78.17,276.84 76.40,277.99 74.62,278.75 72.84,279.16 71.07,279.66 69.29,280.21 67.51,280.30 65.74,280.30 63.96,280.30 62.18,280.30 60.41,280.30 58.63,280.30 56.85,280.30 55.08,280.30 53.30,280.30" fill="#dcaadc" stroke="none" fill-opacity="0.55"/>
<polyline points="53.30,280.19 55.08,280.05 56.85,279.94 58.63,279.73 60.41,279.47 62.18,279.37 63.96,278.94 65.74,278.52 67.51,277.73 69.29,277.19 71.07,276.11 72.84,275.04 74.62,274.20 76.40,272.80 78.17,271.37 79.95,269.75 81.73,268.17 83.50,266.55 85.28,264.78 87.06,262.88 88.83,261.08 90.61,259.45 92.39,257.61 94.16,255.79 95.94,254.06 97.72,252.25 99.49,250.66 101.27,248.80 103.05,247.23 104.82,245.79 106.60,244.10 108.38,242.64 110.15,241.10 111.93,239.73 113.71,238.34 115.48,236.99 117.26,235.71 119.04,234.57 120.81,233.75 122.59,233.14 124.37,232.25 126.14,231.59 127.92,231.08 129.70,230.60 131.47,230.44 133.25,229.99 135.03,229.88 136.80,229.55 138.58,229.67 140.36,229.53 142.13,229.74 143.91,229.71 145.69,229.95 147.46,230.18 149.24,230.28 151.02,230.55 152.79,230.66 154.57,231.13 156.35,231.37 158.12,231.65 159.90,231.81" stroke="#c585c5" stroke-width="0.7" fill="none" stroke-linejoin="round"/>
<polyline points="53.30,280.30 55.08,280.30 56.85,280.30 58.63,280.30 60.41,280.30 62.18,280.30 63.96,280.30 65.74,280.30 67.51,280.30 69.29,280.21 71.07,279.66 72.84,279.16 74.62,278.75 76.40,277.99 78.17,276.84 79.95,276.01 81.73,274.82 83.50,273.57 85.28,272.08 87.06,270.80 88.83,269.50 90.61,268.01 92.39,266.71 94.16,265.07 95.94,263.71 97.72,262.29 99.49,260.91 101.27,259.49 103.05,258.11 104.82,256.75 106.60,255.24 108.38,253.92 110.15,252.44 111.93,251.09 113.71,249.84 115.48,248.72 117.26,247.70 119.04,246.73 120.81,245.96 122.59,245.26 124.37,244.57 126.14,244.29 127.92,243.71 129.70,243.31 131.47,242.90 133.25,242.58 135.03,242.41 136.80,242.35 138.58,242.28 140.36,242.33 142.13,242.34 143.91,242.50 145.69,242.62 147.46,242.89 149.24,242.88 151.02,243.27 152.79,243.47 154.57,243.69 156.35,243.95 158.12,244.23 159.90,244.78" stroke="#c585c5" stroke-width="0.7" fill="none" stroke-linejoin="round"/>
<polygon points="53.30,280.30 55.08,279.15 56.85,277.93 58.63,276.77 60.41,275.37 62.18,274.26 63.96,272.95 65.74,271.45 67.51,270.05 69.29,268.41 71.07,266.41 72.84,263.87 74.62,261.73 76.40,259.90 78.17,258.04 79.95,256.48 81.73,255.48 83.50,254.80 85.28,253.92 87.06,253.54 88.83,253.09 90.61,252.54 92.39,252.42 94.16,251.99 95.94,251.89 97.72,251.57 99.49,251.48 101.27,251.29 103.05,250.99 104.82,250.99 106.60,250.86 108.38,250.67 110.15,250.63 111.93,250.51 113.71,250.30 115.48,250.22 117.26,250.15 119.04,249.88 120.81,250.16 122.59,249.97 124.37,250.01 126.14,250.17 127.92,250.49 129.70,250.47 131.47,250.74 133.25,250.71 135.03,250.82 136.80,251.11 138.58,251.34 140.36,251.35 142.13,251.66 143.91,251.80 145.69,251.96 147.46,252.05 149.24,252.44 151.02,252.75 152.79,252.82 154.57,253.06 156.35,253.41 158.12,253.80 159.90,254.01 159.90,259.87 158.12,259.48 156.35,259.16 154.57,258.94 152.79,258.67 151.02,258.63 149.24,258.29 147.46,258.00 145.69,257.95 143.91,257.62 142.13,257.46 140.36,257.33 138.58,257.26 136.80,257.05 135.03,256.73 133.25,256.80 131.47,256.54 129.70,256.34 127.92,256.22 126.14,256.18 124.37,256.03 122.59,255.83 120.81,256.01 119.04,255.97 117.26,255.84 115.48,255.90 113.71,256.04 111.93,256.29 110.15,256.40 108.38,256.45 106.60,256.57 104.82,256.52 103.05,256.66 101.27,256.88 99.49,256.98 97.72,256.86 95.94,257.08 94.16,257.34 92.39,257.53 90.61,257.79 88.83,258.06 87.06,258.30 85.28,258.85 83.50,259.36 81.73,260.02 79.95,260.78 78.17,262.29 76.40,263.89 74.62,265.48 72.84,267.48 71.07,269.48 69.29,271.58 67.51,272.90 65.74,274.23 63.96,274.96 62.18,275.84 60.41,276.75 58.63,277.67 56.85,278.70 55.08,279.43 53.30,280.30" fill="#b4b4b4" stroke="none" fill-opacity="0.55"/>
<polyline points="53.30,280.30 55.08,279.15 56.85,277.93 58.63,276.77 60.41,275.37 62.18,274.26 63.96,272.95 65.74,271.45 67.51,270.05 69.29,268.41 71.07,266.41 72.84,263.87 74.62,261.73 76.40,259.90 78.17,258.04 79.95,256.48 81.73,255.48 83.50,254.80 85.28,253.92 87.06,253.54 88.83,253.09 90.61,252.54 92.39,252.42 94.16,251.99 95.94,251.89 97.72,251.57 99.49,251.48 101.27,251.29 103.05,250.99 104.82,250.99 106.60,250.86 108.38,250.67 110.15,250.63 111.93,250.51 113.71,250.30 115.48,250.22 117.26,250.15 119.04,249.88 120.81,250.16 122.59,249.97 124.37,250.01 126.14,250.17 127.92,250.49 129.70,250.47 131.47,250.74 133.25,250.71 135.03,250.82 136.80,251.11 138.58,251.34 140.36,251.35 142.13,251.66 143.91,251.80 145.69,251.96 147.46,252.05 149.24,252.44 151.02,252.75 152.79,252.82 154.57,253.06 156.35,253.41 158.12,253.80 159.90,254.01" stroke="#9a9a9a" stroke-width="0.7" fill="none" stroke-linejoin="round"/>
<polyline points="53.30,280.30 55.08,279.43 56.85,278.70 58.63,277.67 60.41,276.75 62.18,275.84 63.96,274.96 65.74,274.23 67.51,272.90 69.29,271.58 71.07,269.48 72.84,267.48 74.62,265.48 76.40,263.89 78.17,262.29 79.95,260.78 81.73,260.02 83.50,259.36 85.28,258.85 87.06,258.30 88.83,258.06 90.61,257.79 92.39,257.53 94.16,257.34 95.94,257.08 97.72,256.86 99.49,256.98 101.27,256.88 103.05,256.66 104.82,256.52 106.60,256.57 108.38,256.45 110.15,256.40 111.93,256.29 113.71,256.04 115.48,255.90 117.26,255.84 119.04,255.97 120.81,256.01 122.59,255.83 124.37,256.03 126.14,256.18 127.92,256.22 129.70,256.34 131.47,256.54 133.25,256.80 135.03,256.73 136.80,257.05 138.58,257.26 140.36,257.33 142.13,257.46 143.91,257.62 145.69,257.95 147.46,258.00 149.24,258.29 151.02,258.63 152.79,258.67 154.57,258.94 156.35,259.16 158.12,259.48 159.90,259.87" stroke="#9a9a9a" stroke-width="0.7" fill="none" stroke-linejoin="round"/>
<polygon points="53.30,280.22 55.08,278.21 56.85,276.23 58.63,274.27 60.41,272.97 62.18,272.40 63.96,271.81 65.74,271.56 67.51,271.40 69.29,271.34 71.07,270.71 72.84,269.94 74.62,269.16 76.40,268.29 78.17,267.50 79.95,266.90 81.73,266.01 83.50,265.47 85.28,264.74 87.06,264.36 88.83,263.64 90.61,263.38 92.39,263.02 94.16,262.78 95.94,262.51 97.72,262.46 99.49,262.37 101.27,262.13 103.05,262.06 104.82,261.84 106.60,261.66 108.38,261.70 110.15,261.68 111.93,261.63 113.71,261.44 115.48,261.32 117.26,261.42 119.04,261.19 120.81,261.28 122.59,261.29 124.37,261.05 126.14,261.19 127.92,261.12 129.70,261.30 131.47,261.51 133.25,261.59 135.03,261.69 136.80,261.79 138.58,261.94 140.36,262.15 142.13,262.41 143.91,262.76 145.69,262.95 147.46,263.21 149.24,263.44 151.02,263.76 152.79,263.94 154.57,264.21 156.35,264.58 158.12,264.59 159.90,264.89 159.90,270.43 158.12,270.01 156.35,269.71 154.57,269.69 152.79,269.36 151.02,269.03 149.24,268.96 147.46,268.69 145.69,268.43 143.91,268.15 142.13,267.84 140.36,267.72 138.58,267.41 136.80,267.36 135.03,267.05 133.25,266.97 131.47,266.93 129.70,266.83 127.92,266.74 126.14,266.58 124.37,266.67 122.59,266.49 120.81,266.69 119.04,266.56 117.26,266.68 115.48,266.77 113.71,266.57 111.93,266.63 110.15,266.86 108.38,266.69 106.60,266.78 104.82,266.84 103.05,267.06 101.27,267.10 99.49,267.08 97.72,267.16 95.94,267.34 94.16,267.53 92.39,267.71 90.61,268.00 88.83,268.28 87.06,268.68 85.28,269.08 83.50,269.75 81.73,270.40 79.95,270.82 78.17,271.35 76.40,272.06 74.62,272.88 72.84,273.51 71.07,273.78 69.29,274.21 67.51,274.27 65.74,274.17 63.96,274.29 62.18,274.26 60.41,274.63 58.63,275.36 56.85,276.91 55.08,278.61 53.30,280.21" fill="#a8dfe3" stroke="none" fill-opacity="0.55"/>
<polyline points="53.30,280.22 55.08,278.21 56.85,276.23 58.63,274.27 60.41,272.97 62.18,272.40 63.96,271.81 65.74,271.56 67.51,271.40 69.29,271.34 71.07,270.71 72.84,269.94 74.62,269.16 76.40,268.29 78.17,267.50 79.95,266.90 81.73,266.01 83.50,265.47 85.28,264.74 87.06,264.36 88.83,263.64 90.61,263.38 92.39,263.02 94.16,262.78 95.94,262.51 97.72,262.46 99.49,262.37 101.27,262.13 103.05,262.06 104.82,261.84 106.60,261.66 108.38,261.70 110.15,261.68 111.93,261.63 113.71,261.44 115.48,261.32 117.26,261.42 119.04,261.19 120.81,261.28 122.59,261.29 124.37,261.05 126.14,261.19 127.92,261.12 129.70,261.30 131.47,261.51 133.25,261.59 135.03,261.69 136.80,261.79 138.58,261.94 140.36,262.15 142.13,262.41 143.91,262.76 145.69,262.95 147.46,263.21 149.24,263.44 151.02,263.76 152.79,263.94 154.57,264.21 156.35,264.58 158.12,264.59 159.90,264.89" stroke="#7fcdd3" stroke-width="0.7" fill="none" stroke-linejoin="round"/>
<polyline points="53.30,280.21 55.08,278.61 56.85,276.91 58.63,275.36 60.41,274.63 62.18,274.26 63.96,274.29 65.74,274.17 67.51,274.27 69.29,274.21 71.07,273.78 72.84,273.51 74.62,272.88 76.40,272.06 78.17,271.35 79.95,270.82 81.73,270.40 83.50,269.75 85.28,269.08 87.06,268.68 88.83,268.28 90.61,268.00 92.39,267.71 94.16,267.53 95.94,267.34 97.72,267.16 99.49,267.08 101.27,267.10 103.05,267.06 104.82,266.84 106.60,266.78 108.38,266.69 110.15,266.86 111.93,266.63 113.71,266.57 115.48,266.77 117.26,266.68 119.04,266.56 120.81,266.69 122.59,266.49 124.37,266.67 126.14,266.58 127.92,266.74 129.70,266.83 131.47,266.93 133.25,266.97 135.03,267.05 136.80,267.36 138.58,267.41 140.36,267.72 142.13,267.84 143.91,268.15 145.69,268.43 147.46,268.69 149.24,268.96 151.02,269.03 152.79,269.36 154.57,269.69 156.35,269.71 158.12,270.01 159.90,270.43" stroke="#7fcdd3" stroke-width="0.7" fill="none" stroke-linejoin="round"/>
<polyline points="53.30,280.30 55.08,278.67 56.85,276.94 58.63,275.30 60.41,273.96 62.18,273.11 63.96,272.76 65.74,272.69 67.51,272.65 69.29,272.39 71.07,271.67 72.84,270.65 74.62,269.42 76.40,268.07 78.17,266.64 79.95,265.20 81.73,263.78 83.50,262.32 85.28,260.81 87.06,259.26 88.83,257.68 90.61,256.08 92.39,254.45 94.16,252.78 95.94,251.08 97.72,249.36 99.49,247.63 101.27,245.89 103.05,244.06 104.82,242.19 106.60,240.39 108.38,238.71 110.15,237.02 111.93,235.32 113.71,233.66 115.48,232.06 117.26,230.55 119.04,229.16 120.81,227.91 122.59,226.77 124.37,225.72 126.14,224.76 127.92,223.87 129.70,223.07 131.47,222.34 133.25,221.68 135.03,221.06 136.80,220.47 138.58,219.93 140.36,219.43 142.13,219.01 143.91,218.67 145.69,218.42 147.46,218.28 149.24,218.27 151.02,218.52 152.79,219.07 154.57,219.80 156.35,220.63 158.12,221.45 159.90,222.17" stroke="#a6a33a" stroke-width="1.0" fill="none" stroke-linejoin="round"/>
<polyline points="53.30,280.30 55.08,280.22 56.85,280.18 58.63,280.15 60.41,280.10 62.18,279.99 63.96,279.79 65.74,279.48 67.51,279.07 69.29,278.57 71.07,277.96 72.84,277.24 74.62,276.38 76.40,275.38 78.17,274.20 79.95,272.87 81.73,271.45 83.50,269.96 85.28,268.46 87.06,266.94 88.83,265.34 90.61,263.69 92.39,262.03 94.16,260.39 95.94,258.81 97.72,257.26 99.49,255.72 101.27,254.18 103.05,252.66 104.82,251.15 106.60,249.67 108.38,248.21 110.15,246.80 111.93,245.42 113.71,244.07 115.48,242.80 117.26,241.65 119.04,240.66 120.81,239.86 122.59,239.15 124.37,238.51 126.14,237.93 127.92,237.43 129.70,237.00 131.47,236.63 133.25,236.34 135.03,236.12 136.80,236.00 138.58,235.96 140.36,235.99 142.13,236.06 143.91,236.16 145.69,236.29 147.46,236.43 149.24,236.62 151.02,236.87 152.79,237.14 154.57,237.43 156.35,237.73 158.12,238.02 159.90,238.29" stroke="#a845a8" stroke-width="1.0" fill="none" stroke-linejoin="round"/>
<polyline points="53.30,280.30 55.08,279.27 56.85,278.25 58.63,277.21 60.41,276.11 62.18,275.05 63.96,273.98 65.74,272.84 67.51,271.52 69.29,269.93 71.07,267.94 72.84,265.78 74.62,263.67 76.40,261.81 78.17,260.08 79.95,258.69 81.73,257.80 83.50,257.06 85.28,256.45 87.06,255.94 88.83,255.52 90.61,255.18 92.39,254.90 94.16,254.66 95.94,254.46 97.72,254.29 99.49,254.14 101.27,254.01 103.05,253.89 104.82,253.77 106.60,253.66 108.38,253.54 110.15,253.42 111.93,253.28 113.71,253.16 115.48,253.05 117.26,252.98 119.04,252.94 120.81,252.96 122.59,253.01 124.37,253.09 126.14,253.19 127.92,253.31 129.70,253.44 131.47,253.57 133.25,253.71 135.03,253.85 136.80,254.00 138.58,254.16 140.36,254.33 142.13,254.51 143.91,254.70 145.69,254.90 147.46,255.11 149.24,255.35 151.02,255.59 152.79,255.84 154.57,256.09 156.35,256.35 158.12,256.60 159.90,256.85" stroke="#3a3a3a" stroke-width="1.0" fill="none" stroke-linejoin="round"/>
<polyline points="53.30,280.30 55.08,278.50 56.85,276.61 58.63,274.95 60.41,273.85 62.18,273.29 63.96,273.04 65.74,272.95 67.51,272.89 69.29,272.72 71.07,272.30 72.84,271.70 74.62,270.99 76.40,270.24 78.17,269.50 79.95,268.81 81.73,268.20 83.50,267.60 85.28,267.01 87.06,266.48 88.83,266.03 90.61,265.68 92.39,265.42 94.16,265.20 95.94,265.01 97.72,264.84 99.49,264.70 101.27,264.58 103.05,264.47 104.82,264.38 106.60,264.31 108.38,264.24 110.15,264.17 111.93,264.11 113.71,264.05 115.48,264.00 117.26,263.95 119.04,263.92 120.81,263.89 122.59,263.88 124.37,263.89 126.14,263.91 127.92,263.96 129.70,264.03 131.47,264.12 133.25,264.24 135.03,264.39 136.80,264.56 138.58,264.74 140.36,264.95 142.13,265.17 143.91,265.40 145.69,265.64 147.46,265.88 149.24,266.13 151.02,266.39 152.79,266.64 154.57,266.89 156.35,267.14 158.12,267.37 159.90,267.60" stroke="#2fb3bb" stroke-width="1.0" fill="none" stroke-linejoin="round"/>
<line x1="53.50" y1="172.80" x2="53.50" y2="280.30" stroke="#9a9a9a" stroke-width="1.1"/>
<line x1="53.50" y1="280.30" x2="159.90" y2="280.30" stroke="#9a9a9a" stroke-width="1.1"/>
<line x1="53.30" y1="280.30" x2="55.30" y2="280.30" stroke="#9a9a9a" stroke-width="0.8"/>
<text x="50.10" y="283.60" font-size="9.3" text-anchor="end" font-weight="normal" fill="#333333">0</text>
<line x1="53.30" y1="255.88" x2="55.30" y2="255.88" stroke="#9a9a9a" stroke-width="0.8"/>
<text x="50.10" y="259.18" font-size="9.3" text-anchor="end" font-weight="normal" fill="#333333">5</text>
<line x1="53.30" y1="231.45" x2="55.30" y2="231.45" stroke="#9a9a9a" stroke-width="0.8"/>
<text x="50.10" y="234.75" font-size="9.3" text-anchor="end" font-weight="normal" fill="#333333">10</text>
<line x1="53.30" y1="207.03" x2="55.30" y2="207.03" stroke="#9a9a9a" stroke-width="0.8"/>
<text x="50.10" y="210.33" font-size="9.3" text-anchor="end" font-weight="normal" fill="#333333">15</text>
<line x1="53.30" y1="182.60" x2="55.30" y2="182.60" stroke="#9a9a9a" stroke-width="0.8"/>
<text x="50.10" y="185.90" font-size="9.3" text-anchor="end" font-weight="normal" fill="#333333">20</text>
<line x1="53.30" y1="280.30" x2="53.30" y2="278.30" stroke="#9a9a9a" stroke-width="0.8"/>
<text x="53.30" y="291.90" font-size="9.3" text-anchor="middle" font-weight="normal" fill="#333333">0</text>
<line x1="106.60" y1="280.30" x2="106.60" y2="278.30" stroke="#9a9a9a" stroke-width="0.8"/>
<text x="106.60" y="291.90" font-size="9.3" text-anchor="middle" font-weight="normal" fill="#333333">240</text>
<line x1="159.90" y1="280.30" x2="159.90" y2="278.30" stroke="#9a9a9a" stroke-width="0.8"/>
<text x="159.90" y="291.90" font-size="9.3" text-anchor="middle" font-weight="normal" fill="#333333">480</text>
<text x="108.60" y="303.60" font-size="9.2" text-anchor="middle" font-weight="normal" fill="#333333">Current (pA)</text>
<text x="33.80" y="228.00" font-size="9" text-anchor="middle" font-weight="normal" fill="#333333" transform="rotate(-90 33.80 228.00)">Spike Count</text>
<text x="97.00" y="151.10" font-size="11.5" text-anchor="middle" font-weight="normal" fill="#222">From Rest</text>
<rect x="66.30" y="161.60" width="8.60" height="2" fill="#8c8c8c"/>
<rect x="66.30" y="163.60" width="8.60" height="2" fill="#d486d0"/>
<rect x="88.70" y="168.30" width="17.70" height="2" fill="#8c8c8c"/>
<rect x="88.70" y="170.30" width="17.70" height="2" fill="#86d4da"/>
<rect x="106.20" y="175.10" width="53.70" height="2" fill="#d486d0"/>
<rect x="106.20" y="177.10" width="53.70" height="2" fill="#86d4da"/>
<rect x="97.20" y="182.20" width="62.70" height="2" fill="#86d4da"/>
<rect x="97.20" y="184.20" width="62.70" height="2" fill="#d6d68a"/>
<polygon points="53.30,448.27 55.08,446.90 56.85,445.56 58.63,443.63 60.41,441.43 62.18,437.66 63.96,432.25 65.74,426.47 67.51,420.74 69.29,416.34 71.07,411.97 72.84,408.42 74.62,405.18 76.40,402.63 78.17,400.74 79.95,399.05 81.73,397.73 83.50,396.70 85.28,395.28 87.06,394.16 88.83,393.05 90.61,391.97 92.39,390.70 94.16,389.75 95.94,388.65 97.72,387.71 99.49,386.68 101.27,385.83 103.05,384.83 104.82,383.92 106.60,383.10 108.38,382.01 110.15,381.35 111.93,380.39 113.71,379.52 115.48,378.79 117.26,378.15 119.04,377.19 120.81,376.52 122.59,376.00 124.37,375.43 126.14,374.74 127.92,374.49 129.70,374.06 131.47,374.33 133.25,375.02 135.03,376.18 136.80,377.42 138.58,378.72 140.36,380.35 142.13,381.86 143.91,383.39 145.69,385.15 147.46,386.80 149.24,388.60 151.02,390.45 152.79,392.22 154.57,394.13 156.35,396.12 158.12,397.72 159.90,399.74 159.90,420.09 158.12,419.83 156.35,419.59 154.57,419.26 152.79,419.11 151.02,418.72 149.24,418.30 147.46,417.48 145.69,416.82 143.91,415.53 142.13,413.76 140.36,411.63 138.58,409.38 136.80,407.83 135.03,406.21 133.25,404.80 131.47,403.80 129.70,403.59 127.92,403.52 126.14,403.65 124.37,404.09 122.59,404.73 120.81,405.05 119.04,405.81 117.26,406.48 115.48,407.26 113.71,408.19 111.93,408.91 110.15,409.68 108.38,410.55 106.60,411.28 104.82,412.02 103.05,412.97 101.27,413.82 99.49,414.67 97.72,415.41 95.94,416.35 94.16,417.04 92.39,417.89 90.61,418.84 88.83,419.79 87.06,420.47 85.28,421.46 83.50,422.10 81.73,422.80 79.95,423.66 78.17,424.68 76.40,425.65 74.62,426.83 72.84,428.29 71.07,430.00 69.29,431.93 67.51,434.43 65.74,437.30 63.96,440.83 62.18,443.65 60.41,445.60 58.63,446.59 56.85,447.23 55.08,447.83 53.30,448.40" fill="#d9d6ab" stroke="none" fill-opacity="0.55"/>
<polyline points="53.30,448.27 55.08,446.90 56.85,445.56 58.63,443.63 60.41,441.43 62.18,437.66 63.96,432.25 65.74,426.47 67.51,420.74 69.29,416.34 71.07,411.97 72.84,408.42 74.62,405.18 76.40,402.63 78.17,400.74 79.95,399.05 81.73,397.73 83.50,396.70 85.28,395.28 87.06,394.16 88.83,393.05 90.61,391.97 92.39,390.70 94.16,389.75 95.94,388.65 97.72,387.71 99.49,386.68 101.27,385.83 103.05,384.83 104.82,383.92 106.60,383.10 108.38,382.01 110.15,381.35 111.93,380.39 113.71,379.52 115.48,378.79 117.26,378.15 119.04,377.19 120.81,376.52 122.59,376.00 124.37,375.43 126.14,374.74 127.92,374.49 129.70,374.06 131.47,374.33 133.25,375.02 135.03,376.18 136.80,377.42 138.58,378.72 140.36,380.35 142.13,381.86 143.91,383.39 145.69,385.15 147.46,386.80 149.24,388.60 151.02,390.45 152.79,392.22 154.57,394.13 156.35,396.12 158.12,397.72 159.90,399.74" stroke="#c3c177" stroke-width="0.7" fill="none" stroke-linejoin="round"/>
<polyline points="53.30,448.40 55.08,447.83 56.85,447.23 58.63,446.59 60.41,445.60 62.18,443.65 63.96,440.83 65.74,437.30 67.51,434.43 69.29,431.93 71.07,430.00 72.84,428.29 74.62,426.83 76.40,425.65 78.17,424.68 79.95,423.66 81.73,422.80 83.50,422.10 85.28,421.46 87.06,420.47 88.83,419.79 90.61,418.84 92.39,417.89 94.16,417.04 95.94,416.35 97.72,415.41 99.49,414.67 101.27,413.82 103.05,412.97 104.82,412.02 106.60,411.28 108.38,410.55 110.15,409.68 111.93,408.91 113.71,408.19 115.48,407.26 117.26,406.48 119.04,405.81 120.81,405.05 122.59,404.73 124.37,404.09 126.14,403.65 127.92,403.52 129.70,403.59 131.47,403.80 133.25,404.80 135.03,406.21 136.80,407.83 138.58,409.38 140.36,411.63 142.13,413.76 143.91,415.53 145.69,416.82 147.46,417.48 149.24,418.30 151.02,418.72 152.79,419.11 154.57,419.26 156.35,419.59 158.12,419.83 159.90,420.09" stroke="#c3c177" stroke-width="0.7" fill="none" stroke-linejoin="round"/>
<polygon points="53.30,448.28 55.08,448.21 56.85,448.40 58.63,448.31 60.41,448.11 62.18,448.17 63.96,447.76 65.74,447.17 67.51,446.44 69.29,445.19 71.07,443.46 72.84,440.87 74.62,437.83 76.40,434.89 78.17,432.59 79.95,430.58 81.73,428.43 83.50,426.71 85.28,424.79 87.06,423.34 88.83,422.18 90.61,420.86 92.39,419.74 94.16,418.88 95.94,417.75 97.72,416.88 99.49,415.66 101.27,414.90 103.05,413.76 104.82,412.73 106.60,411.88 108.38,411.19 110.15,410.26 111.93,409.56 113.71,408.70 115.48,407.77 117.26,407.03 119.04,406.55 120.81,405.76 122.59,405.06 124.37,404.63 126.14,403.94 127.92,403.46 129.70,403.15 131.47,402.84 133.25,402.35 135.03,402.13 136.80,401.92 138.58,401.58 140.36,401.31 142.13,400.84 143.91,400.74 145.69,400.58 147.46,400.58 149.24,400.72 151.02,401.25 152.79,401.58 154.57,401.90 156.35,402.40 158.12,402.97 159.90,403.31 159.90,415.12 158.12,414.73 156.35,414.25 154.57,413.69 152.79,413.11 151.02,412.98 149.24,412.58 147.46,412.23 145.69,412.22 143.91,412.42 142.13,412.70 140.36,412.83 138.58,413.29 136.80,413.59 135.03,413.89 133.25,414.30 131.47,414.60 129.70,414.94 127.92,415.44 126.14,415.81 124.37,416.38 122.59,416.83 120.81,417.24 119.04,418.14 117.26,418.77 115.48,419.47 113.71,420.20 111.93,420.86 110.15,421.58 108.38,422.33 106.60,423.18 104.82,423.93 103.05,424.75 101.27,425.78 99.49,426.52 97.72,427.42 95.94,428.35 94.16,429.06 92.39,429.93 90.61,431.00 88.83,432.12 87.06,433.28 85.28,434.55 83.50,435.76 81.73,437.29 79.95,438.89 78.17,440.38 76.40,442.17 74.62,443.35 72.84,444.71 71.07,445.87 69.29,446.84 67.51,447.64 65.74,448.21 63.96,448.26 62.18,448.40 60.41,448.40 58.63,448.40 56.85,448.40 55.08,448.40 53.30,448.40" fill="#dcaadc" stroke="none" fill-opacity="0.55"/>
<polyline points="53.30,448.28 55.08,448.21 56.85,448.40 58.63,448.31 60.41,448.11 62.18,448.17 63.96,447.76 65.74,447.17 67.51,446.44 69.29,445.19 71.07,443.46 72.84,440.87 74.62,437.83 76.40,434.89 78.17,432.59 79.95,430.58 81.73,428.43 83.50,426.71 85.28,424.79 87.06,423.34 88.83,422.18 90.61,420.86 92.39,419.74 94.16,418.88 95.94,417.75 97.72,416.88 99.49,415.66 101.27,414.90 103.05,413.76 104.82,412.73 106.60,411.88 108.38,411.19 110.15,410.26 111.93,409.56 113.71,408.70 115.48,407.77 117.26,407.03 119.04,406.55 120.81,405.76 122.59,405.06 124.37,404.63 126.14,403.94 127.92,403.46 129.70,403.15 131.47,402.84 133.25,402.35 135.03,402.13 136.80,401.92 138.58,401.58 140.36,401.31 142.13,400.84 143.91,400.74 145.69,400.58 147.46,400.58 149.24,400.72 151.02,401.25 152.79,401.58 154.57,401.90 156.35,402.40 158.12,402.97 159.90,403.31" stroke="#c585c5" stroke-width="0.7" fill="none" stroke-linejoin="round"/>
<polyline points="53.30,448.40 55.08,448.40 56.85,448.40 58.63,448.40 60.41,448.40 62.18,448.40 63.96,448.26 65.74,448.21 67.51,447.64 69.29,446.84 71.07,445.87 72.84,444.71 74.62,443.35 76.40,442.17 78.17,440.38 79.95,438.89 81.73,437.29 83.50,435.76 85.28,434.55 87.06,433.28 88.83,432.12 90.61,431.00 92.39,429.93 94.16,429.06 95.94,428.35 97.72,427.42 99.49,426.52 101.27,425.78 103.05,424.75 104.82,423.93 106.60,423.18 108.38,422.33 110.15,421.58 111.93,420.86 113.71,420.20 115.48,419.47 117.26,418.77 119.04,418.14 120.81,417.24 122.59,416.83 124.37,416.38 126.14,415.81 127.92,415.44 129.70,414.94 131.47,414.60 133.25,414.30 135.03,413.89 136.80,413.59 138.58,413.29 140.36,412.83 142.13,412.70 143.91,412.42 145.69,412.22 147.46,412.23 149.24,412.58 151.02,412.98 152.79,413.11 154.57,413.69 156.35,414.25 158.12,414.73 159.90,415.12" stroke="#c585c5" stroke-width="0.7" fill="none" stroke-linejoin="round"/>
<polygon points="53.30,448.40 55.08,447.42 56.85,446.43 58.63,445.04 60.41,443.67 62.18,441.94 63.96,439.33 65.74,436.54 67.51,434.12 69.29,432.25 71.07,430.48 72.84,429.00 74.62,427.59 76.40,426.62 78.17,425.76 79.95,424.92 81.73,424.39 83.50,423.54 85.28,422.85 87.06,422.21 88.83,421.58 90.61,420.88 92.39,420.26 94.16,419.57 95.94,418.94 97.72,418.32 99.49,417.75 101.27,417.48 103.05,417.00 104.82,416.60 106.60,416.28 108.38,416.20 110.15,415.72 111.93,415.66 113.71,415.64 115.48,415.61 117.26,415.47 119.04,415.43 120.81,415.66 122.59,415.74 124.37,415.81 126.14,416.08 127.92,416.22 129.70,416.36 131.47,416.85 133.25,417.25 135.03,417.99 136.80,418.47 138.58,419.20 140.36,420.10 142.13,420.74 143.91,421.39 145.69,422.07 147.46,422.66 149.24,423.33 151.02,423.79 152.79,424.39 154.57,424.79 156.35,425.45 158.12,425.80 159.90,426.46 159.90,432.43 158.12,431.78 156.35,431.20 154.57,430.61 152.79,430.20 151.02,429.54 149.24,429.00 147.46,428.65 145.69,427.94 143.91,427.36 142.13,426.75 140.36,425.92 138.58,425.08 136.80,424.54 135.03,423.74 133.25,423.25 131.47,422.79 129.70,422.33 127.92,421.95 126.14,421.84 124.37,421.59 122.59,421.69 120.81,421.58 119.04,421.52 117.26,421.25 115.48,421.44 113.71,421.47 111.93,421.46 110.15,421.57 108.38,421.85 106.60,422.10 104.82,422.45 103.05,422.72 101.27,423.22 99.49,423.60 97.72,423.96 95.94,424.49 94.16,425.14 92.39,425.75 90.61,426.30 88.83,426.84 87.06,427.72 85.28,428.15 83.50,428.84 81.73,429.54 79.95,430.08 78.17,430.65 76.40,431.50 74.62,432.48 72.84,433.53 71.07,434.64 69.29,436.10 67.51,437.97 65.74,439.93 63.96,442.35 62.18,444.30 60.41,445.90 58.63,446.61 56.85,447.39 55.08,447.81 53.30,448.40" fill="#b4b4b4" stroke="none" fill-opacity="0.55"/>
<polyline points="53.30,448.40 55.08,447.42 56.85,446.43 58.63,445.04 60.41,443.67 62.18,441.94 63.96,439.33 65.74,436.54 67.51,434.12 69.29,432.25 71.07,430.48 72.84,429.00 74.62,427.59 76.40,426.62 78.17,425.76 79.95,424.92 81.73,424.39 83.50,423.54 85.28,422.85 87.06,422.21 88.83,421.58 90.61,420.88 92.39,420.26 94.16,419.57 95.94,418.94 97.72,418.32 99.49,417.75 101.27,417.48 103.05,417.00 104.82,416.60 106.60,416.28 108.38,416.20 110.15,415.72 111.93,415.66 113.71,415.64 115.48,415.61 117.26,415.47 119.04,415.43 120.81,415.66 122.59,415.74 124.37,415.81 126.14,416.08 127.92,416.22 129.70,416.36 131.47,416.85 133.25,417.25 135.03,417.99 136.80,418.47 138.58,419.20 140.36,420.10 142.13,420.74 143.91,421.39 145.69,422.07 147.46,422.66 149.24,423.33 151.02,423.79 152.79,424.39 154.57,424.79 156.35,425.45 158.12,425.80 159.90,426.46" stroke="#9a9a9a" stroke-width="0.7" fill="none" stroke-linejoin="round"/>
<polyline points="53.30,448.40 55.08,447.81 56.85,447.39 58.63,446.61 60.41,445.90 62.18,444.30 63.96,442.35 65.74,439.93 67.51,437.97 69.29,436.10 71.07,434.64 72.84,433.53 74.62,432.48 76.40,431.50 78.17,430.65 79.95,430.08 81.73,429.54 83.50,428.84 85.28,428.15 87.06,427.72 88.83,426.84 90.61,426.30 92.39,425.75 94.16,425.14 95.94,424.49 97.72,423.96 99.49,423.60 101.27,423.22 103.05,422.72 104.82,422.45 106.60,422.10 108.38,421.85 110.15,421.57 111.93,421.46 113.71,421.47 115.48,421.44 117.26,421.25 119.04,421.52 120.81,421.58 122.59,421.69 124.37,421.59 126.14,421.84 127.92,421.95 129.70,422.33 131.47,422.79 133.25,423.25 135.03,423.74 136.80,424.54 138.58,425.08 140.36,425.92 142.13,426.75 143.91,427.36 145.69,427.94 147.46,428.65 149.24,429.00 151.02,429.54 152.79,430.20 154.57,430.61 156.35,431.20 158.12,431.78 159.90,432.43" stroke="#9a9a9a" stroke-width="0.7" fill="none" stroke-linejoin="round"/>
<polygon points="53.30,448.27 55.08,447.14 56.85,446.12 58.63,444.98 60.41,443.94 62.18,442.67 63.96,441.50 65.74,440.57 67.51,439.64 69.29,438.71 71.07,437.91 72.84,437.41 74.62,436.75 76.40,436.06 78.17,435.69 79.95,434.96 81.73,434.64 83.50,434.07 85.28,433.82 87.06,433.61 88.83,433.40 90.61,433.13 92.39,432.86 94.16,432.50 95.94,432.29 97.72,432.16 99.49,432.10 101.27,431.85 103.05,431.71 104.82,431.71 106.60,431.71 108.38,431.54 110.15,431.57 111.93,431.56 113.71,431.50 115.48,431.61 117.26,431.38 119.04,431.59 120.81,431.43 122.59,431.51 124.37,431.74 126.14,431.51 127.92,431.58 129.70,431.71 131.47,431.67 133.25,431.87 135.03,432.10 136.80,432.19 138.58,432.31 140.36,432.37 142.13,432.62 143.91,433.07 145.69,433.20 147.46,433.41 149.24,433.44 151.02,433.44 152.79,433.42 154.57,433.47 156.35,433.29 158.12,433.39 159.90,433.19 159.90,438.08 158.12,438.21 156.35,438.33 154.57,438.28 152.79,438.18 151.02,438.33 149.24,438.39 147.46,438.16 145.69,438.05 143.91,437.80 142.13,437.57 140.36,437.35 138.58,437.27 136.80,437.07 135.03,436.87 133.25,436.76 131.47,436.77 129.70,436.62 127.92,436.70 126.14,436.63 124.37,436.63 122.59,436.51 120.81,436.50 119.04,436.38 117.26,436.46 115.48,436.32 113.71,436.32 111.93,436.30 110.15,436.22 108.38,436.27 106.60,436.31 104.82,436.59 103.05,436.45 101.27,436.65 99.49,436.86 97.72,436.85 95.94,437.03 94.16,437.31 92.39,437.42 90.61,437.40 88.83,437.57 87.06,437.98 85.28,438.23 83.50,438.49 81.73,438.81 79.95,438.96 78.17,439.50 76.40,439.93 74.62,440.42 72.84,440.82 71.07,441.18 69.29,441.82 67.51,442.31 65.74,443.14 63.96,443.86 62.18,444.67 60.41,445.37 58.63,446.10 56.85,446.75 55.08,447.63 53.30,448.40" fill="#a8dfe3" stroke="none" fill-opacity="0.55"/>
<polyline points="53.30,448.27 55.08,447.14 56.85,446.12 58.63,444.98 60.41,443.94 62.18,442.67 63.96,441.50 65.74,440.57 67.51,439.64 69.29,438.71 71.07,437.91 72.84,437.41 74.62,436.75 76.40,436.06 78.17,435.69 79.95,434.96 81.73,434.64 83.50,434.07 85.28,433.82 87.06,433.61 88.83,433.40 90.61,433.13 92.39,432.86 94.16,432.50 95.94,432.29 97.72,432.16 99.49,432.10 101.27,431.85 103.05,431.71 104.82,431.71 106.60,431.71 108.38,431.54 110.15,431.57 111.93,431.56 113.71,431.50 115.48,431.61 117.26,431.38 119.04,431.59 120.81,431.43 122.59,431.51 124.37,431.74 126.14,431.51 127.92,431.58 129.70,431.71 131.47,431.67 133.25,431.87 135.03,432.10 136.80,432.19 138.58,432.31 140.36,432.37 142.13,432.62 143.91,433.07 145.69,433.20 147.46,433.41 149.24,433.44 151.02,433.44 152.79,433.42 154.57,433.47 156.35,433.29 158.12,433.39 159.90,433.19" stroke="#7fcdd3" stroke-width="0.7" fill="none" stroke-linejoin="round"/>
<polyline points="53.30,448.40 55.08,447.63 56.85,446.75 58.63,446.10 60.41,445.37 62.18,444.67 63.96,443.86 65.74,443.14 67.51,442.31 69.29,441.82 71.07,441.18 72.84,440.82 74.62,440.42 76.40,439.93 78.17,439.50 79.95,438.96 81.73,438.81 83.50,438.49 85.28,438.23 87.06,437.98 88.83,437.57 90.61,437.40 92.39,437.42 94.16,437.31 95.94,437.03 97.72,436.85 99.49,436.86 101.27,436.65 103.05,436.45 104.82,436.59 106.60,436.31 108.38,436.27 110.15,436.22 111.93,436.30 113.71,436.32 115.48,436.32 117.26,436.46 119.04,436.38 120.81,436.50 122.59,436.51 124.37,436.63 126.14,436.63 127.92,436.70 129.70,436.62 131.47,436.77 133.25,436.76 135.03,436.87 136.80,437.07 138.58,437.27 140.36,437.35 142.13,437.57 143.91,437.80 145.69,438.05 147.46,438.16 149.24,438.39 151.02,438.33 152.79,438.18 154.57,438.28 156.35,438.33 158.12,438.21 159.90,438.08" stroke="#7fcdd3" stroke-width="0.7" fill="none" stroke-linejoin="round"/>
<polyline points="53.30,448.40 55.08,447.30 56.85,446.39 58.63,445.25 60.41,443.47 62.18,440.59 63.96,436.50 65.74,431.92 67.51,427.59 69.29,424.11 71.07,421.03 72.84,418.30 74.62,416.00 76.40,414.16 78.17,412.67 79.95,411.42 81.73,410.34 83.50,409.35 85.28,408.38 87.06,407.36 88.83,406.33 90.61,405.35 92.39,404.39 94.16,403.47 95.94,402.56 97.72,401.65 99.49,400.74 101.27,399.84 103.05,398.94 104.82,398.06 106.60,397.19 108.38,396.34 110.15,395.52 111.93,394.71 113.71,393.90 115.48,393.09 117.26,392.31 119.04,391.57 120.81,390.87 122.59,390.25 124.37,389.69 126.14,389.22 127.92,388.91 129.70,388.84 131.47,389.09 133.25,389.90 135.03,391.15 136.80,392.58 138.58,394.18 140.36,395.94 142.13,397.73 143.91,399.43 145.69,400.92 147.46,402.20 149.24,403.41 151.02,404.54 152.79,405.63 154.57,406.70 156.35,407.75 158.12,408.82 159.90,409.93" stroke="#a6a33a" stroke-width="1.0" fill="none" stroke-linejoin="round"/>
<polyline points="53.30,448.40 55.08,448.40 56.85,448.40 58.63,448.40 60.41,448.40 62.18,448.31 63.96,448.04 65.74,447.64 67.51,447.03 69.29,446.10 71.07,444.71 72.84,442.79 74.62,440.59 76.40,438.42 78.17,436.52 79.95,434.70 81.73,432.93 83.50,431.23 85.28,429.67 87.06,428.27 88.83,427.04 90.61,425.93 92.39,424.91 94.16,423.96 95.94,423.03 97.72,422.10 99.49,421.16 101.27,420.24 103.05,419.35 104.82,418.47 106.60,417.61 108.38,416.78 110.15,415.97 111.93,415.18 113.71,414.40 115.48,413.64 117.26,412.91 119.04,412.21 120.81,411.55 122.59,410.94 124.37,410.39 126.14,409.90 127.92,409.45 129.70,409.04 131.47,408.67 133.25,408.33 135.03,408.01 136.80,407.70 138.58,407.38 140.36,407.07 142.13,406.79 143.91,406.59 145.69,406.48 147.46,406.52 149.24,406.70 151.02,407.01 152.79,407.40 154.57,407.85 156.35,408.32 158.12,408.78 159.90,409.20" stroke="#a845a8" stroke-width="1.0" fill="none" stroke-linejoin="round"/>
<polyline points="53.30,448.40 55.08,447.55 56.85,446.79 58.63,445.93 60.41,444.76 62.18,443.08 63.96,440.81 65.74,438.32 67.51,435.99 69.29,434.14 71.07,432.57 72.84,431.21 74.62,430.04 76.40,429.06 78.17,428.22 79.95,427.49 81.73,426.83 83.50,426.21 85.28,425.59 87.06,424.94 88.83,424.26 90.61,423.56 92.39,422.88 94.16,422.24 95.94,421.65 97.72,421.13 99.49,420.67 101.27,420.24 103.05,419.86 104.82,419.51 106.60,419.20 108.38,418.94 110.15,418.74 111.93,418.58 113.71,418.49 115.48,418.44 117.26,418.44 119.04,418.47 120.81,418.54 122.59,418.64 124.37,418.76 126.14,418.92 127.92,419.14 129.70,419.43 131.47,419.80 133.25,420.28 135.03,420.86 136.80,421.52 138.58,422.23 140.36,422.96 142.13,423.68 143.91,424.38 145.69,425.02 147.46,425.62 149.24,426.19 151.02,426.74 152.79,427.27 154.57,427.80 156.35,428.33 158.12,428.87 159.90,429.41" stroke="#3a3a3a" stroke-width="1.0" fill="none" stroke-linejoin="round"/>
<polyline points="53.30,448.40 55.08,447.44 56.85,446.47 58.63,445.50 60.41,444.56 62.18,443.63 63.96,442.70 65.74,441.80 67.51,440.98 69.29,440.26 71.07,439.62 72.84,439.03 74.62,438.49 76.40,437.98 78.17,437.51 79.95,437.07 81.73,436.65 83.50,436.28 85.28,435.97 87.06,435.71 88.83,435.48 90.61,435.27 92.39,435.06 94.16,434.88 95.94,434.70 97.72,434.54 99.49,434.39 101.27,434.26 103.05,434.15 104.82,434.05 106.60,433.98 108.38,433.93 110.15,433.90 111.93,433.88 113.71,433.89 115.48,433.90 117.26,433.93 119.04,433.96 120.81,433.99 122.59,434.02 124.37,434.05 126.14,434.08 127.92,434.12 129.70,434.17 131.47,434.24 133.25,434.32 135.03,434.42 136.80,434.54 138.58,434.71 140.36,434.93 142.13,435.17 143.91,435.40 145.69,435.60 147.46,435.74 149.24,435.81 151.02,435.83 152.79,435.83 154.57,435.81 156.35,435.78 158.12,435.75 159.90,435.74" stroke="#2fb3bb" stroke-width="1.0" fill="none" stroke-linejoin="round"/>
<line x1="53.50" y1="341.00" x2="53.50" y2="448.40" stroke="#9a9a9a" stroke-width="1.1"/>
<line x1="53.50" y1="448.40" x2="159.90" y2="448.40" stroke="#9a9a9a" stroke-width="1.1"/>
<line x1="53.30" y1="448.40" x2="55.30" y2="448.40" stroke="#9a9a9a" stroke-width="0.8"/>
<text x="50.10" y="451.70" font-size="9.3" text-anchor="end" font-weight="normal" fill="#333333">0</text>
<line x1="53.30" y1="424.05" x2="55.30" y2="424.05" stroke="#9a9a9a" stroke-width="0.8"/>
<text x="50.10" y="427.35" font-size="9.3" text-anchor="end" font-weight="normal" fill="#333333">5</text>
<line x1="53.30" y1="399.70" x2="55.30" y2="399.70" stroke="#9a9a9a" stroke-width="0.8"/>
<text x="50.10" y="403.00" font-size="9.3" text-anchor="end" font-weight="normal" fill="#333333">10</text>
<line x1="53.30" y1="375.35" x2="55.30" y2="375.35" stroke="#9a9a9a" stroke-width="0.8"/>
<text x="50.10" y="378.65" font-size="9.3" text-anchor="end" font-weight="normal" fill="#333333">15</text>
<line x1="53.30" y1="351.00" x2="55.30" y2="351.00" stroke="#9a9a9a" stroke-width="0.8"/>
<text x="50.10" y="354.30" font-size="9.3" text-anchor="end" font-weight="normal" fill="#333333">20</text>
<line x1="53.30" y1="448.40" x2="53.30" y2="446.40" stroke="#9a9a9a" stroke-width="0.8"/>
<text x="53.30" y="460.00" font-size="9.3" text-anchor="middle" font-weight="normal" fill="#333333">0</text>
<line x1="106.60" y1="448.40" x2="106.60" y2="446.40" stroke="#9a9a9a" stroke-width="0.8"/>
<text x="106.60" y="460.00" font-size="9.3" text-anchor="middle" font-weight="normal" fill="#333333">240</text>
<line x1="159.90" y1="448.40" x2="159.90" y2="446.40" stroke="#9a9a9a" stroke-width="0.8"/>
<text x="159.90" y="460.00" font-size="9.3" text-anchor="middle" font-weight="normal" fill="#333333">480</text>
<text x="114.10" y="470.40" font-size="9.2" text-anchor="middle" font-weight="normal" fill="#333333">Current (pA)</text>
<text x="33.60" y="399.70" font-size="9" text-anchor="middle" font-weight="normal" fill="#333333" transform="rotate(-90 33.60 399.70)">Spike Count</text>
<text x="97.00" y="326.20" font-size="11.5" text-anchor="middle" font-weight="normal" fill="#222">From −60 mV</text>
<rect x="66.10" y="335.80" width="4.90" height="2" fill="#8c8c8c"/>
<rect x="66.10" y="337.80" width="4.90" height="2" fill="#d486d0"/>
<rect x="75.30" y="342.40" width="1.60" height="2" fill="#8c8c8c"/>
<rect x="75.30" y="344.40" width="1.60" height="2" fill="#86d4da"/>
<rect x="93.00" y="342.40" width="44.90" height="2" fill="#8c8c8c"/>
<rect x="93.00" y="344.40" width="44.90" height="2" fill="#86d4da"/>
<rect x="110.90" y="349.20" width="49.00" height="2" fill="#d486d0"/>
<rect x="110.90" y="351.20" width="49.00" height="2" fill="#86d4da"/>
<rect x="66.10" y="356.40" width="9.20" height="2" fill="#d486d0"/>
<rect x="66.10" y="358.40" width="9.20" height="2" fill="#d6d68a"/>
<rect x="70.70" y="363.00" width="76.20" height="2" fill="#86d4da"/>
<rect x="70.70" y="365.00" width="76.20" height="2" fill="#d6d68a"/>
<line x1="55.60" y1="189.90" x2="65.90" y2="189.90" stroke="#8f8f8f" stroke-width="1.7"/>
<text x="69.00" y="193.10" font-size="6.9" text-anchor="start" font-weight="normal" fill="#262626">WT+DMSO</text>
<line x1="55.60" y1="201.60" x2="65.90" y2="201.60" stroke="#b45ab4" stroke-width="1.7"/>
<text x="69.00" y="204.80" font-size="6.9" text-anchor="start" font-weight="normal" fill="#262626">WT+AR</text>
<line x1="55.60" y1="213.30" x2="65.90" y2="213.30" stroke="#3fbcc4" stroke-width="1.7"/>
<text x="69.00" y="216.50" font-size="6.9" text-anchor="start" font-weight="normal" fill="#262626">Tau+DMSO</text>
<line x1="55.60" y1="225.00" x2="65.90" y2="225.00" stroke="#b8b660" stroke-width="1.7"/>
<text x="69.00" y="228.20" font-size="6.9" text-anchor="start" font-weight="normal" fill="#262626">Tau+AR</text>
<text x="56.00" y="20.20" font-size="11.4" text-anchor="middle" font-weight="normal" fill="#2a2a2a">WT+DMSO</text>
<text x="154.20" y="20.20" font-size="11.4" text-anchor="middle" font-weight="normal" fill="#2a2a2a">WT+AR</text>
<text x="260.20" y="20.20" font-size="11.4" text-anchor="middle" font-weight="normal" fill="#2a2a2a">Tau+DMSO</text>
<text x="368.20" y="20.20" font-size="11.4" text-anchor="middle" font-weight="normal" fill="#2a2a2a">Tau+AR</text>
<polyline points="8.60,85.80 21.60,85.80 22.30,75.34 23.00,70.98 23.15,31.00 23.45,78.98 23.98,77.28 24.51,75.79 25.03,74.49 25.56,73.39 26.09,72.49 26.62,71.80 27.14,71.30 27.67,71.00 28.20,70.90 28.35,31.00 28.65,78.90 29.15,77.36 29.66,75.99 30.16,74.78 30.67,73.72 31.18,72.84 31.68,72.11 32.19,71.54 32.69,71.14 33.20,70.90 33.70,70.81 33.85,36.00 34.15,78.81 34.67,77.77 35.18,76.79 35.70,75.89 36.22,75.06 36.73,74.30 37.25,73.61 37.77,73.00 38.28,72.46 38.80,71.99 39.32,71.59 39.83,71.27 40.35,71.01 40.87,70.83 41.38,70.72 41.90,70.69 42.05,28.00 42.35,78.69 42.87,77.64 43.38,76.67 43.90,75.76 44.42,74.93 44.93,74.17 45.45,73.49 45.97,72.87 46.48,72.33 47.00,71.86 47.52,71.47 48.03,71.14 48.55,70.89 49.07,70.71 49.58,70.60 50.10,70.56 50.25,35.00 50.55,78.56 51.07,77.58 51.59,76.66 52.12,75.80 52.64,75.00 53.16,74.27 53.68,73.61 54.20,73.00 54.73,72.46 55.25,71.98 55.77,71.57 56.29,71.22 56.81,70.94 57.33,70.71 57.86,70.56 58.38,70.46 58.90,70.43 59.05,31.00 59.35,78.43 59.86,77.50 60.38,76.63 60.89,75.81 61.41,75.05 61.92,74.34 62.44,73.70 62.95,73.10 63.47,72.57 63.98,72.09 64.50,71.67 65.01,71.30 65.53,70.99 66.04,70.74 66.56,70.54 67.07,70.40 67.59,70.31 68.10,70.29 68.25,29.00 68.55,78.29 69.06,77.30 69.57,76.38 70.08,75.52 70.59,74.73 71.10,74.00 71.61,73.33 72.12,72.73 72.62,72.19 73.13,71.71 73.64,71.30 74.15,70.95 74.66,70.66 75.17,70.44 75.68,70.28 76.19,70.19 76.70,70.15 76.85,38.00 77.15,78.15 77.66,76.93 78.17,75.84 78.67,74.87 79.18,74.01 79.69,73.26 80.20,72.61 80.71,72.05 81.21,71.58 81.72,71.19 82.23,70.87 82.74,70.61 83.24,70.41 83.75,70.26 84.26,70.15 84.77,70.08 85.28,70.03 85.78,70.01 86.29,70.00 86.80,70.00 87.30,75.04 87.80,78.48 88.30,80.82 88.80,82.41 89.30,83.49 89.80,84.23 90.30,84.73 90.80,85.07 91.30,85.30 91.80,85.46 92.30,85.57 92.80,85.64 93.30,85.69 93.80,85.73 94.30,85.75 94.80,85.77 95.30,85.78 95.80,85.78 96.30,85.79 96.80,85.79 97.30,85.80 97.80,85.80 98.30,85.80 98.80,85.80 99.30,85.80" stroke="#b4b4b4" stroke-width="0.8" fill="none" stroke-linejoin="round"/>
<polyline points="8.60,85.80 21.60,85.80 22.25,76.23 22.90,71.98 23.05,30.00 23.35,78.98 23.91,75.90 24.48,73.70 25.04,72.38 25.60,71.94 25.75,32.00 26.05,78.94 26.55,77.59 27.06,76.39 27.57,75.33 28.07,74.40 28.58,73.63 29.08,72.99 29.59,72.49 30.09,72.14 30.59,71.93 31.10,71.85 31.25,35.00 31.55,78.85 32.08,77.51 32.60,76.30 33.12,75.24 33.65,74.32 34.17,73.54 34.70,72.90 35.22,72.40 35.75,72.05 36.27,71.84 36.80,71.77 36.95,32.00 37.25,78.77 37.76,78.03 38.28,77.34 38.79,76.69 39.30,76.07 39.82,75.50 40.33,74.96 40.84,74.47 41.36,74.01 41.87,73.59 42.38,73.22 42.89,72.88 43.41,72.58 43.92,72.32 44.43,72.11 44.95,71.93 45.46,71.79 45.97,71.69 46.49,71.63 47.00,71.61 47.15,30.00 47.45,78.61 47.96,77.48 48.48,76.44 48.99,75.50 49.50,74.67 50.01,73.93 50.53,73.28 51.04,72.74 51.55,72.30 52.06,71.95 52.58,71.71 53.09,71.56 53.60,71.51 53.75,33.00 54.05,78.51 54.57,77.53 55.09,76.62 55.60,75.79 56.12,75.02 56.64,74.33 57.16,73.72 57.67,73.17 58.19,72.70 58.71,72.30 59.23,71.97 59.75,71.72 60.26,71.54 60.78,71.43 61.30,71.39 61.45,34.00 61.75,78.39 62.27,77.78 62.78,77.20 63.30,76.64 63.81,76.11 64.33,75.61 64.84,75.13 65.36,74.68 65.87,74.26 66.39,73.87 66.90,73.50 67.42,73.16 67.93,72.85 68.45,72.56 68.96,72.30 69.48,72.07 69.99,71.87 70.51,71.69 71.02,71.54 71.54,71.42 72.05,71.32 72.57,71.26 73.08,71.22 73.60,71.20 73.75,36.00 74.05,78.20 74.57,77.28 75.08,76.43 75.60,75.64 76.12,74.91 76.63,74.24 77.15,73.64 77.67,73.10 78.18,72.63 78.70,72.22 79.22,71.87 79.73,71.58 80.25,71.36 80.77,71.20 81.28,71.11 81.80,71.08 81.95,35.00 82.25,78.08 82.76,75.97 83.26,74.33 83.77,73.10 84.27,72.21 84.78,71.62 85.28,71.26 85.79,71.08 86.29,71.01 86.80,71.00 87.30,75.73 87.80,78.94 88.30,81.13 88.80,82.62 89.30,83.64 89.80,84.33 90.30,84.80 90.80,85.12 91.30,85.34 91.80,85.48 92.30,85.58 92.80,85.65 93.30,85.70 93.80,85.73 94.30,85.75 94.80,85.77 95.30,85.78 95.80,85.79 96.30,85.79 96.80,85.79 97.30,85.80 97.80,85.80 98.30,85.80 98.80,85.80 99.30,85.80" stroke="#c4c4c4" stroke-width="0.8" fill="none" stroke-linejoin="round"/>
<polyline points="8.60,85.80 21.60,85.80 22.18,80.47 22.76,77.88 23.34,76.63 23.92,76.03 24.50,75.73 24.65,33.00 24.95,82.73 25.45,82.15 25.95,81.59 26.46,81.04 26.96,80.52 27.46,80.02 27.96,79.54 28.46,79.09 28.96,78.65 29.47,78.24 29.97,77.84 30.47,77.47 30.97,77.12 31.47,76.79 31.98,76.48 32.48,76.20 32.98,75.93 33.48,75.69 33.98,75.46 34.48,75.26 34.99,75.08 35.49,74.92 35.99,74.78 36.49,74.66 36.99,74.57 37.49,74.49 38.00,74.44 38.50,74.41 39.00,74.40 39.15,30.00 39.45,81.40 39.95,80.89 40.45,80.39 40.95,79.91 41.46,79.45 41.96,79.00 42.46,78.57 42.96,78.15 43.46,77.75 43.96,77.36 44.47,76.99 44.97,76.64 45.47,76.30 45.97,75.98 46.47,75.67 46.97,75.38 47.47,75.11 47.98,74.85 48.48,74.60 48.98,74.38 49.48,74.16 49.98,73.97 50.48,73.79 50.98,73.62 51.49,73.47 51.99,73.34 52.49,73.22 52.99,73.12 53.49,73.03 53.99,72.96 54.50,72.91 55.00,72.87 55.50,72.84 56.00,72.83 56.15,32.00 56.45,79.83 56.95,79.02 57.46,78.25 57.96,77.53 58.46,76.85 58.96,76.21 59.47,75.62 59.97,75.07 60.47,74.57 60.97,74.11 61.48,73.69 61.98,73.32 62.48,72.99 62.98,72.70 63.49,72.46 63.99,72.27 64.49,72.11 64.99,72.00 65.50,71.94 66.00,71.91 66.15,34.00 66.45,78.91 66.95,78.29 67.45,77.69 67.96,77.12 68.46,76.57 68.96,76.05 69.46,75.55 69.96,75.07 70.47,74.62 70.97,74.20 71.47,73.79 71.97,73.42 72.47,73.06 72.98,72.73 73.48,72.43 73.98,72.15 74.48,71.89 74.98,71.66 75.48,71.45 75.99,71.27 76.49,71.11 76.99,70.98 77.49,70.87 77.99,70.78 78.50,70.72 79.00,70.68 79.50,70.67 79.65,37.00 79.95,77.67 80.48,76.03 81.00,74.65 81.53,73.49 82.06,72.55 82.58,71.79 83.11,71.20 83.64,70.75 84.17,70.44 84.69,70.22 85.22,70.09 85.75,70.03 86.27,70.00 86.80,70.00 87.30,75.04 87.80,78.48 88.30,80.82 88.80,82.41 89.30,83.49 89.80,84.23 90.30,84.73 90.80,85.07 91.30,85.30 91.80,85.46 92.30,85.57 92.80,85.64 93.30,85.69 93.80,85.73 94.30,85.75 94.80,85.77 95.30,85.78 95.80,85.78 96.30,85.79 96.80,85.79 97.30,85.80 97.80,85.80 98.30,85.80 98.80,85.80 99.30,85.80" stroke="#a4a4a4" stroke-width="0.8" fill="none" stroke-linejoin="round"/>
<polyline points="8.60,85.80 21.60,85.80 22.10,83.48 22.60,81.96 23.10,80.95 23.60,80.28 24.10,79.85 24.60,79.56 25.10,79.37 25.60,79.24 26.10,79.16 26.60,79.11 27.10,79.07 27.60,79.05 28.10,79.03 28.60,79.02 29.10,79.01 29.60,79.01 30.10,79.01 30.60,79.00 31.10,79.00 31.60,79.00 32.10,79.00 32.60,79.00 33.10,79.00 33.60,79.00 34.10,79.00 34.60,79.00 35.10,79.00 35.60,79.00 36.10,79.00 36.60,79.00 37.10,79.00 37.60,79.00 38.10,79.00 38.60,79.00 39.10,79.00 39.60,79.00 40.10,79.00 40.60,79.00 41.10,79.00 41.60,79.00 42.10,79.00 42.60,79.00 43.10,79.00 43.60,79.00 44.10,79.00 44.60,79.00 45.10,79.00 45.60,79.00 46.10,79.00 46.60,79.00 47.10,79.00 47.60,79.00 48.10,79.00 48.60,79.00 49.10,79.00 49.60,79.00 50.10,79.00 50.60,79.00 51.10,79.00 51.60,79.00 52.10,79.00 52.60,79.00 53.10,79.00 53.60,79.00 54.10,79.00 54.60,79.00 55.10,79.00 55.60,79.00 56.10,79.00 56.60,79.00 57.10,79.00 57.60,79.00 58.10,79.00 58.60,79.00 59.10,79.00 59.60,79.00 60.10,79.00 60.60,79.00 61.10,79.00 61.60,79.00 62.10,79.00 62.60,79.00 63.10,79.00 63.60,79.00 64.10,79.00 64.60,79.00 65.10,79.00 65.60,79.00 66.10,79.00 66.60,79.00 67.10,79.00 67.60,79.00 68.10,79.00 68.60,79.00 69.10,79.00 69.60,79.00 70.10,79.00 70.60,79.00 71.10,79.00 71.60,79.00 72.10,79.00 72.60,79.00 73.10,79.00 73.60,79.00 74.10,79.00 74.60,79.00 75.10,79.00 75.60,79.00 76.10,79.00 76.60,79.00 77.10,79.00 77.60,79.00 78.10,79.00 78.60,79.00 79.10,79.00 79.60,79.00 80.10,79.00 80.60,79.00 81.10,79.00 81.60,79.00 82.10,79.00 82.60,79.00 83.10,79.00 83.60,79.00 84.10,79.00 84.60,79.00 85.10,79.00 85.60,79.00 86.10,79.00 86.60,79.00 87.30,81.17 87.80,82.65 88.30,83.66 88.80,84.34 89.30,84.81 89.80,85.12 90.30,85.34 90.80,85.49 91.30,85.59 91.80,85.65 92.30,85.70 92.80,85.73 93.30,85.75 93.80,85.77 94.30,85.78 94.80,85.79 95.30,85.79 95.80,85.79 96.30,85.80 96.80,85.80 97.30,85.80 97.80,85.80 98.30,85.80 98.80,85.80 99.30,85.80" stroke="#b4b4b4" stroke-width="0.8" fill="none" stroke-linejoin="round"/>
<polyline points="8.60,85.80 21.60,85.80 22.10,86.13 22.60,86.39 23.10,86.61 23.60,86.79 24.10,86.94 24.60,87.06 25.10,87.16 25.60,87.24 26.10,87.30 26.60,87.36 27.10,87.40 27.60,87.44 28.10,87.47 28.60,87.49 29.10,87.51 29.60,87.53 30.10,87.54 30.60,87.55 31.10,87.56 31.60,87.57 32.10,87.57 32.60,87.58 33.10,87.58 33.60,87.59 34.10,87.59 34.60,87.59 35.10,87.59 35.60,87.59 36.10,87.59 36.60,87.60 37.10,87.60 37.60,87.60 38.10,87.60 38.60,87.60 39.10,87.60 39.60,87.60 40.10,87.60 40.60,87.60 41.10,87.60 41.60,87.60 42.10,87.60 42.60,87.60 43.10,87.60 43.60,87.60 44.10,87.60 44.60,87.60 45.10,87.60 45.60,87.60 46.10,87.60 46.60,87.60 47.10,87.60 47.60,87.60 48.10,87.60 48.60,87.60 49.10,87.60 49.60,87.60 50.10,87.60 50.60,87.60 51.10,87.60 51.60,87.60 52.10,87.60 52.60,87.60 53.10,87.60 53.60,87.60 54.10,87.60 54.60,87.60 55.10,87.60 55.60,87.60 56.10,87.60 56.60,87.60 57.10,87.60 57.60,87.60 58.10,87.60 58.60,87.60 59.10,87.60 59.60,87.60 60.10,87.60 60.60,87.60 61.10,87.60 61.60,87.60 62.10,87.60 62.60,87.60 63.10,87.60 63.60,87.60 64.10,87.60 64.60,87.60 65.10,87.60 65.60,87.60 66.10,87.60 66.60,87.60 67.10,87.60 67.60,87.60 68.10,87.60 68.60,87.60 69.10,87.60 69.60,87.60 70.10,87.60 70.60,87.60 71.10,87.60 71.60,87.60 72.10,87.60 72.60,87.60 73.10,87.60 73.60,87.60 74.10,87.60 74.60,87.60 75.10,87.60 75.60,87.60 76.10,87.60 76.60,87.60 77.10,87.60 77.60,87.60 78.10,87.60 78.60,87.60 79.10,87.60 79.60,87.60 80.10,87.60 80.60,87.60 81.10,87.60 81.60,87.60 82.10,87.60 82.60,87.60 83.10,87.60 83.60,87.60 84.10,87.60 84.60,87.60 85.10,87.60 85.60,87.60 86.10,87.60 86.60,87.60 87.30,87.27 87.80,87.01 88.30,86.79 88.80,86.61 89.30,86.46 89.80,86.34 90.30,86.24 90.80,86.16 91.30,86.10 91.80,86.04 92.30,86.00 92.80,85.96 93.30,85.93 93.80,85.91 94.30,85.89 94.80,85.87 95.30,85.86 95.80,85.85 96.30,85.84 96.80,85.83 97.30,85.83 97.80,85.82 98.30,85.82 98.80,85.81 99.30,85.81" stroke="#4a4a4a" stroke-width="0.9" fill="none" stroke-linejoin="round"/>
<polyline points="8.60,85.80 21.60,85.80 22.10,87.35 22.60,88.66 23.10,89.77 23.60,90.70 24.10,91.49 24.60,92.16 25.10,92.72 25.60,93.19 26.10,93.59 26.60,93.93 27.10,94.21 27.60,94.45 28.10,94.64 28.60,94.81 29.10,94.95 29.60,95.07 30.10,95.16 30.60,95.25 31.10,95.31 31.60,95.37 32.10,95.41 32.60,95.45 33.10,95.48 33.60,95.50 34.10,95.52 34.60,95.54 35.10,95.55 35.60,95.55 36.10,95.56 36.60,95.56 37.10,95.56 37.60,95.57 38.10,95.56 38.60,95.56 39.10,95.56 39.60,95.56 40.10,95.55 40.60,95.55 41.10,95.54 41.60,95.54 42.10,95.53 42.60,95.53 43.10,95.52 43.60,95.52 44.10,95.51 44.60,95.50 45.10,95.50 45.60,95.49 46.10,95.49 46.60,95.48 47.10,95.48 47.60,95.47 48.10,95.47 48.60,95.46 49.10,95.45 49.60,95.45 50.10,95.44 50.60,95.44 51.10,95.43 51.60,95.43 52.10,95.42 52.60,95.42 53.10,95.42 53.60,95.41 54.10,95.41 54.60,95.40 55.10,95.40 55.60,95.39 56.10,95.39 56.60,95.39 57.10,95.38 57.60,95.38 58.10,95.37 58.60,95.37 59.10,95.37 59.60,95.36 60.10,95.36 60.60,95.36 61.10,95.35 61.60,95.35 62.10,95.35 62.60,95.34 63.10,95.34 63.60,95.34 64.10,95.33 64.60,95.33 65.10,95.33 65.60,95.32 66.10,95.32 66.60,95.32 67.10,95.32 67.60,95.31 68.10,95.31 68.60,95.31 69.10,95.31 69.60,95.30 70.10,95.30 70.60,95.30 71.10,95.30 71.60,95.29 72.10,95.29 72.60,95.29 73.10,95.29 73.60,95.29 74.10,95.28 74.60,95.28 75.10,95.28 75.60,95.28 76.10,95.28 76.60,95.27 77.10,95.27 77.60,95.27 78.10,95.27 78.60,95.27 79.10,95.27 79.60,95.26 80.10,95.26 80.60,95.26 81.10,95.26 81.60,95.26 82.10,95.26 82.60,95.26 83.10,95.25 83.60,95.25 84.10,95.25 84.60,95.25 85.10,95.25 85.60,95.25 86.10,95.25 86.60,95.24 87.30,93.20 87.80,91.67 88.30,90.48 88.80,89.55 89.30,88.81 89.80,88.22 90.30,87.75 90.80,87.37 91.30,87.06 91.80,86.81 92.30,86.61 92.80,86.45 93.30,86.32 93.80,86.21 94.30,86.13 94.80,86.06 95.30,86.00 95.80,85.96 96.30,85.92 96.80,85.90 97.30,85.87 97.80,85.86 98.30,85.84 98.80,85.83 99.30,85.82" stroke="#2a2a2a" stroke-width="1.1" fill="none" stroke-linejoin="round"/>
<line x1="8.60" y1="85.80" x2="21.60" y2="85.80" stroke="#909090" stroke-width="1.5"/>
<line x1="92.80" y1="85.80" x2="99.50" y2="85.80" stroke="#909090" stroke-width="1.4"/>
<polyline points="108.60,86.30 121.50,86.30 121.80,75.82 122.10,69.00 122.25,31.84 122.55,78.00 123.06,76.91 123.57,75.89 124.08,74.94 124.59,74.06 125.10,73.25 125.61,72.52 126.12,71.85 126.62,71.25 127.13,70.72 127.64,70.27 128.15,69.88 128.66,69.56 129.17,69.32 129.68,69.14 130.19,69.04 130.70,69.00 130.85,30.02 131.15,78.00 131.67,76.11 132.18,74.44 132.70,73.00 133.22,71.78 133.73,70.78 134.25,70.00 134.77,69.44 135.28,69.11 135.80,69.00 135.95,29.94 136.25,78.00 136.80,75.61 137.35,73.59 137.90,71.94 138.45,70.65 139.00,69.73 139.55,69.18 140.10,69.00 140.25,29.77 140.55,78.00 141.09,76.11 141.63,74.44 142.17,73.00 142.71,71.78 143.24,70.78 143.78,70.00 144.32,69.44 144.86,69.11 145.40,69.00 145.55,30.00 145.85,78.00 146.39,76.11 146.93,74.44 147.47,73.00 148.01,71.78 148.54,70.78 149.08,70.00 149.62,69.44 150.16,69.11 150.70,69.00 150.85,30.65 151.15,78.00 151.71,75.89 152.26,74.06 152.82,72.52 153.38,71.25 153.93,70.27 154.49,69.56 155.04,69.14 155.60,69.00 155.75,31.62 156.05,78.00 156.59,76.11 157.13,74.44 157.67,73.00 158.21,71.78 158.74,70.78 159.28,70.00 159.82,69.44 160.36,69.11 160.90,69.00 161.05,28.59 161.35,78.00 161.87,76.29 162.38,74.76 162.89,73.41 163.41,72.24 163.93,71.25 164.44,70.44 164.95,69.81 165.47,69.36 165.99,69.09 166.50,69.00 166.65,29.20 166.95,78.00 167.46,76.44 167.98,75.02 168.49,73.76 169.00,72.64 169.52,71.68 170.03,70.86 170.55,70.19 171.06,69.67 171.57,69.30 172.09,69.07 172.60,69.00 172.75,29.39 173.05,78.00 173.56,76.44 174.08,75.02 174.59,73.76 175.10,72.64 175.62,71.68 176.13,70.86 176.65,70.19 177.16,69.67 177.67,69.30 178.19,69.07 178.70,69.00 178.85,30.98 179.15,78.00 179.67,76.11 180.18,74.44 180.70,73.00 181.22,71.78 181.73,70.78 182.25,70.00 182.77,69.44 183.28,69.11 183.80,69.00 183.95,31.54 184.25,78.00 184.80,73.61 185.35,70.94 185.90,69.58 186.45,69.07 187.00,69.00 187.50,74.52 188.00,78.28 188.50,80.84 189.00,82.59 189.50,83.77 190.00,84.58 190.50,85.13 191.00,85.50 191.50,85.76 192.00,85.93 192.50,86.05 193.00,86.13 193.50,86.18 194.00,86.22 194.50,86.25 195.00,86.26 195.50,86.27 196.00,86.28 196.50,86.29 197.00,86.29 197.50,86.29 198.00,86.30 198.50,86.30 199.00,86.30 199.50,86.30 200.00,86.30" stroke="#b43aa8" stroke-width="0.9" fill="none" stroke-linejoin="round"/>
<polyline points="108.60,86.30 121.50,86.30 122.00,77.98 122.50,73.91 123.00,71.91 123.50,70.94 123.65,29.35 123.95,78.94 124.47,77.23 124.98,75.72 125.50,74.41 126.02,73.30 126.53,72.39 127.05,71.69 127.57,71.19 128.08,70.88 128.60,70.78 128.75,29.00 129.05,78.78 129.58,76.87 130.11,75.22 130.64,73.82 131.18,72.68 131.71,71.78 132.24,71.15 132.77,70.77 133.30,70.64 133.45,29.57 133.75,78.64 134.28,76.93 134.81,75.42 135.33,74.11 135.86,73.00 136.39,72.09 136.92,71.39 137.44,70.88 137.97,70.58 138.50,70.48 138.65,31.18 138.95,78.48 139.46,77.59 139.97,76.74 140.47,75.95 140.98,75.20 141.49,74.51 142.00,73.87 142.51,73.28 143.02,72.75 143.52,72.26 144.03,71.83 144.54,71.44 145.05,71.11 145.56,70.83 146.07,70.60 146.57,70.42 147.08,70.29 147.59,70.21 148.10,70.19 148.25,32.46 148.55,78.19 149.05,76.64 149.56,75.25 150.06,74.02 150.57,72.96 151.07,72.06 151.58,71.33 152.08,70.75 152.59,70.35 153.09,70.10 153.60,70.02 153.75,33.86 154.05,78.02 154.56,77.17 155.08,76.36 155.59,75.60 156.10,74.89 156.62,74.22 157.13,73.60 157.64,73.02 158.16,72.49 158.67,72.01 159.18,71.57 159.69,71.18 160.21,70.84 160.72,70.54 161.23,70.28 161.75,70.08 162.26,69.92 162.77,69.80 163.29,69.73 163.80,69.71 163.95,30.85 164.25,77.71 164.78,76.16 165.30,74.77 165.82,73.54 166.35,72.48 166.88,71.58 167.40,70.84 167.93,70.27 168.45,69.86 168.97,69.62 169.50,69.53 169.65,31.12 169.95,77.53 170.47,76.11 171.00,74.83 171.52,73.68 172.04,72.66 172.56,71.78 173.09,71.04 173.61,70.43 174.13,69.95 174.65,69.62 175.18,69.41 175.70,69.35 175.85,33.38 176.15,77.35 176.67,75.79 177.20,74.40 177.72,73.18 178.25,72.11 178.77,71.21 179.30,70.48 179.82,69.91 180.35,69.50 180.88,69.25 181.40,69.17 181.55,32.84 181.85,77.17 182.37,75.02 182.89,73.19 183.41,71.70 183.94,70.54 184.46,69.71 184.98,69.21 185.50,69.05 185.65,33.52 185.95,77.05 186.47,70.01 187.00,69.00 187.50,74.52 188.00,78.28 188.50,80.84 189.00,82.59 189.50,83.77 190.00,84.58 190.50,85.13 191.00,85.50 191.50,85.76 192.00,85.93 192.50,86.05 193.00,86.13 193.50,86.18 194.00,86.22 194.50,86.25 195.00,86.26 195.50,86.27 196.00,86.28 196.50,86.29 197.00,86.29 197.50,86.29 198.00,86.30 198.50,86.30 199.00,86.30 199.50,86.30 200.00,86.30" stroke="#c250b8" stroke-width="0.9" fill="none" stroke-linejoin="round"/>
<polyline points="108.60,86.30 121.50,86.30 122.00,82.25 122.50,79.79 123.00,78.30 123.50,77.39 124.00,76.85 124.50,76.51 125.00,76.31 125.50,76.19 126.00,76.11 126.50,76.07 127.00,76.04 127.50,76.03 128.00,76.02 128.50,76.01 129.00,76.01 129.50,76.00 130.00,76.00 130.50,76.00 131.00,76.00 131.50,76.00 132.00,76.00 132.50,76.00 133.00,76.00 133.50,76.00 134.00,76.00 134.50,76.00 135.00,76.00 135.50,76.00 136.00,76.00 136.50,76.00 137.00,76.00 137.50,76.00 138.00,76.00 138.50,76.00 139.00,76.00 139.50,76.00 140.00,76.00 140.50,76.00 141.00,76.00 141.50,76.00 142.00,76.00 142.50,76.00 143.00,76.00 143.50,76.00 144.00,76.00 144.50,76.00 145.00,76.00 145.50,76.00 146.00,76.00 146.50,76.00 147.00,76.00 147.50,76.00 148.00,76.00 148.50,76.00 149.00,76.00 149.50,76.00 150.00,76.00 150.50,76.00 151.00,76.00 151.50,76.00 152.00,76.00 152.50,76.00 153.00,76.00 153.50,76.00 154.00,76.00 154.50,76.00 155.00,76.00 155.50,76.00 156.00,76.00 156.50,76.00 157.00,76.00 157.50,76.00 158.00,76.00 158.50,76.00 159.00,76.00 159.50,76.00 160.00,76.00 160.50,76.00 161.00,76.00 161.50,76.00 162.00,76.00 162.50,76.00 163.00,76.00 163.50,76.00 164.00,76.00 164.50,76.00 165.00,76.00 165.50,76.00 166.00,76.00 166.50,76.00 167.00,76.00 167.50,76.00 168.00,76.00 168.50,76.00 169.00,76.00 169.50,76.00 170.00,76.00 170.50,76.00 171.00,76.00 171.50,76.00 172.00,76.00 172.50,76.00 173.00,76.00 173.50,76.00 174.00,76.00 174.50,76.00 175.00,76.00 175.50,76.00 176.00,76.00 176.50,76.00 177.00,76.00 177.50,76.00 178.00,76.00 178.50,76.00 179.00,76.00 179.50,76.00 180.00,76.00 180.50,76.00 181.00,76.00 181.50,76.00 182.00,76.00 182.50,76.00 183.00,76.00 183.50,76.00 184.00,76.00 184.50,76.00 185.00,76.00 185.50,76.00 186.00,76.00 186.50,76.00 187.00,76.00 187.50,80.05 188.00,82.51 188.50,84.00 189.00,84.91 189.50,85.45 190.00,85.79 190.50,85.99 191.00,86.11 191.50,86.19 192.00,86.23 192.50,86.26 193.00,86.27 193.50,86.28 194.00,86.29 194.50,86.29 195.00,86.30 195.50,86.30 196.00,86.30 196.50,86.30 197.00,86.30 197.50,86.30 198.00,86.30 198.50,86.30 199.00,86.30 199.50,86.30 200.00,86.30" stroke="#cf80c8" stroke-width="0.7" fill="none" stroke-linejoin="round"/>
<polyline points="108.60,86.30 121.50,86.30 122.00,86.50 122.50,86.65 123.00,86.77 123.50,86.87 124.00,86.94 124.50,87.00 125.00,87.04 125.50,87.08 126.00,87.11 126.50,87.13 127.00,87.14 127.50,87.16 128.00,87.17 128.50,87.17 129.00,87.18 129.50,87.18 130.00,87.19 130.50,87.19 131.00,87.19 131.50,87.19 132.00,87.20 132.50,87.20 133.00,87.20 133.50,87.20 134.00,87.20 134.50,87.20 135.00,87.20 135.50,87.20 136.00,87.20 136.50,87.20 137.00,87.20 137.50,87.20 138.00,87.20 138.50,87.20 139.00,87.20 139.50,87.20 140.00,87.20 140.50,87.20 141.00,87.20 141.50,87.20 142.00,87.20 142.50,87.20 143.00,87.20 143.50,87.20 144.00,87.20 144.50,87.20 145.00,87.20 145.50,87.20 146.00,87.20 146.50,87.20 147.00,87.20 147.50,87.20 148.00,87.20 148.50,87.20 149.00,87.20 149.50,87.20 150.00,87.20 150.50,87.20 151.00,87.20 151.50,87.20 152.00,87.20 152.50,87.20 153.00,87.20 153.50,87.20 154.00,87.20 154.50,87.20 155.00,87.20 155.50,87.20 156.00,87.20 156.50,87.20 157.00,87.20 157.50,87.20 158.00,87.20 158.50,87.20 159.00,87.20 159.50,87.20 160.00,87.20 160.50,87.20 161.00,87.20 161.50,87.20 162.00,87.20 162.50,87.20 163.00,87.20 163.50,87.20 164.00,87.20 164.50,87.20 165.00,87.20 165.50,87.20 166.00,87.20 166.50,87.20 167.00,87.20 167.50,87.20 168.00,87.20 168.50,87.20 169.00,87.20 169.50,87.20 170.00,87.20 170.50,87.20 171.00,87.20 171.50,87.20 172.00,87.20 172.50,87.20 173.00,87.20 173.50,87.20 174.00,87.20 174.50,87.20 175.00,87.20 175.50,87.20 176.00,87.20 176.50,87.20 177.00,87.20 177.50,87.20 178.00,87.20 178.50,87.20 179.00,87.20 179.50,87.20 180.00,87.20 180.50,87.20 181.00,87.20 181.50,87.20 182.00,87.20 182.50,87.20 183.00,87.20 183.50,87.20 184.00,87.20 184.50,87.20 185.00,87.20 185.50,87.20 186.00,87.20 186.50,87.20 187.00,87.20 187.50,86.94 188.00,86.76 188.50,86.63 189.00,86.54 189.50,86.47 190.00,86.42 190.50,86.39 191.00,86.36 191.50,86.34 192.00,86.33 192.50,86.32 193.00,86.32 193.50,86.31 194.00,86.31 194.50,86.31 195.00,86.30 195.50,86.30 196.00,86.30 196.50,86.30 197.00,86.30 197.50,86.30 198.00,86.30 198.50,86.30 199.00,86.30 199.50,86.30 200.00,86.30" stroke="#7a3a78" stroke-width="1.0" fill="none" stroke-linejoin="round"/>
<polyline points="108.60,86.30 121.50,86.30 122.00,87.65 122.50,88.79 123.00,89.76 123.50,90.58 124.00,91.26 124.50,91.85 125.00,92.34 125.50,92.75 126.00,93.10 126.50,93.39 127.00,93.64 127.50,93.84 128.00,94.02 128.50,94.16 129.00,94.28 129.50,94.39 130.00,94.47 130.50,94.54 131.00,94.60 131.50,94.65 132.00,94.69 132.50,94.72 133.00,94.74 133.50,94.77 134.00,94.78 134.50,94.79 135.00,94.80 135.50,94.81 136.00,94.82 136.50,94.82 137.00,94.82 137.50,94.82 138.00,94.82 138.50,94.82 139.00,94.82 139.50,94.81 140.00,94.81 140.50,94.81 141.00,94.80 141.50,94.80 142.00,94.79 142.50,94.79 143.00,94.78 143.50,94.78 144.00,94.77 144.50,94.77 145.00,94.76 145.50,94.76 146.00,94.75 146.50,94.75 147.00,94.74 147.50,94.74 148.00,94.73 148.50,94.73 149.00,94.72 149.50,94.72 150.00,94.72 150.50,94.71 151.00,94.71 151.50,94.70 152.00,94.70 152.50,94.69 153.00,94.69 153.50,94.69 154.00,94.68 154.50,94.68 155.00,94.67 155.50,94.67 156.00,94.67 156.50,94.66 157.00,94.66 157.50,94.66 158.00,94.65 158.50,94.65 159.00,94.65 159.50,94.64 160.00,94.64 160.50,94.64 161.00,94.63 161.50,94.63 162.00,94.63 162.50,94.63 163.00,94.62 163.50,94.62 164.00,94.62 164.50,94.62 165.00,94.61 165.50,94.61 166.00,94.61 166.50,94.61 167.00,94.60 167.50,94.60 168.00,94.60 168.50,94.60 169.00,94.59 169.50,94.59 170.00,94.59 170.50,94.59 171.00,94.59 171.50,94.58 172.00,94.58 172.50,94.58 173.00,94.58 173.50,94.58 174.00,94.58 174.50,94.57 175.00,94.57 175.50,94.57 176.00,94.57 176.50,94.57 177.00,94.57 177.50,94.56 178.00,94.56 178.50,94.56 179.00,94.56 179.50,94.56 180.00,94.56 180.50,94.56 181.00,94.55 181.50,94.55 182.00,94.55 182.50,94.55 183.00,94.55 183.50,94.55 184.00,94.55 184.50,94.55 185.00,94.54 185.50,94.54 186.00,94.54 186.50,94.54 187.00,94.54 187.50,92.72 188.00,91.30 188.50,90.19 189.00,89.33 189.50,88.66 190.00,88.14 190.50,87.73 191.00,87.42 191.50,87.17 192.00,86.98 192.50,86.83 193.00,86.71 193.50,86.62 194.00,86.55 194.50,86.49 195.00,86.45 195.50,86.42 196.00,86.39 196.50,86.37 197.00,86.36 197.50,86.34 198.00,86.33 198.50,86.33 199.00,86.32 199.50,86.32 200.00,86.31" stroke="#5e2a5c" stroke-width="1.1" fill="none" stroke-linejoin="round"/>
<line x1="108.60" y1="86.30" x2="121.50" y2="86.30" stroke="#b848b0" stroke-width="2.2"/>
<polyline points="187.00,84.00 190.00,84.00 200.00,83.60" stroke="#b848b0" stroke-width="1.3" fill="none" stroke-linejoin="round"/>
<polyline points="187.00,90.00 190.00,89.50 200.00,89.60" stroke="#b848b0" stroke-width="1.3" fill="none" stroke-linejoin="round"/>
<line x1="190.00" y1="86.60" x2="200.00" y2="86.60" stroke="#9a3c94" stroke-width="1.0"/>
<polyline points="213.90,83.40 227.20,83.40 227.60,69.24 228.00,61.97 228.15,29.00 228.45,64.47 228.97,63.84 229.49,63.30 230.01,62.84 230.52,62.46 231.04,62.17 231.56,61.96 232.08,61.83 232.60,61.79 232.75,29.50 233.05,64.29 233.55,64.16 234.05,64.04 234.56,63.92 235.06,63.80 235.56,63.68 236.06,63.56 236.56,63.45 237.07,63.34 237.57,63.23 238.07,63.12 238.57,63.01 239.08,62.91 239.58,62.81 240.08,62.71 240.58,62.61 241.08,62.51 241.59,62.42 242.09,62.32 242.59,62.23 243.09,62.14 243.59,62.06 244.10,61.97 244.60,61.89 245.10,61.81 245.60,61.73 246.11,61.65 246.61,61.57 247.11,61.50 247.61,61.42 248.11,61.35 248.62,61.28 249.12,61.21 249.62,61.15 250.12,61.08 250.62,61.02 251.13,60.96 251.63,60.90 252.13,60.84 252.63,60.78 253.14,60.72 253.64,60.67 254.14,60.61 254.64,60.56 255.14,60.51 255.65,60.46 256.15,60.42 256.65,60.37 257.15,60.32 257.65,60.28 258.16,60.24 258.66,60.20 259.16,60.16 259.66,60.12 260.17,60.08 260.67,60.04 261.17,60.01 261.67,59.97 262.17,59.94 262.68,59.91 263.18,59.88 263.68,59.85 264.18,59.82 264.68,59.79 265.19,59.76 265.69,59.74 266.19,59.71 266.69,59.69 267.20,59.67 267.70,59.64 268.20,59.62 268.70,59.60 269.20,59.58 269.71,59.57 270.21,59.55 270.71,59.53 271.21,59.51 271.71,59.50 272.22,59.48 272.72,59.47 273.22,59.46 273.72,59.45 274.23,59.43 274.73,59.42 275.23,59.41 275.73,59.40 276.23,59.39 276.74,59.38 277.24,59.38 277.74,59.37 278.24,59.36 278.74,59.35 279.25,59.35 279.75,59.34 280.25,59.34 280.75,59.33 281.26,59.33 281.76,59.32 282.26,59.32 282.76,59.32 283.26,59.32 283.77,59.31 284.27,59.31 284.77,59.31 285.27,59.31 285.77,59.31 286.28,59.30 286.78,59.30 287.28,59.30 287.78,59.30 288.29,59.30 288.79,59.30 289.29,59.30 289.79,59.30 290.29,59.30 290.80,59.30 291.30,59.30 291.80,59.30 292.30,66.99 292.80,72.23 293.30,75.80 293.80,78.23 294.30,79.88 294.80,81.00 295.30,81.77 295.80,82.29 296.30,82.64 296.80,82.89 297.30,83.05 297.80,83.16 298.30,83.24 298.80,83.29 299.30,83.32 299.80,83.35 300.30,83.37 300.80,83.38 301.30,83.38 301.80,83.39 302.30,83.39 302.80,83.39 303.30,83.40 303.80,83.40 304.30,83.40" stroke="#4cc4cc" stroke-width="0.9" fill="none" stroke-linejoin="round"/>
<polyline points="213.90,83.40 227.20,83.40 227.70,73.14 228.20,68.69 228.70,66.75 229.20,65.91 229.35,35.00 229.65,76.91 230.16,74.28 230.66,72.00 231.17,70.08 231.67,68.50 232.18,67.27 232.69,66.40 233.19,65.87 233.70,65.70 233.85,39.60 234.15,76.70 234.65,74.89 235.16,73.24 235.66,71.75 236.17,70.42 236.67,69.24 237.17,68.22 237.68,67.36 238.18,66.65 238.69,66.10 239.19,65.71 239.70,65.47 240.20,65.40 240.35,40.50 240.65,76.40 241.15,75.65 241.66,74.93 242.16,74.23 242.67,73.56 243.17,72.91 243.68,72.29 244.18,71.69 244.69,71.12 245.19,70.57 245.70,70.04 246.20,69.54 246.71,69.06 247.21,68.61 247.72,68.18 248.22,67.78 248.73,67.40 249.23,67.04 249.74,66.71 250.24,66.41 250.75,66.13 251.25,65.87 251.76,65.64 252.26,65.43 252.77,65.25 253.27,65.09 253.78,64.95 254.28,64.84 254.79,64.76 255.29,64.70 255.80,64.66 256.30,64.65 256.45,42.00 256.75,75.65 257.27,74.41 257.80,73.24 258.32,72.15 258.85,71.12 259.38,70.17 259.90,69.28 260.43,68.47 260.95,67.73 261.48,67.05 262.00,66.45 262.52,65.92 263.05,65.46 263.57,65.07 264.10,64.75 264.62,64.51 265.15,64.33 265.68,64.22 266.20,64.19 266.35,42.00 266.65,75.19 267.15,74.54 267.66,73.92 268.16,73.33 268.66,72.76 269.16,72.21 269.67,71.69 270.17,71.19 270.67,70.71 271.18,70.26 271.68,69.83 272.18,69.41 272.69,69.02 273.19,68.65 273.69,68.30 274.19,67.97 274.70,67.66 275.20,67.36 275.70,67.08 276.21,66.82 276.71,66.57 277.21,66.34 277.72,66.13 278.22,65.93 278.72,65.75 279.23,65.57 279.73,65.42 280.23,65.27 280.73,65.14 281.24,65.01 281.74,64.90 282.24,64.80 282.75,64.71 283.25,64.63 283.75,64.56 284.25,64.50 284.76,64.44 285.26,64.39 285.76,64.35 286.27,64.32 286.77,64.29 287.27,64.26 287.78,64.25 288.28,64.23 288.78,64.22 289.29,64.21 289.79,64.21 290.29,64.20 290.79,64.20 291.30,64.20 291.80,64.20 292.30,70.33 292.80,74.50 293.30,77.34 293.80,79.28 294.30,80.59 294.80,81.49 295.30,82.10 295.80,82.51 296.30,82.80 296.80,82.99 297.30,83.12 297.80,83.21 298.30,83.27 298.80,83.31 299.30,83.34 299.80,83.36 300.30,83.37 300.80,83.38 301.30,83.39 301.80,83.39 302.30,83.39 302.80,83.40 303.30,83.40 303.80,83.40 304.30,83.40" stroke="#4ec2ca" stroke-width="0.9" fill="none" stroke-linejoin="round"/>
<polyline points="213.90,83.40 227.20,83.40 227.75,74.09 228.30,70.37 228.85,68.88 229.40,68.28 229.95,68.04 230.50,67.95 230.65,44.00 230.95,79.95 231.46,79.15 231.97,78.37 232.48,77.62 233.00,76.90 233.51,76.21 234.02,75.54 234.53,74.90 235.04,74.29 235.56,73.70 236.07,73.15 236.58,72.62 237.09,72.11 237.60,71.64 238.11,71.19 238.62,70.77 239.14,70.37 239.65,70.00 240.16,69.66 240.67,69.35 241.18,69.06 241.69,68.81 242.21,68.58 242.72,68.37 243.23,68.19 243.74,68.04 244.25,67.92 244.77,67.83 245.28,67.76 245.79,67.72 246.30,67.70 246.45,33.00 246.75,79.70 247.33,73.02 247.92,69.01 248.50,67.67 248.65,41.30 248.95,79.67 249.45,79.30 249.96,78.94 250.46,78.59 250.97,78.25 251.47,77.91 251.97,77.59 252.48,77.27 252.98,76.96 253.49,76.66 253.99,76.36 254.50,76.07 255.00,75.80 255.50,75.52 256.01,75.26 256.51,75.00 257.02,74.75 257.52,74.51 258.02,74.28 258.53,74.05 259.03,73.83 259.54,73.61 260.04,73.40 260.54,73.20 261.05,73.01 261.55,72.82 262.06,72.63 262.56,72.46 263.07,72.29 263.57,72.12 264.07,71.96 264.58,71.81 265.08,71.66 265.59,71.52 266.09,71.38 266.59,71.25 267.10,71.12 267.60,71.00 268.11,70.89 268.61,70.78 269.11,70.67 269.62,70.57 270.12,70.47 270.63,70.38 271.13,70.29 271.64,70.20 272.14,70.12 272.64,70.04 273.15,69.97 273.65,69.90 274.16,69.84 274.66,69.78 275.16,69.72 275.67,69.66 276.17,69.61 276.68,69.56 277.18,69.52 277.68,69.48 278.19,69.44 278.69,69.40 279.20,69.37 279.70,69.34 280.21,69.31 280.71,69.28 281.21,69.26 281.72,69.24 282.22,69.22 282.73,69.20 283.23,69.18 283.73,69.17 284.24,69.16 284.74,69.15 285.25,69.14 285.75,69.13 286.25,69.12 286.76,69.12 287.26,69.11 287.77,69.11 288.27,69.11 288.78,69.10 289.28,69.10 289.78,69.10 290.29,69.10 290.79,69.10 291.30,69.10 291.80,69.10 292.30,73.67 292.80,76.77 293.30,78.89 293.80,80.33 294.30,81.31 294.80,81.98 295.30,82.43 295.80,82.74 296.30,82.95 296.80,83.09 297.30,83.19 297.80,83.26 298.30,83.30 298.80,83.33 299.30,83.36 299.80,83.37 300.30,83.38 300.80,83.39 301.30,83.39 301.80,83.39 302.30,83.40 302.80,83.40 303.30,83.40 303.80,83.40 304.30,83.40" stroke="#62cad2" stroke-width="0.9" fill="none" stroke-linejoin="round"/>
<polyline points="213.90,83.40 227.20,83.40 227.70,80.07 228.20,78.04 228.70,76.80 229.20,76.04 229.70,75.57 230.20,75.28 230.70,75.09 231.20,74.97 231.70,74.89 232.20,74.83 232.70,74.79 233.20,74.75 233.70,74.72 234.20,74.70 234.70,74.68 235.20,74.66 235.70,74.64 236.20,74.62 236.70,74.60 237.20,74.58 237.70,74.57 238.20,74.55 238.70,74.54 239.20,74.52 239.70,74.50 240.20,74.49 240.70,74.47 241.20,74.46 241.70,74.45 242.20,74.43 242.70,74.42 243.20,74.40 243.70,74.39 244.20,74.38 244.70,74.37 245.20,74.35 245.70,74.34 246.20,74.33 246.70,74.32 247.20,74.31 247.70,74.29 248.20,74.28 248.70,74.27 249.20,74.26 249.70,74.25 250.20,74.24 250.70,74.23 251.20,74.22 251.70,74.21 252.20,74.20 252.70,74.19 253.20,74.19 253.70,74.18 254.20,74.17 254.70,74.16 255.20,74.15 255.70,74.14 256.20,74.13 256.70,74.13 257.20,74.12 257.70,74.11 258.20,74.10 258.70,74.10 259.20,74.09 259.70,74.08 260.20,74.08 260.70,74.07 261.20,74.06 261.70,74.06 262.20,74.05 262.70,74.04 263.20,74.04 263.70,74.03 264.20,74.03 264.70,74.02 265.20,74.02 265.70,74.01 266.20,74.00 266.70,74.00 267.20,73.99 267.70,73.99 268.20,73.98 268.70,73.98 269.20,73.97 269.70,73.97 270.20,73.97 270.70,73.96 271.20,73.96 271.70,73.95 272.20,73.95 272.70,73.94 273.20,73.94 273.70,73.94 274.20,73.93 274.70,73.93 275.20,73.92 275.70,73.92 276.20,73.92 276.70,73.91 277.20,73.91 277.70,73.91 278.20,73.90 278.70,73.90 279.20,73.90 279.70,73.89 280.20,73.89 280.70,73.89 281.20,73.89 281.70,73.88 282.20,73.88 282.70,73.88 283.20,73.87 283.70,73.87 284.20,73.87 284.70,73.87 285.20,73.86 285.70,73.86 286.20,73.86 286.70,73.86 287.20,73.85 287.70,73.85 288.20,73.85 288.70,73.85 289.20,73.85 289.70,73.84 290.20,73.84 290.70,73.84 291.20,73.84 291.70,73.84 292.30,76.89 292.80,78.97 293.30,80.38 293.80,81.35 294.30,82.00 294.80,82.45 295.30,82.75 295.80,82.96 296.30,83.10 296.80,83.20 297.30,83.26 297.80,83.31 298.30,83.34 298.80,83.36 299.30,83.37 299.80,83.38 300.30,83.39 300.80,83.39 301.30,83.39 301.80,83.40 302.30,83.40 302.80,83.40 303.30,83.40 303.80,83.40 304.30,83.40" stroke="#6ccdd4" stroke-width="0.8" fill="none" stroke-linejoin="round"/>
<polyline points="213.90,83.40 227.20,83.40 227.70,83.67 228.20,83.87 228.70,84.03 229.20,84.16 229.70,84.26 230.20,84.33 230.70,84.39 231.20,84.44 231.70,84.47 232.20,84.50 232.70,84.52 233.20,84.54 233.70,84.55 234.20,84.56 234.70,84.57 235.20,84.58 235.70,84.58 236.20,84.59 236.70,84.59 237.20,84.59 237.70,84.59 238.20,84.60 238.70,84.60 239.20,84.60 239.70,84.60 240.20,84.60 240.70,84.60 241.20,84.60 241.70,84.60 242.20,84.60 242.70,84.60 243.20,84.60 243.70,84.60 244.20,84.60 244.70,84.60 245.20,84.60 245.70,84.60 246.20,84.60 246.70,84.60 247.20,84.60 247.70,84.60 248.20,84.60 248.70,84.60 249.20,84.60 249.70,84.60 250.20,84.60 250.70,84.60 251.20,84.60 251.70,84.60 252.20,84.60 252.70,84.60 253.20,84.60 253.70,84.60 254.20,84.60 254.70,84.60 255.20,84.60 255.70,84.60 256.20,84.60 256.70,84.60 257.20,84.60 257.70,84.60 258.20,84.60 258.70,84.60 259.20,84.60 259.70,84.60 260.20,84.60 260.70,84.60 261.20,84.60 261.70,84.60 262.20,84.60 262.70,84.60 263.20,84.60 263.70,84.60 264.20,84.60 264.70,84.60 265.20,84.60 265.70,84.60 266.20,84.60 266.70,84.60 267.20,84.60 267.70,84.60 268.20,84.60 268.70,84.60 269.20,84.60 269.70,84.60 270.20,84.60 270.70,84.60 271.20,84.60 271.70,84.60 272.20,84.60 272.70,84.60 273.20,84.60 273.70,84.60 274.20,84.60 274.70,84.60 275.20,84.60 275.70,84.60 276.20,84.60 276.70,84.60 277.20,84.60 277.70,84.60 278.20,84.60 278.70,84.60 279.20,84.60 279.70,84.60 280.20,84.60 280.70,84.60 281.20,84.60 281.70,84.60 282.20,84.60 282.70,84.60 283.20,84.60 283.70,84.60 284.20,84.60 284.70,84.60 285.20,84.60 285.70,84.60 286.20,84.60 286.70,84.60 287.20,84.60 287.70,84.60 288.20,84.60 288.70,84.60 289.20,84.60 289.70,84.60 290.20,84.60 290.70,84.60 291.20,84.60 291.70,84.60 292.30,84.38 292.80,84.20 293.30,84.06 293.80,83.94 294.30,83.84 294.80,83.76 295.30,83.70 295.80,83.64 296.30,83.60 296.80,83.56 297.30,83.53 297.80,83.51 298.30,83.49 298.80,83.47 299.30,83.46 299.80,83.45 300.30,83.44 300.80,83.43 301.30,83.43 301.80,83.42 302.30,83.42 302.80,83.41 303.30,83.41 303.80,83.41 304.30,83.41" stroke="#2f8a92" stroke-width="1.0" fill="none" stroke-linejoin="round"/>
<polyline points="213.90,83.40 227.20,83.40 227.70,84.85 228.20,86.08 228.70,87.12 229.20,88.00 229.70,88.74 230.20,89.36 230.70,89.89 231.20,90.33 231.70,90.70 232.20,91.01 232.70,91.28 233.20,91.50 233.70,91.68 234.20,91.83 234.70,91.96 235.20,92.07 235.70,92.16 236.20,92.23 236.70,92.29 237.20,92.34 237.70,92.38 238.20,92.41 238.70,92.44 239.20,92.46 239.70,92.47 240.20,92.48 240.70,92.49 241.20,92.50 241.70,92.50 242.20,92.50 242.70,92.50 243.20,92.50 243.70,92.50 244.20,92.49 244.70,92.49 245.20,92.48 245.70,92.48 246.20,92.47 246.70,92.47 247.20,92.46 247.70,92.45 248.20,92.45 248.70,92.44 249.20,92.43 249.70,92.42 250.20,92.42 250.70,92.41 251.20,92.40 251.70,92.40 252.20,92.39 252.70,92.38 253.20,92.38 253.70,92.37 254.20,92.36 254.70,92.36 255.20,92.35 255.70,92.35 256.20,92.34 256.70,92.33 257.20,92.33 257.70,92.32 258.20,92.32 258.70,92.31 259.20,92.31 259.70,92.30 260.20,92.30 260.70,92.29 261.20,92.29 261.70,92.28 262.20,92.28 262.70,92.27 263.20,92.27 263.70,92.26 264.20,92.26 264.70,92.25 265.20,92.25 265.70,92.25 266.20,92.24 266.70,92.24 267.20,92.23 267.70,92.23 268.20,92.23 268.70,92.22 269.20,92.22 269.70,92.22 270.20,92.21 270.70,92.21 271.20,92.21 271.70,92.20 272.20,92.20 272.70,92.20 273.20,92.19 273.70,92.19 274.20,92.19 274.70,92.18 275.20,92.18 275.70,92.18 276.20,92.18 276.70,92.17 277.20,92.17 277.70,92.17 278.20,92.16 278.70,92.16 279.20,92.16 279.70,92.16 280.20,92.16 280.70,92.15 281.20,92.15 281.70,92.15 282.20,92.15 282.70,92.14 283.20,92.14 283.70,92.14 284.20,92.14 284.70,92.14 285.20,92.13 285.70,92.13 286.20,92.13 286.70,92.13 287.20,92.13 287.70,92.13 288.20,92.12 288.70,92.12 289.20,92.12 289.70,92.12 290.20,92.12 290.70,92.12 291.20,92.11 291.70,92.11 292.30,90.23 292.80,88.81 293.30,87.72 293.80,86.86 294.30,86.18 294.80,85.63 295.30,85.20 295.80,84.84 296.30,84.56 296.80,84.33 297.30,84.15 297.80,84.00 298.30,83.88 298.80,83.78 299.30,83.70 299.80,83.64 300.30,83.59 300.80,83.55 301.30,83.51 301.80,83.49 302.30,83.47 302.80,83.45 303.30,83.44 303.80,83.43 304.30,83.42" stroke="#2a6e74" stroke-width="1.1" fill="none" stroke-linejoin="round"/>
<line x1="213.90" y1="83.40" x2="227.20" y2="83.40" stroke="#40b8c0" stroke-width="2.2"/>
<line x1="296.80" y1="83.40" x2="304.70" y2="83.40" stroke="#40b8c0" stroke-width="2.0"/>
<polygon points="332.40,76.50 332.60,39.00 345.00,43.50 370.00,48.00 397.60,54.00 397.60,77.50" fill="#ede534" stroke="none" fill-opacity="0.85"/>
<polygon points="332.60,39.00 333.50,34.00 360.00,38.00 397.60,42.00 397.60,54.00 370.00,48.00 345.00,43.50" fill="#f3eea0" stroke="none" fill-opacity="0.55"/>
<polyline points="319.40,81.40 332.30,81.40 332.65,75.60 333.00,71.00 333.15,29.80 333.45,77.00 334.00,73.67 334.55,71.67 335.10,71.00 335.25,34.07 335.55,77.00 336.10,73.67 336.65,71.67 337.20,71.00 337.35,35.16 337.65,77.00 338.20,73.67 338.75,71.67 339.30,71.00 339.45,36.76 339.75,77.00 340.30,73.67 340.85,71.67 341.40,71.00 341.55,33.13 341.85,77.00 342.40,73.67 342.95,71.67 343.50,71.00 343.65,35.31 343.95,77.00 344.50,73.67 345.05,71.67 345.60,71.00 345.75,36.16 346.05,77.00 346.60,73.67 347.15,71.67 347.70,71.00 347.85,36.74 348.15,77.00 348.70,73.67 349.25,71.67 349.80,71.00 349.95,33.56 350.25,77.00 350.80,73.67 351.35,71.67 351.90,71.00 352.05,35.30 352.35,77.00 352.90,73.67 353.45,71.67 354.00,71.00 354.15,36.84 354.45,77.00 355.00,73.67 355.55,71.67 356.10,71.00 356.25,34.42 356.55,77.00 357.10,73.67 357.65,71.67 358.20,71.00 358.35,33.99 358.65,77.00 359.20,73.67 359.75,71.67 360.30,71.00 360.45,38.07 360.75,77.00 361.30,73.67 361.85,71.67 362.40,71.00 362.55,34.93 362.85,77.00 363.40,73.67 363.95,71.67 364.50,71.00 364.65,36.99 364.95,77.00 365.50,73.67 366.05,71.67 366.60,71.00 366.75,36.29 367.05,77.00 367.60,73.67 368.15,71.67 368.70,71.00 368.85,36.92 369.15,77.00 369.70,73.67 370.25,71.67 370.80,71.00 370.95,39.13 371.25,77.00 371.80,73.67 372.35,71.67 372.90,71.00 373.05,38.97 373.35,77.00 373.90,73.67 374.45,71.67 375.00,71.00 375.15,38.83 375.45,77.00 376.00,73.67 376.55,71.67 377.10,71.00 377.25,39.62 377.55,77.00 378.10,73.67 378.65,71.67 379.20,71.00 379.35,39.90 379.65,77.00 380.20,73.67 380.75,71.67 381.30,71.00 381.45,39.55 381.75,77.00 382.30,73.67 382.85,71.67 383.40,71.00 383.55,36.21 383.85,77.00 384.40,73.67 384.95,71.67 385.50,71.00 385.65,38.93 385.95,77.00 386.50,73.67 387.05,71.67 387.60,71.00 387.75,37.02 388.05,77.00 388.60,73.67 389.15,71.67 389.70,71.00 389.85,40.87 390.15,77.00 390.70,73.67 391.25,71.67 391.80,71.00 391.95,40.33 392.25,77.00 392.80,73.67 393.35,71.67 393.90,71.00 394.05,40.73 394.35,77.00 394.90,73.67 395.45,71.67 396.00,71.00 396.15,39.57 396.45,77.00 397.07,71.75 397.70,71.00 398.20,74.32 398.70,76.58 399.20,78.12 399.70,79.17 400.20,79.88 400.70,80.37 401.20,80.70 401.70,80.92 402.20,81.07 402.70,81.18 403.20,81.25 403.70,81.30 404.20,81.33 404.70,81.35 405.20,81.37 405.70,81.38 406.20,81.38 406.70,81.39 407.20,81.39 407.70,81.40 408.20,81.40 408.70,81.40 409.20,81.40 409.70,81.40 410.20,81.40" stroke="#eae010" stroke-width="0.75" fill="none" stroke-linejoin="round"/>
<polyline points="319.40,81.40 332.30,81.40 332.93,76.86 333.57,73.89 334.20,71.94 334.35,37.70 334.65,77.94 335.19,76.32 335.72,74.94 336.26,73.81 336.79,72.94 337.33,72.31 337.86,71.94 338.40,71.81 338.55,37.72 338.85,77.81 339.39,76.19 339.92,74.81 340.46,73.69 340.99,72.81 341.53,72.19 342.06,71.81 342.60,71.69 342.75,40.49 343.05,77.69 343.59,76.06 344.12,74.68 344.66,73.56 345.19,72.68 345.73,72.06 346.26,71.68 346.80,71.56 346.95,40.61 347.25,77.56 347.79,75.93 348.32,74.55 348.86,73.43 349.39,72.55 349.93,71.93 350.46,71.55 351.00,71.43 351.15,37.98 351.45,77.43 351.99,75.80 352.52,74.43 353.06,73.30 353.59,72.43 354.13,71.80 354.66,71.42 355.20,71.30 355.35,38.02 355.65,77.30 356.19,75.67 356.72,74.30 357.26,73.17 357.79,72.30 358.33,71.67 358.86,71.30 359.40,71.17 359.55,40.66 359.85,77.17 360.39,75.55 360.92,74.17 361.46,73.04 361.99,72.17 362.53,71.54 363.06,71.17 363.60,71.04 363.75,39.50 364.05,77.04 364.59,75.42 365.12,74.04 365.66,72.92 366.19,72.04 366.73,71.41 367.26,71.04 367.80,70.91 367.95,40.80 368.25,76.91 368.79,75.29 369.32,73.91 369.86,72.79 370.39,71.91 370.93,71.29 371.46,70.91 372.00,70.79 372.15,41.46 372.45,76.79 372.99,75.16 373.52,73.78 374.06,72.66 374.59,71.78 375.13,71.16 375.66,70.78 376.20,70.66 376.35,41.07 376.65,76.66 377.19,75.03 377.72,73.66 378.26,72.53 378.79,71.65 379.33,71.03 379.86,70.65 380.40,70.53 380.55,40.07 380.85,76.53 381.39,74.90 381.92,73.53 382.46,72.40 382.99,71.53 383.53,70.90 384.06,70.53 384.60,70.40 384.75,41.99 385.05,76.40 385.59,74.77 386.12,73.40 386.66,72.27 387.19,71.40 387.73,70.77 388.26,70.40 388.80,70.27 388.95,43.91 389.25,76.27 389.79,74.65 390.32,73.27 390.86,72.14 391.39,71.27 391.93,70.64 392.46,70.27 393.00,70.14 393.15,42.46 393.45,76.14 393.99,74.52 394.52,73.14 395.06,72.02 395.59,71.14 396.13,70.52 396.66,70.14 397.20,70.02 397.35,41.56 397.65,76.02 397.67,70.75 397.70,70.00 398.20,73.64 398.70,76.12 399.20,77.80 399.70,78.95 400.20,79.73 400.70,80.27 401.20,80.63 401.70,80.87 402.20,81.04 402.70,81.16 403.20,81.23 403.70,81.29 404.20,81.32 404.70,81.35 405.20,81.36 405.70,81.38 406.20,81.38 406.70,81.39 407.20,81.39 407.70,81.39 408.20,81.40 408.70,81.40 409.20,81.40 409.70,81.40 410.20,81.40" stroke="#e8e060" stroke-width="0.6" fill="none" stroke-linejoin="round"/>
<polyline points="319.40,81.40 332.30,81.40 332.95,81.16 333.60,81.00 333.75,73.41 334.05,81.80 334.58,81.36 335.12,81.09 335.65,81.00 335.80,75.90 336.10,81.80 336.63,81.36 337.17,81.09 337.70,81.00 337.85,75.06 338.15,81.80 338.68,81.36 339.22,81.09 339.75,81.00 339.90,73.98 340.20,81.80 340.73,81.36 341.27,81.09 341.80,81.00 341.95,74.53 342.25,81.80 342.78,81.36 343.32,81.09 343.85,81.00 344.00,75.65 344.30,81.80 344.83,81.36 345.37,81.09 345.90,81.00 346.05,74.29 346.35,81.80 346.88,81.36 347.42,81.09 347.95,81.00 348.10,73.64 348.40,81.80 348.93,81.36 349.47,81.09 350.00,81.00 350.15,75.50 350.45,81.80 350.98,81.36 351.52,81.09 352.05,81.00 352.20,74.77 352.50,81.80 353.03,81.36 353.57,81.09 354.10,81.00 354.25,74.47 354.55,81.80 355.08,81.36 355.62,81.09 356.15,81.00 356.30,73.56 356.60,81.80 357.13,81.36 357.67,81.09 358.20,81.00 358.35,74.93 358.65,81.80 359.18,81.36 359.72,81.09 360.25,81.00 360.40,74.63 360.70,81.80 361.23,81.36 361.77,81.09 362.30,81.00 362.45,73.81 362.75,81.80 363.28,81.36 363.82,81.09 364.35,81.00 364.50,76.00 364.80,81.80 365.33,81.36 365.87,81.09 366.40,81.00 366.55,74.46 366.85,81.80 367.38,81.36 367.92,81.09 368.45,81.00 368.60,74.89 368.90,81.80 369.43,81.36 369.97,81.09 370.50,81.00 370.65,74.80 370.95,81.80 371.48,81.36 372.02,81.09 372.55,81.00 372.70,73.48 373.00,81.80 373.53,81.36 374.07,81.09 374.60,81.00 374.75,73.12 375.05,81.80 375.58,81.36 376.12,81.09 376.65,81.00 376.80,75.63 377.10,81.80 377.63,81.36 378.17,81.09 378.70,81.00 378.85,74.03 379.15,81.80 379.68,81.36 380.22,81.09 380.75,81.00 380.90,74.34 381.20,81.80 381.73,81.36 382.27,81.09 382.80,81.00 382.95,73.65 383.25,81.80 383.78,81.36 384.32,81.09 384.85,81.00 385.00,74.77 385.30,81.80 385.83,81.36 386.37,81.09 386.90,81.00 387.05,75.24 387.35,81.80 387.88,81.36 388.42,81.09 388.95,81.00 389.10,74.15 389.40,81.80 389.93,81.36 390.47,81.09 391.00,81.00 391.15,74.34 391.45,81.80 391.98,81.36 392.52,81.09 393.05,81.00 393.20,73.59 393.50,81.80 394.03,81.36 394.57,81.09 395.10,81.00 395.25,74.81 395.55,81.80 396.09,81.34 396.62,81.10 397.16,81.01 397.70,81.00 398.20,81.13 398.70,81.21 399.20,81.27 399.70,81.31 400.20,81.34 400.70,81.36 401.20,81.37 401.70,81.38 402.20,81.39 402.70,81.39 403.20,81.39 403.70,81.40 404.20,81.40 404.70,81.40 405.20,81.40 405.70,81.40 406.20,81.40 406.70,81.40 407.20,81.40 407.70,81.40 408.20,81.40 408.70,81.40 409.20,81.40 409.70,81.40 410.20,81.40" stroke="#8a8646" stroke-width="0.6" fill="none" stroke-linejoin="round"/>
<polyline points="319.40,81.40 332.30,81.40 332.80,83.10 333.30,84.53 333.80,85.74 334.30,86.76 334.80,87.63 335.30,88.35 335.80,88.97 336.30,89.48 336.80,89.92 337.30,90.28 337.80,90.59 338.30,90.85 338.80,91.06 339.30,91.24 339.80,91.39 340.30,91.52 340.80,91.62 341.30,91.70 341.80,91.77 342.30,91.83 342.80,91.88 343.30,91.92 343.80,91.94 344.30,91.97 344.80,91.99 345.30,92.00 345.80,92.01 346.30,92.01 346.80,92.02 347.30,92.02 347.80,92.02 348.30,92.02 348.80,92.01 349.30,92.01 349.80,92.00 350.30,92.00 350.80,91.99 351.30,91.98 351.80,91.98 352.30,91.97 352.80,91.96 353.30,91.95 353.80,91.95 354.30,91.94 354.80,91.93 355.30,91.92 355.80,91.91 356.30,91.91 356.80,91.90 357.30,91.89 357.80,91.88 358.30,91.87 358.80,91.87 359.30,91.86 359.80,91.85 360.30,91.84 360.80,91.84 361.30,91.83 361.80,91.82 362.30,91.82 362.80,91.81 363.30,91.80 363.80,91.80 364.30,91.79 364.80,91.79 365.30,91.78 365.80,91.77 366.30,91.77 366.80,91.76 367.30,91.76 367.80,91.75 368.30,91.75 368.80,91.74 369.30,91.73 369.80,91.73 370.30,91.72 370.80,91.72 371.30,91.72 371.80,91.71 372.30,91.71 372.80,91.70 373.30,91.70 373.80,91.69 374.30,91.69 374.80,91.68 375.30,91.68 375.80,91.68 376.30,91.67 376.80,91.67 377.30,91.67 377.80,91.66 378.30,91.66 378.80,91.65 379.30,91.65 379.80,91.65 380.30,91.64 380.80,91.64 381.30,91.64 381.80,91.63 382.30,91.63 382.80,91.63 383.30,91.63 383.80,91.62 384.30,91.62 384.80,91.62 385.30,91.61 385.80,91.61 386.30,91.61 386.80,91.61 387.30,91.60 387.80,91.60 388.30,91.60 388.80,91.60 389.30,91.59 389.80,91.59 390.30,91.59 390.80,91.59 391.30,91.59 391.80,91.58 392.30,91.58 392.80,91.58 393.30,91.58 393.80,91.58 394.30,91.57 394.80,91.57 395.30,91.57 395.80,91.57 396.30,91.57 396.80,91.56 397.30,91.56 398.20,89.37 398.70,87.71 399.20,86.44 399.70,85.43 400.20,84.64 400.70,84.00 401.20,83.50 401.70,83.08 402.20,82.75 402.70,82.49 403.20,82.27 403.70,82.10 404.20,81.96 404.70,81.84 405.20,81.75 405.70,81.68 406.20,81.62 406.70,81.57 407.20,81.53 407.70,81.50 408.20,81.48 408.70,81.46 409.20,81.44 409.70,81.43 410.20,81.42" stroke="#4e4d2a" stroke-width="1.1" fill="none" stroke-linejoin="round"/>
<line x1="319.40" y1="81.40" x2="332.30" y2="81.40" stroke="#e0d820" stroke-width="2.2"/>
<polyline points="397.70,78.00 401.70,80.00 410.40,79.00" stroke="#6a6840" stroke-width="1.0" fill="none" stroke-linejoin="round"/>
<polyline points="397.70,84.00 401.70,82.50 410.40,82.80" stroke="#e0d830" stroke-width="1.6" fill="none" stroke-linejoin="round"/>
<line x1="400.70" y1="81.40" x2="410.40" y2="81.40" stroke="#b8b040" stroke-width="1.0"/>
<text x="441.00" y="12.20" font-size="11.35" text-anchor="start" font-weight="normal" fill="#2a2a2a">Response at Rheobase</text>
<polyline points="456.20,76.00 468.50,76.00 469.00,72.88 469.50,70.73 470.00,69.25 470.50,68.21 471.00,67.47 471.50,66.94 472.00,66.56 472.50,66.27 473.00,66.05 473.50,65.87 474.00,65.72 474.50,65.59 475.00,65.48 475.50,65.37 476.00,65.27 476.50,65.18 477.00,65.09 477.50,65.00 478.00,64.92 478.50,64.83 479.00,64.75 479.50,64.66 480.00,64.58 480.50,64.49 481.00,64.41 481.50,64.32 482.00,64.24 482.50,64.16 483.00,64.07 483.50,63.99 484.00,63.91 484.50,63.82 485.00,63.74 485.50,63.66 486.00,63.57 486.50,63.49 487.00,63.40 487.50,63.32 488.00,63.24 488.50,63.15 489.00,63.07 489.50,62.99 490.00,62.90 490.50,62.82 491.00,62.73 491.50,62.65 492.00,62.57 492.50,62.48 493.00,62.40 493.70,18.00 494.10,68.50 494.60,68.22 495.10,67.94 495.60,67.67 496.10,67.40 496.60,67.14 497.10,66.89 497.60,66.64 498.10,66.40 498.60,66.16 499.10,65.93 499.60,65.70 500.10,65.48 500.60,65.26 501.10,65.06 501.60,64.85 502.10,64.65 502.60,64.46 503.10,64.28 503.60,64.09 504.10,63.92 504.60,63.75 505.10,63.59 505.60,63.43 506.10,63.28 506.60,63.13 507.10,62.99 507.60,62.85 508.10,62.72 508.60,62.60 509.10,62.48 509.60,62.37 510.10,62.26 510.60,62.16 511.10,62.06 511.60,61.97 512.10,61.89 512.60,61.81 513.10,61.74 513.60,61.67 514.10,61.61 514.60,61.55 515.10,61.50 515.60,61.46 516.10,61.42 516.60,61.38 517.10,61.35 517.60,61.33 518.10,61.32 518.60,61.31 519.10,61.30 519.50,18.00 519.90,67.50 520.40,67.25 520.90,67.01 521.40,66.78 521.90,66.56 522.40,66.35 522.90,66.15 523.40,65.97 523.90,65.79 524.40,65.62 524.90,65.47 525.40,65.32 525.90,65.19 526.40,65.06 526.90,64.95 527.40,64.85 527.90,64.76 528.40,64.67 528.90,64.60 529.40,64.54 529.90,64.49 530.40,64.45 530.90,64.43 531.40,64.41 531.90,64.40 532.50,65.76 533.00,66.97 533.50,68.03 534.00,68.96 534.50,69.79 535.00,70.52 535.50,71.16 536.00,71.73 536.50,72.23 537.00,72.68 537.50,73.07 538.00,73.41 538.50,73.72 539.00,73.98 539.50,74.22 540.00,74.43 540.50,74.61 541.00,74.78 541.50,74.92 542.00,75.05 542.50,75.16 543.00,75.26 543.50,75.35 544.00,75.42 544.50,75.49 545.00,75.55 545.50,75.60" stroke="#6e6e6e" stroke-width="1.05" fill="none" stroke-linejoin="round"/>
<polyline points="468.50,78.70 468.50,85.00 493.40,85.00 493.40,71.60" stroke="#e02a2a" stroke-width="1.3" fill="none" stroke-linejoin="round"/>
<text x="480.50" y="94.60" font-size="9.2" text-anchor="middle" font-weight="normal" fill="#2a2a2a">Latency</text>
<polyline points="412.50,36.60 412.50,46.50 425.60,46.50" stroke="#1e1e1e" stroke-width="1.3" fill="none" stroke-linejoin="round"/>
<text x="410.20" y="33.00" font-size="8.9" text-anchor="middle" font-weight="normal" fill="#2a2a2a" transform="rotate(-90 410.20 33.00)">20 mV</text>
<text x="428.60" y="56.20" font-size="8.9" text-anchor="middle" font-weight="normal" fill="#2a2a2a">100 ms</text>
<polyline points="577.30,72.00 578.10,71.19 578.90,71.60 579.70,68.51 580.50,70.21 581.30,69.06 582.10,74.18 582.90,70.97 583.70,68.25 584.50,69.06 585.30,71.01 586.10,69.98 586.90,71.94 587.70,74.12 588.50,70.77 589.30,71.79 590.10,69.57 590.90,73.64 591.70,71.77 592.50,74.53 593.30,71.15 594.10,74.04 594.90,68.95 595.70,73.91 596.50,71.46 597.30,68.60 598.10,71.86 598.90,69.90 599.70,67.80 600.50,68.26 601.30,67.85 602.10,70.69 602.90,73.42 603.70,71.85 604.50,72.28 605.70,68.50 607.20,45.00 608.60,31.70 609.60,45.00 611.50,75.00 613.20,100.00 614.40,106.40 615.60,100.00 617.00,82.00 618.30,68.50 619.70,68.64 620.50,72.10 621.30,70.79 622.10,68.65 622.90,70.88 623.70,73.49 624.50,72.36 625.30,73.16 626.10,67.81 626.90,69.57 627.70,74.59 628.50,68.13 629.30,68.99 630.10,70.51 630.90,68.25 631.70,69.29 632.50,73.92 633.30,72.16 634.10,72.30 634.90,72.88 635.70,73.73 636.50,68.62 637.30,69.54 638.10,67.91 638.90,70.08 639.70,72.35 640.50,70.24 641.30,71.92 642.10,74.59 642.90,70.84 643.70,71.79 644.50,71.52 645.30,70.90 646.10,68.56 646.90,70.47 647.70,73.27 648.50,72.87 649.30,73.77 650.10,73.90 650.90,73.58 651.70,70.46 652.50,74.49 653.30,70.18 654.10,70.02 654.90,68.95 655.70,69.49 656.50,72.53 657.30,73.11 658.10,68.19 658.90,73.19 659.70,74.12 660.50,71.56 661.30,68.58 662.10,71.40 662.90,69.94 663.70,71.86 664.50,67.87 665.30,68.08" stroke="#bdbdbd" stroke-width="0.9" fill="none" stroke-linejoin="round"/>
<polyline points="577.30,90.90 577.70,90.90 578.10,90.90 578.50,90.90 578.90,90.91 579.30,90.91 579.70,90.91 580.10,90.91 580.50,90.92 580.90,90.92 581.30,90.93 581.70,90.93 582.10,90.94 582.50,90.94 582.90,90.95 583.30,90.95 583.70,90.96 584.10,90.96 584.50,90.97 584.90,90.97 585.30,90.98 585.70,90.98 586.10,90.99 586.50,90.99 586.90,90.99 587.30,91.00 587.70,91.00 588.10,91.00 588.50,91.00 588.90,91.00 589.30,91.00 589.70,91.00 590.10,91.00 590.50,91.00 590.90,90.99 591.30,90.99 591.70,90.99 592.10,90.98 592.50,90.97 592.90,90.96 593.30,90.95 593.70,90.94 594.10,90.93 594.50,90.92 594.90,90.90 595.30,90.89 595.70,90.86 596.10,90.84 596.50,90.80 596.90,90.77 597.30,90.73 597.70,90.68 598.10,90.63 598.50,90.58 598.90,90.53 599.30,90.47 599.70,90.41 600.10,90.35 600.50,90.29 600.90,90.22 601.30,90.15 601.70,90.09 602.10,90.02 602.50,89.95 602.90,89.88 603.30,89.82 603.70,89.76 604.10,89.70 604.50,89.64 604.90,89.56 605.30,89.46 605.70,89.34 606.10,89.19 606.50,89.01 606.90,88.86 607.30,88.86 607.70,88.29 608.10,86.35 608.50,82.87 608.90,78.60 609.30,74.29 609.70,70.70 610.10,67.85 610.50,65.32 610.90,62.76 611.30,59.80 611.70,56.10 612.10,51.95 612.50,47.92 612.90,44.38 613.30,41.10 613.70,38.17 614.10,35.70 614.50,33.76 614.90,32.27 615.30,31.41 615.70,31.21 616.10,31.59 616.50,32.40 616.90,33.50 617.30,34.84 617.70,36.41 618.10,38.21 618.50,40.13 618.90,42.04 619.30,43.85 619.70,45.62 620.10,47.38 620.50,49.15 620.90,50.95 621.30,52.76 621.70,54.58 622.10,56.43 622.50,58.33 622.90,60.30 623.30,62.40 623.70,64.58 624.10,66.79 624.50,69.00 624.90,71.26 625.30,73.58 625.70,75.79 626.10,77.77 626.50,79.58 626.90,81.29 627.30,82.91 627.70,84.42 628.10,85.85 628.50,87.19 628.90,88.45 629.30,89.60 629.70,90.63 630.10,91.51 630.50,92.29 630.90,93.00 631.30,93.66 631.70,94.26 632.10,94.83 632.50,95.36 632.90,95.87 633.30,96.37 633.70,96.83 634.10,97.25 634.50,97.63 634.90,97.98 635.30,98.28 635.70,98.54 636.10,98.76 636.50,98.96 636.90,99.12 637.30,99.27 637.70,99.40 638.10,99.52 638.50,99.63 638.90,99.73 639.30,99.83 639.70,99.92 640.10,100.03 640.50,100.12 640.90,100.21 641.30,100.30 641.70,100.37 642.10,100.44 642.50,100.49 642.90,100.54 643.30,100.58 643.70,100.62 644.10,100.65 644.50,100.68 644.90,100.71 645.30,100.74 645.70,100.77 646.10,100.79 646.50,100.82 646.90,100.85 647.30,100.87 647.70,100.90 648.10,100.92 648.50,100.95 648.90,100.97 649.30,100.99 649.70,101.01 650.10,101.03 650.50,101.05 650.90,101.07 651.30,101.09 651.70,101.10 652.10,101.12 652.50,101.13 652.90,101.15 653.30,101.16 653.70,101.17 654.10,101.18 654.50,101.19 654.90,101.20 655.30,101.20 655.70,101.21 656.10,101.21 656.50,101.21 656.90,101.21 657.30,101.21 657.70,101.20 658.10,101.20 658.50,101.19 658.90,101.18 659.30,101.18 659.70,101.17 660.10,101.15 660.50,101.14 660.90,101.13 661.30,101.12 661.70,101.11 662.10,101.09 662.50,101.08 662.90,101.07 663.30,101.06 663.70,101.05 664.10,101.04 664.50,101.02 664.90,101.01 665.30,101.01" stroke="#1a1a1a" stroke-width="1.7" fill="none" stroke-linejoin="round"/>
<line x1="615.50" y1="31.90" x2="615.50" y2="87.80" stroke="#e8262a" stroke-width="1.4"/>
<line x1="611.30" y1="59.80" x2="622.80" y2="59.80" stroke="#e8262a" stroke-width="1.4"/>
<line x1="608.00" y1="87.80" x2="629.60" y2="87.80" stroke="#e8262a" stroke-width="1.4"/>
<circle cx="615.50" cy="31.90" r="2.2" fill="#e8262a"/>
<circle cx="611.30" cy="59.80" r="2.2" fill="#e8262a"/>
<circle cx="622.80" cy="59.80" r="2.2" fill="#e8262a"/>
<circle cx="608.00" cy="87.80" r="2.2" fill="#e8262a"/>
<text x="615.60" y="29.00" font-size="8.9" text-anchor="middle" font-weight="normal" fill="#1e1e1e">Peak</text>
<text x="606.60" y="60.10" font-size="8.9" text-anchor="end" font-weight="normal" fill="#1e1e1e">Width</text>
<text x="603.20" y="88.90" font-size="8.9" text-anchor="end" font-weight="normal" fill="#1e1e1e">Threshold</text>
<polyline points="644.50,27.00 644.50,40.50 664.40,40.50" stroke="#1e1e1e" stroke-width="1.3" fill="none" stroke-linejoin="round"/>
<text x="641.90" y="27.30" font-size="8.9" text-anchor="middle" font-weight="normal" fill="#2a2a2a" transform="rotate(-90 641.90 27.30)">20 mV</text>
<text x="654.30" y="50.30" font-size="8.9" text-anchor="middle" font-weight="normal" fill="#2a2a2a">3 ms</text>
</svg></body></html>
